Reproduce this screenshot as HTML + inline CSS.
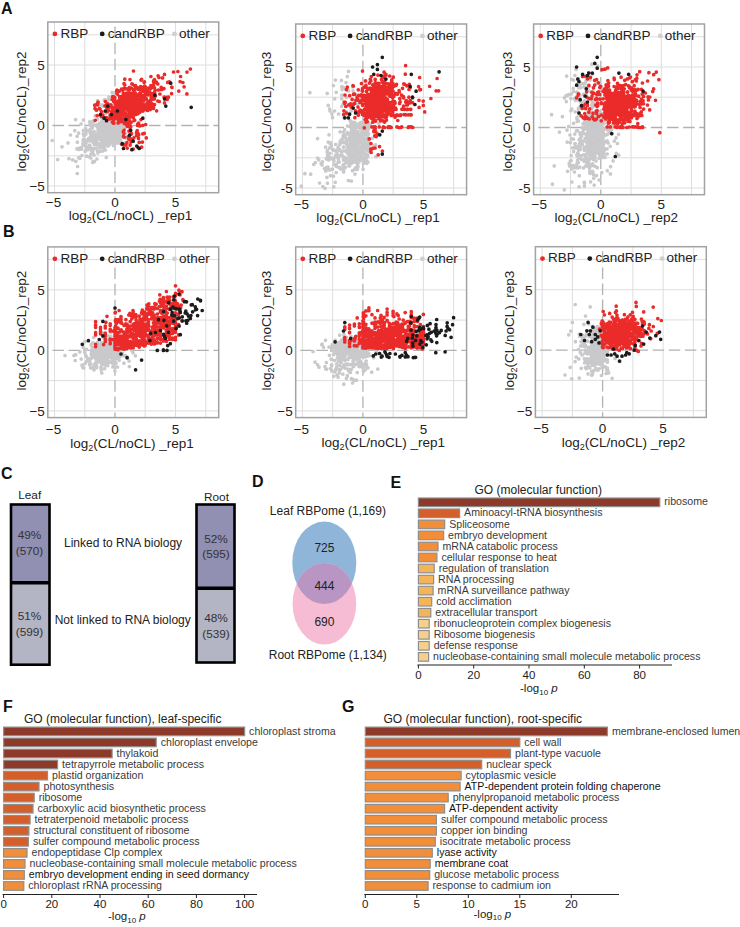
<!DOCTYPE html>
<html><head><meta charset="utf-8"><style>
html,body{margin:0;padding:0;background:#fff;width:740px;height:927px;overflow:hidden}
svg{display:block;font-family:"Liberation Sans",sans-serif}
</style></head><body>
<svg width="740" height="927" viewBox="0 0 740 927">
<rect width="740" height="927" fill="#fff"/>
<path d="M54.5 22.0V192.7M84.8 22.0V192.7M145.2 22.0V192.7M175.5 22.0V192.7M205.8 22.0V192.7M47.8 186.0H218.7M47.8 155.8H218.7M47.8 95.2H218.7M47.8 65.0H218.7M47.8 34.8H218.7" stroke="#dedede" stroke-width="1" fill="none"/>
<path d="M115.0 22.0V192.7M47.8 125.5H218.7" stroke="#b2b2b2" stroke-width="1.3" stroke-dasharray="11.5 4.6" stroke-dashoffset="-4.6" fill="none"/>
<path d="M104.5 133.7h0M116.6 128.3h0M115.9 134.2h0M117.2 132.0h0M103.2 133.7h0M102.6 123.3h0M120.0 136.3h0M107.7 126.9h0M105.6 139.8h0M105.3 136.1h0M113.8 122.7h0M105.8 122.8h0M112.4 124.0h0M117.5 140.2h0M114.2 140.9h0M101.8 135.0h0M116.7 131.3h0M105.4 125.3h0M119.4 138.5h0M110.4 129.8h0M119.2 140.9h0M112.4 122.6h0M113.5 128.0h0M116.7 132.6h0M107.3 130.8h0M111.9 136.2h0M118.2 135.7h0M111.1 127.1h0M117.4 124.3h0M114.3 138.1h0M118.1 123.8h0M115.5 126.9h0M111.6 132.9h0M113.0 140.4h0M114.8 124.9h0M104.9 127.2h0M115.4 141.0h0M102.7 130.7h0M105.9 136.9h0M113.7 129.5h0M116.2 131.3h0M108.2 143.4h0M103.9 139.5h0M111.9 128.0h0M105.7 135.2h0M119.8 134.9h0M115.5 130.2h0M114.5 133.3h0M112.2 128.4h0M104.8 126.3h0M118.6 142.6h0M105.5 138.2h0M103.5 140.6h0M114.1 141.0h0M103.0 123.0h0M109.5 131.9h0M110.9 136.2h0M110.5 139.4h0M112.9 138.2h0M104.5 139.1h0M109.7 123.4h0M113.3 122.3h0M109.4 138.0h0M115.4 139.5h0M121.0 135.1h0M106.9 137.7h0M107.6 123.2h0M120.9 131.5h0M106.2 143.4h0M103.2 137.2h0M114.1 130.0h0M118.2 125.8h0M108.5 129.0h0M110.3 127.8h0M105.3 122.4h0M102.1 130.2h0M108.5 126.2h0M104.5 124.2h0M101.8 127.6h0M115.3 132.6h0M105.1 135.3h0M110.3 139.0h0M104.8 125.3h0M112.3 137.8h0M113.8 129.9h0M104.3 130.9h0M113.0 141.2h0M107.5 124.8h0M112.9 138.8h0M109.3 133.7h0M115.4 124.9h0M103.4 142.6h0M110.2 143.2h0M104.7 141.3h0M103.4 130.0h0M103.5 131.3h0M120.4 140.6h0M116.4 130.9h0M105.0 123.0h0M116.0 135.4h0M118.9 141.4h0M117.8 125.3h0M103.9 123.7h0M116.9 123.7h0M107.1 127.6h0M116.8 136.1h0M102.4 143.3h0M111.5 131.7h0M104.1 129.9h0M102.7 133.2h0M111.6 139.2h0M102.6 124.0h0M118.2 130.8h0M102.3 132.2h0M120.3 126.9h0M115.0 142.8h0M112.9 138.6h0M120.8 143.4h0M106.0 124.5h0M104.0 137.1h0M107.6 124.4h0M115.2 123.3h0M105.4 141.7h0M108.3 127.0h0M113.7 123.3h0M115.5 141.9h0M107.8 139.2h0M106.9 129.1h0M110.3 127.2h0M102.0 123.9h0M104.8 127.5h0M118.0 142.7h0M112.2 122.4h0M101.8 132.8h0M109.9 135.3h0M105.5 139.7h0M106.8 138.9h0M107.4 124.0h0M120.1 138.0h0M102.2 137.9h0M118.3 139.8h0M114.5 141.6h0M108.5 140.0h0M113.6 135.6h0M116.7 132.4h0M109.5 143.2h0M117.9 142.8h0M111.3 122.1h0M117.0 135.9h0M119.7 138.0h0M112.9 131.1h0M115.6 137.4h0M109.4 136.6h0M119.5 127.6h0M108.3 126.8h0M113.6 138.3h0M111.4 141.5h0M105.8 142.0h0M103.3 130.2h0M117.8 125.5h0M105.9 123.0h0M108.2 128.6h0M113.2 133.3h0M115.0 124.2h0M115.2 132.6h0M118.4 127.4h0M108.9 122.3h0M109.5 142.8h0M120.3 123.1h0M112.1 127.3h0M115.2 141.5h0M117.1 130.0h0M120.4 133.2h0M107.1 126.9h0M112.4 124.6h0M102.5 128.7h0M119.3 139.7h0M103.4 133.0h0M114.3 129.9h0M111.9 136.3h0M115.4 122.1h0M111.5 135.0h0M120.4 139.8h0M112.6 125.4h0M117.0 127.4h0M114.9 133.9h0M120.4 143.6h0M109.9 133.8h0M115.6 137.4h0M105.5 133.9h0M114.0 132.1h0M118.6 133.4h0M105.7 129.7h0M109.2 143.1h0M109.5 141.2h0M114.1 124.0h0M115.9 122.8h0M104.5 125.5h0M116.5 138.4h0M110.9 139.9h0M107.7 132.2h0M109.2 135.2h0M115.5 128.9h0M103.9 131.2h0M116.7 142.9h0M116.2 143.2h0M110.0 135.3h0M102.1 142.0h0M114.7 137.8h0M111.7 140.1h0M113.6 123.3h0M116.3 135.7h0M120.2 136.0h0M107.1 134.5h0M120.8 135.2h0M107.3 131.8h0M114.0 127.1h0M115.4 129.0h0M109.7 134.1h0M120.7 132.9h0M116.4 135.8h0M101.9 135.1h0M111.8 135.0h0M105.8 140.1h0M102.7 128.3h0M111.9 125.9h0M118.4 127.3h0M117.1 124.0h0M119.4 125.8h0M119.0 136.1h0M121.0 124.2h0M117.4 125.2h0M116.1 131.1h0M111.7 123.4h0M107.2 129.6h0M119.8 137.9h0M104.7 136.9h0M110.2 132.6h0M106.2 138.4h0M104.5 133.4h0M104.4 136.0h0M105.0 129.9h0M113.7 138.6h0M121.0 137.5h0M119.2 137.1h0M112.6 130.8h0M112.9 136.3h0M117.0 130.1h0M112.5 133.2h0M107.2 134.8h0M115.9 128.2h0M121.0 127.8h0M120.9 136.5h0M107.0 121.9h0M109.9 131.0h0M118.5 140.9h0M104.0 133.5h0M105.6 142.3h0M115.5 131.7h0M110.5 129.7h0M96.5 110.6h0M100.6 104.9h0M103.0 105.2h0M112.6 120.9h0M108.1 105.1h0M108.1 122.6h0M103.1 119.8h0M109.0 120.0h0M112.1 98.0h0M93.2 121.5h0M108.6 121.2h0M102.8 105.8h0M108.6 99.7h0M101.7 121.4h0M114.6 100.2h0M95.1 115.8h0M103.4 119.9h0M103.6 113.3h0M114.9 97.0h0M107.3 104.7h0M104.9 99.6h0M111.7 120.0h0M112.2 92.4h0M103.9 112.7h0M104.2 100.1h0M111.5 113.2h0M108.3 99.8h0M103.2 121.1h0M111.4 105.8h0M91.5 122.0h0M106.1 100.6h0M102.5 105.5h0M108.9 97.1h0M105.6 100.0h0M101.9 117.9h0M104.2 137.2h0M111.8 120.4h0M83.3 130.6h0M97.9 127.5h0M112.9 113.8h0M88.7 131.0h0M101.5 145.9h0M111.0 123.0h0M89.2 138.7h0M85.2 151.3h0M100.6 139.4h0M96.7 133.9h0M119.9 129.0h0M112.4 130.9h0M96.2 148.7h0M98.6 132.1h0M79.8 158.4h0M86.1 143.1h0M113.0 132.5h0M85.6 128.6h0M106.2 132.3h0M94.6 148.3h0M118.0 134.3h0M99.3 123.6h0M84.5 139.9h0M104.5 131.2h0M125.5 133.5h0M106.8 129.7h0M113.2 142.8h0M77.3 142.2h0M113.5 145.6h0M124.6 133.0h0M122.8 125.2h0M111.4 142.2h0M83.3 139.5h0M96.8 124.8h0M106.7 133.9h0M83.4 134.2h0M108.4 124.7h0M110.3 142.4h0M101.8 126.5h0M92.0 132.4h0M113.4 130.3h0M90.0 124.2h0M82.9 144.1h0M107.2 136.2h0M106.3 128.9h0M105.1 131.1h0M105.5 113.5h0M120.0 135.0h0M80.0 148.0h0M113.8 131.8h0M102.0 140.4h0M90.4 133.7h0M96.3 142.9h0M95.8 135.8h0M86.6 130.6h0M103.7 126.6h0M95.7 142.3h0M112.0 136.2h0M99.0 129.4h0M88.3 139.5h0M91.0 135.7h0M104.6 131.1h0M120.4 139.6h0M102.3 146.1h0M110.0 132.8h0M86.2 146.5h0M80.9 147.6h0M91.0 154.0h0M78.5 148.7h0M89.3 156.8h0M104.0 139.4h0M83.4 140.2h0M99.6 146.5h0M78.8 157.7h0M104.9 127.0h0M100.3 131.6h0M87.9 149.7h0M119.9 127.7h0M103.4 130.6h0M96.6 141.2h0M113.3 122.4h0M107.3 140.1h0M102.3 132.5h0M97.5 138.5h0M120.8 130.3h0M97.6 151.0h0M89.5 145.1h0M103.4 138.9h0M100.3 124.8h0M87.0 140.3h0M96.8 140.0h0M103.5 134.1h0M92.8 151.5h0M111.9 130.0h0M91.4 126.4h0M102.6 141.2h0M85.2 140.7h0M105.3 139.7h0M109.4 116.8h0M98.9 144.5h0M103.3 125.0h0M121.9 123.0h0M105.2 140.3h0M122.6 137.5h0M106.3 145.7h0M105.2 123.6h0M120.9 130.0h0M81.9 155.5h0M95.4 138.0h0M94.1 141.4h0M100.8 132.5h0M79.2 149.4h0M126.3 123.7h0M97.9 152.9h0M105.0 121.5h0M120.3 133.6h0M85.9 133.9h0M113.7 136.4h0M104.8 125.8h0M101.6 142.0h0M109.1 130.9h0M109.8 144.5h0M126.2 138.1h0M112.4 116.9h0M100.3 122.8h0M108.3 119.6h0M83.2 141.4h0M100.4 135.3h0M99.4 130.3h0M107.1 133.1h0M103.9 139.6h0M92.3 127.8h0M99.6 137.7h0M100.4 128.8h0M92.7 149.0h0M100.7 135.9h0M88.5 138.6h0M114.1 120.4h0M111.4 123.9h0M112.0 124.4h0M118.2 121.4h0M75.9 161.3h0M100.5 132.1h0M84.1 136.0h0M102.0 122.4h0M117.1 120.5h0M104.8 145.0h0M99.2 125.4h0M113.8 130.1h0M102.1 147.0h0M114.0 130.3h0M104.9 136.1h0M107.0 134.2h0M98.2 131.7h0M97.5 119.2h0M107.4 121.2h0M99.0 139.0h0M106.3 157.4h0M93.7 140.5h0M97.1 126.7h0M125.4 127.4h0M101.2 131.1h0M101.1 146.7h0M91.8 125.4h0M94.3 124.9h0M105.4 150.0h0M103.3 124.3h0M111.7 135.6h0M106.9 131.5h0M92.1 148.4h0M96.9 159.0h0M89.9 146.1h0M118.6 136.8h0M113.2 127.5h0M95.2 143.1h0M107.3 133.1h0M93.0 134.3h0M93.6 143.0h0M122.9 125.7h0M92.0 141.3h0M86.3 149.6h0M100.3 151.2h0M102.2 139.4h0M89.2 140.8h0M105.5 140.2h0M98.2 130.7h0M89.7 121.9h0M94.1 131.5h0M90.3 138.7h0M93.0 153.9h0M94.0 155.1h0M72.7 159.9h0M110.4 119.1h0M90.8 140.2h0M101.4 138.5h0M123.3 134.3h0M119.6 111.2h0M90.2 129.3h0M103.1 144.5h0M90.9 133.6h0M83.6 145.3h0M95.2 141.3h0M92.7 162.5h0M117.9 128.2h0M62.0 146.8h0M108.2 145.9h0M90.8 158.0h0M98.0 129.7h0M98.2 132.4h0M101.3 136.7h0M94.4 144.5h0M96.2 135.7h0M107.4 138.4h0M114.2 127.7h0M111.3 131.1h0M81.6 149.1h0M87.0 147.1h0M103.3 137.9h0M99.2 131.8h0M107.6 121.7h0M101.1 147.5h0M102.8 151.0h0M109.3 130.4h0M104.6 128.0h0M111.7 125.9h0M89.2 138.1h0M112.0 120.6h0M95.1 144.3h0M123.5 126.2h0M118.1 131.1h0M103.8 147.8h0M112.7 134.9h0M77.1 136.3h0M102.9 125.6h0M102.6 132.5h0M104.6 134.7h0M86.5 147.0h0M99.6 147.4h0M118.5 136.2h0M91.6 150.6h0M113.2 134.7h0M89.7 148.2h0M119.7 132.9h0M104.9 137.3h0M106.4 119.7h0M77.6 166.5h0M92.8 137.4h0M99.1 130.5h0M120.8 142.7h0M68.0 142.9h0M86.6 156.2h0M78.7 133.1h0M101.7 123.5h0M99.4 135.8h0M110.6 140.8h0M112.9 106.6h0M69.0 158.7h0M94.5 161.6h0M97.3 144.9h0M77.0 148.9h0M52.2 140.5h0M57.7 159.6h0M81.1 124.0h0M107.5 133.2h0M93.1 161.3h0M98.5 143.6h0M77.3 173.5h0M124.7 143.0h0M75.6 119.6h0M94.6 137.3h0M70.5 135.0h0M110.2 118.5h0M83.4 120.0h0M92.9 121.2h0M97.5 100.6h0M74.8 130.7h0M115.6 133.9h0M109.3 123.7h0" stroke="#c9c9cb" stroke-width="3.7" stroke-linecap="round" fill="none"/>
<path d="M133.9 89.9h0M125.3 95.5h0M137.4 95.0h0M123.3 93.3h0M124.9 102.9h0M120.2 106.6h0M140.4 100.7h0M114.3 118.3h0M127.9 107.2h0M120.3 102.8h0M137.8 112.0h0M129.7 93.6h0M135.0 114.6h0M118.8 115.9h0M150.9 99.4h0M134.6 110.1h0M125.7 104.9h0M130.6 107.9h0M117.5 92.0h0M134.7 105.7h0M118.7 109.9h0M125.9 115.2h0M118.4 118.4h0M138.1 102.6h0M137.3 102.0h0M132.2 103.5h0M136.3 101.3h0M123.9 108.5h0M118.5 110.5h0M137.9 106.5h0M128.0 118.5h0M125.3 100.7h0M127.0 107.6h0M164.0 88.6h0M117.9 110.0h0M121.1 106.7h0M134.1 96.0h0M126.3 122.5h0M138.1 100.0h0M129.8 114.8h0M137.0 107.6h0M118.1 123.0h0M122.8 106.7h0M133.6 102.0h0M133.1 95.6h0M136.6 100.3h0M128.3 103.6h0M121.8 121.1h0M117.7 91.7h0M146.7 108.1h0M121.8 112.0h0M130.7 111.8h0M151.9 99.6h0M125.0 88.7h0M135.9 98.8h0M112.6 96.6h0M125.7 118.1h0M128.0 114.8h0M127.0 100.7h0M129.2 113.0h0M121.9 104.0h0M135.4 103.5h0M138.2 101.3h0M128.6 97.9h0M147.6 93.1h0M125.8 108.1h0M132.8 109.7h0M131.3 112.1h0M126.9 102.8h0M133.2 100.9h0M147.3 90.8h0M117.0 93.4h0M125.5 101.2h0M135.4 85.6h0M129.8 107.0h0M112.7 107.7h0M114.3 109.5h0M124.4 109.1h0M130.0 103.5h0M138.1 99.9h0M121.6 105.6h0M119.8 116.1h0M134.2 103.2h0M137.0 104.8h0M121.5 113.7h0M151.4 106.4h0M129.9 102.6h0M117.8 109.9h0M124.3 118.7h0M136.3 114.3h0M126.6 107.6h0M118.1 119.7h0M131.4 106.7h0M133.4 105.7h0M113.7 123.2h0M126.2 93.4h0M130.4 110.0h0M140.5 89.5h0M145.4 88.2h0M141.6 100.6h0M129.6 108.4h0M115.6 106.0h0M121.6 97.0h0M129.9 101.4h0M134.6 89.7h0M134.2 108.0h0M138.2 99.4h0M121.0 99.6h0M129.5 108.7h0M149.7 109.2h0M134.7 110.0h0M129.7 117.1h0M130.3 111.3h0M139.7 112.3h0M113.4 96.5h0M134.8 114.0h0M117.8 113.2h0M120.8 115.5h0M121.9 103.0h0M115.2 111.9h0M128.0 105.0h0M151.1 94.5h0M137.1 105.1h0M137.5 113.3h0M135.8 96.2h0M137.3 98.8h0M114.2 117.1h0M137.8 111.0h0M139.2 104.1h0M124.8 79.2h0M140.5 93.5h0M119.7 104.2h0M126.2 105.6h0M144.2 109.8h0M129.0 114.4h0M144.5 81.9h0M146.4 92.6h0M121.6 112.8h0M141.0 108.0h0M152.6 95.8h0M143.5 104.9h0M128.7 98.1h0M124.9 101.0h0M124.4 104.0h0M113.5 120.1h0M125.5 100.3h0M133.5 105.5h0M117.9 103.2h0M144.5 95.8h0M114.2 119.1h0M122.9 90.0h0M119.0 119.6h0M112.5 109.3h0M118.0 107.0h0M136.8 102.6h0M127.7 100.1h0M136.6 100.5h0M135.8 104.6h0M136.7 112.1h0M122.0 100.3h0M119.4 112.3h0M143.6 100.9h0M134.5 102.0h0M130.7 106.2h0M136.2 96.4h0M137.3 105.8h0M114.8 98.5h0M118.5 120.4h0M125.0 100.7h0M132.4 109.3h0M126.2 121.0h0M122.5 97.0h0M127.6 93.5h0M136.9 98.4h0M114.5 115.9h0M115.9 114.1h0M126.0 106.8h0M135.4 104.3h0M124.0 88.4h0M139.1 101.6h0M126.8 96.3h0M121.4 99.8h0M137.0 113.6h0M124.6 123.6h0M124.0 108.0h0M112.4 113.6h0M136.9 101.5h0M137.6 110.3h0M130.1 97.1h0M140.4 98.1h0M130.0 100.0h0M141.1 99.3h0M112.1 99.5h0M133.3 100.7h0M130.0 94.8h0M117.1 101.7h0M129.8 120.9h0M115.3 117.7h0M132.9 114.9h0M142.3 105.8h0M140.3 104.2h0M129.2 87.7h0M119.5 103.0h0M113.3 112.5h0M129.6 99.0h0M137.4 105.2h0M126.8 96.3h0M134.9 102.8h0M124.8 84.8h0M115.2 109.5h0M140.0 98.6h0M116.0 113.9h0M145.3 89.6h0M120.3 121.7h0M129.5 89.7h0M133.1 100.2h0M127.0 105.4h0M129.3 110.7h0M123.3 118.2h0M136.2 105.0h0M141.8 101.7h0M154.6 93.8h0M113.2 116.3h0M131.5 114.5h0M122.4 111.0h0M132.4 84.1h0M125.4 100.1h0M126.2 98.1h0M130.9 115.6h0M114.1 113.1h0M116.5 108.7h0M136.9 109.5h0M124.8 117.5h0M123.1 108.6h0M116.9 90.0h0M139.5 110.5h0M119.4 96.5h0M139.4 93.5h0M154.5 104.6h0M132.7 108.8h0M120.2 106.6h0M144.3 107.5h0M138.1 102.8h0M120.5 109.3h0M130.7 102.9h0M134.9 102.7h0M120.5 97.4h0M131.9 104.0h0M130.2 104.0h0M129.9 117.2h0M118.6 100.8h0M132.9 107.8h0M134.2 106.3h0M131.0 122.6h0M136.5 100.3h0M116.6 91.0h0M144.6 86.0h0M123.1 107.0h0M130.8 110.8h0M144.6 97.6h0M149.4 104.9h0M139.0 99.8h0M141.7 107.2h0M114.8 107.9h0M150.7 107.8h0M116.5 110.6h0M122.2 109.5h0M132.2 104.0h0M123.4 105.9h0M133.6 110.8h0M119.9 106.0h0M134.7 120.2h0M146.3 104.1h0M135.5 86.5h0M127.1 101.2h0M129.0 101.4h0M126.5 100.5h0M126.8 95.8h0M129.1 101.0h0M128.4 116.9h0M145.2 91.8h0M134.7 85.8h0M140.9 108.0h0M127.5 105.7h0M128.6 99.9h0M126.0 114.5h0M144.2 100.1h0M113.8 101.4h0M142.9 108.7h0M128.6 111.1h0M130.1 94.5h0M129.0 112.2h0M129.9 121.7h0M148.5 107.8h0M144.6 98.4h0M122.8 110.2h0M138.1 104.5h0M134.8 105.9h0M125.6 119.6h0M142.8 99.1h0M129.2 99.0h0M118.9 100.6h0M122.7 114.4h0M120.1 116.0h0M118.3 91.2h0M127.7 109.3h0M137.8 113.7h0M124.2 123.3h0M146.2 98.5h0M119.2 109.2h0M134.6 103.1h0M130.2 99.2h0M123.5 94.8h0M134.2 104.3h0M121.0 101.3h0M121.8 112.6h0M121.8 99.8h0M118.8 100.8h0M140.1 101.7h0M118.0 115.4h0M124.4 106.1h0M122.6 110.9h0M125.6 100.7h0M119.2 115.0h0M121.6 118.9h0M122.1 100.9h0M138.6 123.0h0M117.9 90.7h0M120.2 112.4h0M127.3 95.3h0M112.4 122.0h0M119.8 97.9h0M127.1 118.4h0M131.8 112.5h0M132.2 97.0h0M135.2 92.8h0M132.7 103.2h0M129.2 88.4h0M123.4 114.0h0M139.1 107.8h0M119.8 105.5h0M123.8 100.9h0M127.1 109.6h0M120.3 111.2h0M126.4 104.5h0M129.4 107.2h0M123.0 106.1h0M138.5 112.0h0M123.7 102.3h0M114.1 111.1h0M138.0 108.9h0M115.1 118.0h0M138.1 89.2h0M119.9 118.4h0M121.5 89.2h0M143.5 90.4h0M135.8 106.2h0M128.8 107.2h0M141.0 119.6h0M127.9 101.3h0M123.2 110.6h0M138.4 88.3h0M126.0 94.6h0M126.8 96.8h0M113.5 96.9h0M116.7 115.8h0M128.1 95.2h0M114.4 99.7h0M125.4 113.4h0M140.5 98.0h0M130.1 106.9h0M117.4 108.9h0M115.2 116.5h0M127.4 93.2h0M126.0 93.6h0M138.0 104.6h0M136.9 98.9h0M128.5 111.1h0M129.4 112.0h0M111.4 117.8h0M135.2 110.6h0M137.9 107.6h0M145.5 107.6h0M143.7 105.7h0M119.7 109.7h0M135.6 99.5h0M126.5 117.0h0M135.9 97.3h0M147.5 110.5h0M115.1 103.7h0M129.1 106.9h0M123.8 106.8h0M117.6 118.4h0M112.5 108.6h0M151.1 97.2h0M121.5 96.5h0M124.4 102.6h0M151.8 103.7h0M121.3 112.1h0M130.8 93.6h0M148.8 105.4h0M134.5 114.6h0M133.3 117.6h0M124.5 108.1h0M128.8 90.1h0M137.9 104.1h0M119.7 111.7h0M125.7 96.1h0M127.2 106.4h0M120.7 121.3h0M127.6 100.9h0M119.2 119.4h0M143.1 97.8h0M135.7 95.1h0M115.8 105.1h0M133.5 105.0h0M134.3 98.0h0M131.9 83.9h0M135.2 104.8h0M126.8 102.1h0M141.0 80.1h0M140.2 90.0h0M128.1 124.9h0M184.1 86.8h0M121.8 89.8h0M126.0 98.3h0M135.3 94.0h0M156.6 110.8h0M95.0 108.6h0M172.0 87.4h0M144.1 82.3h0M126.0 120.2h0M96.4 110.1h0M125.3 112.9h0M124.8 122.1h0M133.4 89.5h0M139.5 105.0h0M133.4 108.0h0M137.1 87.4h0M151.7 97.2h0M153.3 108.4h0M144.4 89.0h0M145.1 90.7h0M139.4 95.5h0M149.7 91.8h0M131.7 112.2h0M133.5 71.0h0M171.6 93.6h0M125.4 107.6h0M158.4 90.0h0M150.8 88.4h0M108.3 110.2h0M159.9 94.0h0M154.5 79.6h0M122.8 96.5h0M134.1 105.3h0M145.3 93.5h0M162.6 77.9h0M134.0 120.6h0M155.1 90.1h0M110.5 106.4h0M106.6 111.4h0M126.1 103.6h0M167.7 82.4h0M147.9 101.1h0M186.9 93.9h0M147.8 95.0h0M130.0 79.5h0M164.1 97.2h0M140.6 86.7h0M137.0 99.3h0M164.7 97.6h0M152.4 93.5h0M157.8 83.9h0M139.5 94.6h0M173.5 72.0h0M144.5 106.4h0M101.3 116.5h0M126.9 88.9h0M109.5 118.9h0M142.8 95.7h0M166.4 97.3h0M143.8 107.7h0M164.5 74.4h0M143.3 91.2h0M146.7 94.5h0M187.0 72.1h0M156.4 82.2h0M164.5 102.9h0M123.5 97.7h0M154.2 95.1h0M120.7 118.1h0M117.7 104.1h0M167.2 99.4h0M119.2 91.2h0M143.1 87.0h0M180.1 81.6h0M139.9 125.9h0M117.4 94.1h0M130.9 102.2h0M136.1 99.3h0M154.5 87.8h0M127.1 98.0h0M151.2 104.1h0M161.7 89.4h0M129.8 112.4h0M110.9 118.2h0M136.5 101.2h0M180.6 76.5h0M159.0 77.5h0M132.2 93.0h0M145.6 87.2h0M168.5 97.2h0M178.8 91.1h0M118.7 108.2h0M123.4 109.3h0M153.5 81.6h0M141.6 79.3h0M142.8 111.1h0M136.9 100.4h0M128.7 106.3h0M148.8 88.2h0M118.1 119.3h0M154.6 92.2h0M182.9 82.5h0M130.7 94.9h0M131.7 113.9h0M110.9 104.9h0M131.4 88.1h0M139.5 94.4h0M150.9 76.5h0M127.4 122.4h0M161.3 89.5h0M159.3 101.5h0M157.8 101.0h0M150.4 102.8h0M171.7 87.0h0M177.9 71.5h0M153.7 80.7h0M190.4 69.0h0M123.5 102.4h0M146.0 104.4h0M155.3 96.1h0M158.1 75.8h0M153.6 107.3h0M124.0 83.7h0M153.7 84.6h0M125.5 105.2h0M155.0 81.4h0M140.5 96.4h0M140.0 101.3h0M150.9 85.5h0M123.1 112.0h0M129.6 112.1h0M141.1 88.7h0M130.4 97.2h0M151.9 87.3h0M121.7 109.9h0M149.0 108.0h0M154.4 98.9h0M148.8 103.3h0M161.2 87.4h0M169.4 81.9h0M114.7 97.5h0M106.6 117.8h0M135.6 114.5h0M146.0 91.8h0M150.2 109.6h0M138.1 103.5h0M144.6 107.9h0M139.2 142.4h0M137.7 125.5h0M142.8 133.8h0M126.9 124.8h0M133.9 137.8h0M136.5 132.7h0M126.0 144.8h0M138.5 138.4h0M121.9 144.4h0M137.0 131.4h0M130.2 128.1h0M123.5 136.3h0M138.7 135.1h0M146.3 137.9h0M130.8 126.4h0M131.8 139.5h0M137.2 130.5h0M128.8 139.3h0M130.6 134.5h0M137.7 124.2h0M123.8 133.2h0M141.7 147.1h0M124.0 145.1h0M133.3 149.0h0M130.1 145.1h0M129.5 124.6h0M130.4 138.5h0M127.2 148.1h0M126.9 142.7h0M128.1 136.9h0M131.5 133.7h0M136.5 135.6h0M131.0 142.0h0M138.7 124.7h0M138.7 134.2h0M127.3 126.3h0M124.3 137.1h0M142.8 125.3h0M123.3 131.7h0M144.3 133.3h0M145.7 124.5h0M124.1 130.0h0M125.6 144.6h0M142.4 142.1h0M128.9 131.1h0M107.9 103.9h0M107.2 111.2h0M99.5 108.6h0M97.3 103.6h0M107.3 111.7h0M95.2 120.3h0M101.4 111.6h0M112.2 107.3h0M109.4 106.9h0M98.2 102.3h0M98.1 102.2h0M107.9 119.1h0M110.5 116.4h0M105.0 105.9h0M96.0 109.6h0M106.9 108.1h0M106.9 117.9h0M114.8 102.5h0M114.8 109.6h0M102.7 115.1h0M104.7 117.5h0M100.1 109.1h0M97.6 105.0h0M105.4 101.5h0M97.2 115.6h0M114.5 113.4h0M111.5 111.7h0M106.9 103.5h0M94.7 105.2h0M110.2 114.8h0" stroke="#ea2b2a" stroke-width="3.7" stroke-linecap="round" fill="none"/>
<path d="M107.7 106.1h0M105.3 111.0h0M100.5 114.6h0M104.1 118.2h0M106.5 120.7h0M111.4 114.6h0M130.7 130.3h0M129.5 135.2h0M133.2 141.2h0M138.0 147.3h0M139.2 148.5h0M131.9 149.7h0M136.8 146.1h0M122.3 143.7h0M123.5 148.5h0M170.7 83.2h0M191.2 107.3h0M164.6 98.9h0M165.8 106.1h0M154.9 95.2h0M142.8 118.2h0M125.9 119.5h0M117.4 111.0h0" stroke="#1c1c1c" stroke-width="3.7" stroke-linecap="round" fill="none"/>
<rect x="47.8" y="22.0" width="170.9" height="170.7" fill="none" stroke="#a3a3a3" stroke-width="1.5"/>
<circle cx="54.9" cy="33.9" r="2.4" fill="#ea2b2a"/>
<circle cx="102.2" cy="33.9" r="2.4" fill="#1c1c1c"/>
<circle cx="174.5" cy="33.9" r="2.4" fill="#cfcfcf"/>
<text x="60.5" y="37.7" font-size="13.5" text-anchor="start" font-weight="normal" fill="#222" >RBP</text>
<text x="107.8" y="37.7" font-size="13.5" text-anchor="start" font-weight="normal" fill="#222" >candRBP</text>
<text x="179.0" y="37.7" font-size="13.5" text-anchor="start" font-weight="normal" fill="#222" >other</text>
<text x="44.8" y="69.8" font-size="13.5" text-anchor="end" font-weight="normal" fill="#222" >5</text>
<text x="44.8" y="130.3" font-size="13.5" text-anchor="end" font-weight="normal" fill="#222" >0</text>
<text x="44.8" y="190.8" font-size="13.5" text-anchor="end" font-weight="normal" fill="#222" >−5</text>
<text x="53.5" y="207.2" font-size="13.5" text-anchor="middle" font-weight="normal" fill="#222" >−5</text>
<text x="115.0" y="207.2" font-size="13.5" text-anchor="middle" font-weight="normal" fill="#222" >0</text>
<text x="175.5" y="207.2" font-size="13.5" text-anchor="middle" font-weight="normal" fill="#222" >5</text>
<text x="130.5" y="219.9" font-size="13.5" text-anchor="middle" font-weight="normal" fill="#222" >log<tspan font-size="9" dy="3">2</tspan><tspan dy="-3">(CL/noCL) _rep1</tspan></text>
<g transform="translate(25.8,111.5) rotate(-90)">
<text x="0.0" y="0.0" font-size="13.5" text-anchor="middle" font-weight="normal" fill="#222" >log<tspan font-size="9" dy="3">2</tspan><tspan dy="-3">(CL/noCL)_rep2</tspan></text>
</g>
<path d="M302.4 24.0V194.7M332.6 24.0V194.7M393.1 24.0V194.7M423.4 24.0V194.7M453.6 24.0V194.7M295.7 188.0H466.6M295.7 157.8H466.6M295.7 97.2H466.6M295.7 67.0H466.6M295.7 36.8H466.6" stroke="#dedede" stroke-width="1" fill="none"/>
<path d="M362.9 24.0V194.7M295.7 127.5H466.6" stroke="#b2b2b2" stroke-width="1.3" stroke-dasharray="11.5 4.6" stroke-dashoffset="-4.6" fill="none"/>
<path d="M360.8 155.6h0M368.3 124.7h0M358.6 135.7h0M353.7 154.4h0M355.2 134.5h0M353.7 122.7h0M351.0 155.6h0M351.3 131.2h0M356.7 143.8h0M355.9 136.8h0M357.4 155.0h0M357.9 150.9h0M351.7 128.9h0M362.8 135.6h0M366.7 147.1h0M356.9 145.9h0M357.4 135.5h0M349.7 144.1h0M359.9 149.2h0M350.0 134.0h0M349.8 139.9h0M352.6 162.3h0M353.1 161.0h0M352.5 134.8h0M363.7 148.4h0M362.2 143.7h0M359.2 126.7h0M355.6 127.0h0M363.0 134.9h0M349.7 160.2h0M350.2 149.2h0M367.9 126.7h0M365.8 158.8h0M363.3 131.0h0M365.3 130.2h0M352.3 156.2h0M364.9 132.5h0M366.9 144.9h0M366.8 157.9h0M368.1 126.3h0M356.1 160.9h0M360.2 134.6h0M356.4 161.4h0M355.0 128.9h0M351.3 124.1h0M354.4 155.1h0M351.8 122.3h0M367.0 150.3h0M351.4 136.1h0M366.8 163.3h0M361.8 127.5h0M358.5 139.7h0M365.2 153.7h0M354.9 135.8h0M360.3 141.1h0M356.1 124.1h0M355.2 135.0h0M366.9 146.8h0M350.6 154.5h0M350.9 157.5h0M351.9 149.3h0M356.8 144.9h0M362.5 135.1h0M362.9 148.4h0M362.4 140.5h0M352.1 140.7h0M355.8 135.2h0M363.8 153.6h0M358.0 144.5h0M355.3 162.1h0M350.6 121.8h0M363.9 145.2h0M362.5 152.4h0M363.3 123.5h0M364.6 144.1h0M368.6 124.7h0M350.7 146.4h0M358.3 152.2h0M361.5 157.7h0M364.1 127.5h0M350.8 134.5h0M354.7 136.8h0M363.0 122.4h0M365.0 149.4h0M363.7 157.6h0M363.4 146.1h0M354.7 153.7h0M353.8 130.1h0M351.5 154.0h0M353.3 157.1h0M363.7 138.9h0M362.5 125.7h0M358.3 162.2h0M353.3 141.9h0M363.4 124.9h0M359.5 154.2h0M361.1 124.2h0M356.0 124.4h0M367.1 139.4h0M358.9 158.3h0M351.7 162.1h0M361.4 133.6h0M368.8 138.3h0M368.8 146.7h0M352.2 161.3h0M355.2 141.3h0M368.7 151.2h0M354.1 133.2h0M357.1 140.2h0M352.5 127.7h0M367.4 131.8h0M367.7 149.7h0M350.2 150.9h0M367.0 143.9h0M353.5 157.4h0M352.8 145.2h0M367.5 126.4h0M364.3 131.8h0M353.3 130.9h0M353.9 141.5h0M350.2 126.0h0M352.1 138.7h0M362.4 136.5h0M362.8 148.2h0M364.9 124.1h0M361.5 122.3h0M366.0 161.4h0M362.6 159.9h0M362.4 148.1h0M366.1 161.9h0M367.9 162.0h0M350.7 163.7h0M352.0 122.0h0M365.8 125.0h0M353.2 134.7h0M365.0 133.0h0M354.8 122.7h0M363.7 134.8h0M355.1 147.0h0M364.3 141.9h0M359.0 124.9h0M357.7 127.4h0M350.5 141.3h0M363.4 163.3h0M363.1 151.7h0M361.7 137.4h0M352.2 123.8h0M354.3 158.0h0M358.2 161.1h0M351.6 131.5h0M351.5 140.9h0M366.7 144.6h0M365.4 128.6h0M352.8 160.6h0M364.8 127.1h0M366.1 133.6h0M359.5 123.2h0M363.9 131.5h0M367.2 161.5h0M363.9 139.1h0M349.8 153.0h0M363.5 141.4h0M360.5 151.6h0M360.6 126.6h0M368.6 140.4h0M363.7 160.1h0M352.3 140.1h0M365.6 158.7h0M352.4 142.6h0M355.5 157.8h0M352.7 145.8h0M364.9 156.5h0M365.2 160.6h0M354.4 135.5h0M349.7 150.2h0M352.6 154.0h0M366.8 157.1h0M363.5 125.3h0M354.4 127.3h0M355.8 131.1h0M360.8 149.0h0M366.7 134.3h0M355.8 139.5h0M355.3 151.7h0M367.8 122.5h0M352.6 125.0h0M363.4 163.3h0M351.7 145.3h0M366.8 126.8h0M354.4 144.9h0M367.5 154.9h0M351.6 146.2h0M362.8 126.8h0M366.6 163.3h0M353.0 158.4h0M361.1 146.6h0M367.4 137.7h0M361.5 134.7h0M353.6 125.9h0M366.3 129.0h0M350.2 155.6h0M361.4 138.3h0M346.4 158.3h0M367.9 156.1h0M342.9 165.5h0M363.9 122.9h0M356.3 132.4h0M349.5 165.9h0M351.0 123.0h0M341.9 141.4h0M327.5 153.7h0M368.5 134.0h0M322.4 161.9h0M335.8 144.4h0M353.3 147.4h0M352.6 160.1h0M344.8 142.0h0M354.0 123.3h0M336.5 156.8h0M352.3 162.8h0M354.4 150.4h0M347.1 152.6h0M354.5 134.5h0M343.8 142.7h0M326.6 169.8h0M333.4 150.2h0M350.4 156.7h0M351.6 147.6h0M329.7 143.1h0M349.6 137.8h0M352.6 150.4h0M340.3 155.4h0M358.6 142.7h0M343.2 166.4h0M343.9 136.2h0M359.9 137.4h0M370.5 124.1h0M331.3 145.7h0M340.7 142.7h0M338.4 159.1h0M324.5 168.5h0M357.0 140.9h0M365.1 138.3h0M361.9 132.4h0M357.8 131.5h0M343.6 132.2h0M363.1 169.3h0M318.7 159.8h0M356.9 153.0h0M361.7 125.0h0M340.7 169.0h0M345.5 160.3h0M360.1 159.6h0M347.9 153.6h0M357.0 143.0h0M336.2 172.5h0M375.7 144.8h0M351.1 140.2h0M360.8 136.3h0M335.8 150.7h0M357.0 159.6h0M358.0 166.8h0M350.0 162.9h0M333.2 149.5h0M327.5 156.3h0M361.4 156.7h0M347.9 133.9h0M341.2 151.5h0M360.9 134.2h0M369.5 144.5h0M378.8 123.3h0M345.3 167.3h0M360.9 142.0h0M340.0 141.8h0M363.1 129.3h0M332.5 169.2h0M329.9 158.9h0M369.0 123.1h0M367.6 156.2h0M349.6 157.6h0M347.1 146.2h0M354.7 169.2h0M366.5 145.7h0M356.9 166.9h0M352.3 144.0h0M375.9 156.7h0M344.1 168.1h0M325.6 147.2h0M347.3 145.9h0M350.1 152.4h0M343.9 168.9h0M360.3 134.4h0M344.7 129.5h0M350.6 158.7h0M355.9 136.0h0M330.0 153.3h0M360.5 146.1h0M360.6 128.9h0M327.1 152.0h0M338.8 167.5h0M352.2 154.5h0M350.3 155.8h0M330.0 157.4h0M341.6 154.6h0M337.0 153.1h0M345.8 138.2h0M339.9 149.7h0M335.2 182.3h0M357.1 147.0h0M350.1 136.0h0M329.9 169.9h0M334.1 164.7h0M352.0 156.0h0M348.8 152.3h0M369.7 143.6h0M362.0 147.6h0M345.7 159.7h0M356.5 148.3h0M360.1 142.3h0M339.2 167.3h0M356.1 162.2h0M355.0 174.1h0M354.7 143.5h0M346.5 144.0h0M326.4 167.5h0M355.5 132.5h0M348.4 147.0h0M347.3 140.4h0M333.8 186.8h0M363.7 135.0h0M328.5 156.4h0M345.3 135.2h0M332.7 149.4h0M363.1 152.7h0M329.0 134.8h0M343.4 160.1h0M377.4 135.5h0M322.0 165.0h0M358.1 138.5h0M313.8 164.4h0M317.6 138.6h0M328.1 169.7h0M349.9 154.8h0M365.4 147.9h0M354.4 141.2h0M354.0 161.0h0M374.2 145.7h0M334.0 161.0h0M351.4 181.0h0M342.3 138.9h0M351.6 145.0h0M361.4 137.7h0M326.9 177.4h0M348.4 180.5h0M347.5 126.0h0M342.3 142.0h0M301.3 186.2h0M343.5 151.0h0M335.8 144.5h0M345.0 157.6h0M346.5 143.2h0M333.9 158.2h0M341.1 140.2h0M348.8 165.8h0M346.9 162.4h0M354.9 148.4h0M354.3 143.7h0M335.6 155.0h0M348.9 147.6h0M349.5 152.7h0M322.8 186.5h0M348.1 133.3h0M360.0 151.6h0M351.8 149.0h0M325.7 171.0h0M321.1 163.4h0M375.9 136.9h0M326.3 158.9h0M362.4 153.8h0M357.8 141.7h0M342.9 156.2h0M304.9 173.7h0M361.7 160.0h0M339.1 150.1h0M357.8 140.6h0M328.5 159.9h0M357.8 133.3h0M328.2 142.1h0M340.1 131.8h0M327.4 183.2h0M346.3 141.0h0M337.1 154.7h0M319.6 183.0h0M339.1 156.0h0M367.7 133.1h0M346.5 149.8h0M330.8 142.9h0M339.2 162.1h0M358.7 142.2h0M338.2 161.9h0M354.5 124.6h0M362.3 149.7h0M366.9 142.6h0M336.4 166.5h0M357.3 169.4h0M331.8 158.5h0M355.9 167.6h0M343.7 157.9h0M357.9 135.7h0M361.4 139.0h0M343.5 147.2h0M361.2 128.7h0M356.3 150.3h0M345.8 163.0h0M361.1 133.3h0M360.2 141.7h0M339.8 144.6h0M310.7 174.2h0M336.3 164.6h0M356.4 156.5h0M343.5 164.5h0M348.3 154.7h0M358.8 126.9h0M347.6 161.2h0M367.7 134.4h0M359.7 135.7h0M357.7 164.5h0M351.4 152.8h0M348.0 152.5h0M372.2 138.3h0M352.5 170.7h0M358.9 162.0h0M353.2 148.5h0M368.3 129.2h0M367.7 123.9h0M327.4 150.5h0M362.8 131.9h0M343.7 171.3h0M352.9 138.6h0M363.2 158.5h0M345.6 151.0h0M343.6 171.9h0M325.0 188.3h0M330.5 175.7h0M348.6 139.2h0M364.2 130.0h0M340.6 168.9h0M338.0 147.7h0M355.4 148.5h0M368.8 127.3h0M362.6 140.4h0M328.0 167.2h0M347.5 132.5h0M333.5 176.2h0M315.3 162.5h0M317.6 158.0h0M329.7 147.8h0M343.1 135.7h0M348.4 153.6h0M349.3 153.8h0M348.7 114.9h0M347.8 91.0h0M346.0 82.6h0M335.4 80.1h0M333.4 85.6h0M341.8 86.7h0M338.5 114.0h0M332.0 114.1h0M348.5 90.9h0M309.9 92.7h0M355.1 94.1h0M336.2 92.3h0M343.6 87.6h0M351.2 111.1h0M358.6 94.9h0M357.5 104.0h0M347.3 76.6h0M352.5 86.8h0M341.7 98.8h0M344.0 117.8h0M348.5 71.4h0M341.4 80.4h0M346.2 111.8h0M355.5 101.2h0M350.1 120.4h0M358.8 99.9h0M353.1 90.8h0M334.6 111.0h0M341.7 106.3h0M345.2 114.7h0M352.0 105.3h0M327.2 93.4h0M328.2 105.4h0M330.0 110.9h0M329.6 109.0h0M341.9 95.2h0M344.7 103.0h0M342.0 89.6h0M357.4 97.3h0M332.5 117.7h0M351.1 109.8h0M346.5 97.4h0M343.0 104.6h0M350.0 103.8h0M334.8 98.8h0" stroke="#c9c9cb" stroke-width="3.7" stroke-linecap="round" fill="none"/>
<path d="M374.2 112.6h0M386.5 105.8h0M362.6 105.3h0M388.8 109.2h0M380.7 106.4h0M377.7 101.6h0M364.4 115.5h0M380.4 89.5h0M379.4 89.6h0M394.5 101.6h0M375.7 99.9h0M376.7 90.7h0M370.9 95.2h0M370.6 96.4h0M371.2 92.9h0M382.1 91.8h0M370.9 94.7h0M375.8 102.8h0M373.9 119.2h0M379.1 103.4h0M386.1 114.5h0M380.3 105.7h0M375.1 87.2h0M374.3 107.8h0M399.3 91.9h0M374.6 113.3h0M370.9 103.4h0M370.5 79.7h0M394.0 86.2h0M377.6 112.5h0M376.8 115.8h0M368.6 115.0h0M377.1 113.3h0M369.1 106.8h0M381.2 96.3h0M380.2 108.1h0M375.9 100.6h0M383.2 102.7h0M381.5 87.3h0M389.9 90.2h0M375.7 106.2h0M377.7 109.8h0M388.8 91.1h0M384.0 105.5h0M373.6 92.4h0M372.4 113.1h0M375.2 93.8h0M385.9 74.3h0M377.8 110.2h0M373.5 95.4h0M372.7 84.8h0M364.5 95.4h0M386.2 104.3h0M384.0 82.6h0M385.2 103.7h0M397.8 120.5h0M394.9 103.4h0M368.5 102.5h0M376.9 95.4h0M375.4 97.6h0M384.1 101.4h0M387.5 89.5h0M373.5 110.8h0M371.6 117.0h0M390.3 102.9h0M375.4 97.3h0M369.1 100.7h0M378.5 85.0h0M372.7 92.6h0M367.8 94.3h0M380.0 93.9h0M374.3 90.6h0M375.8 104.2h0M382.0 105.2h0M371.2 107.7h0M365.8 117.1h0M383.5 110.8h0M369.2 108.1h0M384.1 95.5h0M382.0 88.1h0M376.9 93.3h0M384.0 100.9h0M378.7 106.8h0M388.4 105.6h0M390.8 95.0h0M386.6 116.6h0M379.7 118.0h0M376.3 114.0h0M382.1 99.5h0M365.6 103.5h0M384.9 101.7h0M362.1 99.7h0M374.0 94.3h0M380.9 91.8h0M383.8 90.5h0M370.6 102.5h0M375.2 90.1h0M365.5 80.9h0M385.1 103.3h0M373.8 111.0h0M383.5 86.0h0M382.4 104.9h0M371.8 91.0h0M379.8 96.9h0M366.5 104.9h0M374.8 92.0h0M374.5 93.6h0M378.7 115.9h0M366.9 101.2h0M399.6 103.5h0M387.0 112.7h0M366.3 100.4h0M391.6 81.8h0M377.8 99.4h0M373.2 107.4h0M375.9 111.9h0M375.4 116.2h0M383.5 92.6h0M375.9 104.0h0M382.1 94.8h0M368.4 110.7h0M365.1 97.4h0M376.6 94.8h0M373.3 101.7h0M377.6 90.9h0M389.1 102.6h0M369.7 106.3h0M366.8 87.8h0M384.9 102.5h0M367.5 117.5h0M375.1 111.7h0M376.9 93.5h0M369.8 104.0h0M396.1 93.9h0M369.7 95.6h0M370.8 81.0h0M366.1 122.1h0M378.0 85.9h0M369.9 101.8h0M373.6 107.6h0M381.0 103.8h0M379.6 112.7h0M386.0 87.5h0M391.0 91.0h0M377.4 95.1h0M379.8 101.6h0M386.8 114.5h0M374.4 93.3h0M369.3 99.4h0M365.9 107.0h0M373.2 120.8h0M369.4 97.3h0M371.3 106.5h0M378.6 101.5h0M376.6 109.1h0M388.0 90.1h0M371.6 113.9h0M389.2 84.0h0M376.6 98.0h0M375.7 110.7h0M395.1 102.9h0M361.8 100.2h0M383.8 89.0h0M373.6 98.1h0M369.9 98.4h0M372.6 118.6h0M382.4 101.4h0M371.5 115.1h0M381.5 94.7h0M380.4 104.7h0M379.4 102.5h0M387.6 103.7h0M378.8 98.6h0M387.5 112.8h0M362.1 111.3h0M376.1 103.2h0M384.5 107.9h0M391.7 93.6h0M381.2 96.4h0M382.4 115.6h0M393.0 107.4h0M371.3 96.3h0M385.1 86.2h0M382.1 110.5h0M369.8 114.1h0M371.0 115.7h0M369.3 95.8h0M380.5 108.7h0M395.7 85.5h0M379.1 96.9h0M370.3 79.3h0M372.8 122.2h0M380.4 101.9h0M366.6 119.0h0M377.9 112.6h0M362.2 90.9h0M377.8 112.0h0M375.4 107.4h0M377.3 111.2h0M383.9 91.0h0M364.5 109.3h0M378.8 83.3h0M375.1 105.4h0M383.0 102.8h0M387.8 93.1h0M372.2 106.7h0M378.2 93.3h0M379.7 107.4h0M376.7 101.3h0M374.0 100.5h0M366.6 102.5h0M377.9 93.5h0M362.8 111.4h0M380.2 105.1h0M383.7 108.3h0M380.9 94.9h0M376.5 83.4h0M382.5 101.4h0M370.0 106.5h0M378.8 106.1h0M388.1 107.6h0M383.0 110.8h0M391.9 93.6h0M367.4 96.7h0M376.2 108.6h0M376.8 94.4h0M385.4 83.7h0M371.5 111.6h0M375.7 120.5h0M370.3 89.0h0M375.6 121.1h0M377.0 105.3h0M368.3 99.2h0M368.4 99.2h0M373.4 89.8h0M382.2 116.4h0M384.4 100.3h0M383.6 101.3h0M377.9 96.1h0M380.0 97.3h0M379.0 103.8h0M380.6 120.8h0M377.6 108.3h0M395.1 117.2h0M370.1 88.2h0M374.5 102.9h0M372.0 106.0h0M386.8 112.0h0M382.7 105.5h0M362.4 114.5h0M382.4 99.9h0M385.9 103.8h0M386.0 106.5h0M392.8 112.1h0M383.9 111.0h0M369.8 89.2h0M391.1 109.9h0M370.0 109.9h0M375.9 108.8h0M385.0 88.7h0M374.6 86.4h0M375.5 112.0h0M382.7 102.6h0M363.2 100.3h0M386.0 98.1h0M381.3 105.6h0M376.5 94.2h0M376.5 99.7h0M365.2 115.7h0M395.7 93.4h0M367.1 116.9h0M378.8 112.5h0M373.6 106.2h0M393.6 95.7h0M373.4 114.9h0M367.1 110.1h0M388.9 94.8h0M382.4 99.4h0M367.0 103.8h0M365.2 119.6h0M365.8 101.6h0M363.8 112.9h0M377.3 94.0h0M381.3 109.8h0M368.5 103.7h0M366.5 104.8h0M381.8 110.8h0M374.6 99.9h0M391.1 91.3h0M362.6 104.1h0M387.9 101.9h0M382.4 110.6h0M380.4 86.3h0M371.5 101.4h0M386.5 120.1h0M378.0 87.3h0M374.7 113.6h0M383.1 99.3h0M369.9 106.1h0M367.7 98.9h0M388.9 103.1h0M369.8 112.8h0M370.0 112.6h0M376.5 108.2h0M386.3 108.8h0M386.2 105.0h0M377.2 113.0h0M381.6 103.1h0M375.2 79.4h0M379.3 98.1h0M382.3 120.4h0M374.2 111.0h0M377.0 87.7h0M380.2 105.2h0M374.0 102.6h0M379.7 103.3h0M383.4 114.5h0M379.4 92.3h0M378.1 113.4h0M392.0 96.0h0M373.4 101.0h0M387.5 99.7h0M370.2 110.0h0M380.3 116.4h0M370.2 110.9h0M393.5 105.9h0M368.8 105.0h0M378.3 118.1h0M383.6 85.4h0M386.4 93.6h0M378.7 112.7h0M371.3 107.5h0M369.8 106.3h0M375.5 108.5h0M391.2 89.2h0M375.3 99.4h0M389.4 92.9h0M384.5 105.2h0M385.3 93.0h0M389.1 112.7h0M376.8 92.9h0M375.4 89.7h0M369.4 83.1h0M376.0 105.7h0M365.2 113.0h0M373.3 114.5h0M382.5 109.7h0M375.1 102.0h0M387.0 100.0h0M367.1 113.3h0M379.4 105.6h0M369.7 98.2h0M385.2 109.4h0M387.8 92.4h0M376.9 98.2h0M383.0 102.7h0M388.6 86.9h0M370.0 95.5h0M379.3 118.8h0M395.6 108.0h0M380.7 107.6h0M375.1 107.1h0M377.4 93.3h0M376.4 105.1h0M383.3 83.1h0M389.8 96.3h0M386.7 83.5h0M381.3 90.2h0M382.8 105.9h0M391.8 79.9h0M371.9 108.9h0M381.4 109.3h0M386.8 101.8h0M374.1 95.1h0M363.5 100.1h0M384.7 102.6h0M376.2 94.5h0M379.0 108.6h0M373.4 102.6h0M371.1 118.1h0M374.7 109.4h0M371.4 101.3h0M388.9 104.8h0M386.2 119.6h0M392.6 97.5h0M375.3 100.5h0M391.3 86.8h0M379.7 105.5h0M372.3 92.5h0M371.6 109.6h0M375.9 102.7h0M374.9 111.2h0M370.5 88.3h0M373.0 101.0h0M382.2 94.5h0M365.3 97.4h0M374.5 103.1h0M366.6 91.4h0M383.3 111.0h0M378.1 105.3h0M379.2 87.5h0M377.8 110.4h0M381.7 97.0h0M383.5 100.3h0M370.2 106.3h0M367.1 99.5h0M374.3 105.2h0M377.7 87.7h0M369.6 116.5h0M378.7 97.2h0M382.2 97.1h0M379.0 103.2h0M374.5 87.5h0M371.6 99.3h0M377.6 93.4h0M378.5 116.9h0M391.3 107.9h0M376.8 103.8h0M384.6 122.1h0M376.3 98.8h0M371.5 100.6h0M393.5 86.2h0M379.9 105.3h0M373.2 91.1h0M374.0 91.7h0M374.1 107.4h0M384.1 99.5h0M378.8 104.5h0M391.0 107.4h0M375.5 103.9h0M383.5 90.8h0M385.6 94.1h0M381.9 106.7h0M390.1 85.4h0M409.6 103.0h0M392.5 105.6h0M429.6 86.3h0M381.8 111.3h0M412.6 97.8h0M360.3 110.1h0M360.4 112.0h0M375.3 82.6h0M357.1 97.0h0M380.6 99.7h0M424.7 111.9h0M389.2 106.3h0M393.0 91.0h0M374.6 104.0h0M418.6 86.6h0M384.4 81.7h0M371.5 112.5h0M373.7 104.6h0M410.2 100.6h0M354.6 94.2h0M409.0 89.5h0M384.6 103.3h0M430.9 98.5h0M384.9 117.2h0M386.6 99.8h0M383.5 108.5h0M392.2 88.2h0M386.0 75.2h0M420.6 89.5h0M388.7 84.0h0M364.3 127.8h0M380.8 99.3h0M377.9 75.1h0M390.1 114.1h0M397.3 94.2h0M376.2 99.0h0M382.7 76.5h0M381.3 115.9h0M364.2 87.2h0M383.4 76.8h0M383.9 76.2h0M408.9 97.2h0M379.6 111.7h0M383.7 77.6h0M349.7 95.7h0M388.1 114.1h0M372.3 111.9h0M419.6 77.5h0M406.3 100.6h0M373.3 107.3h0M405.6 65.6h0M423.2 101.1h0M371.3 76.6h0M392.9 83.3h0M390.4 102.6h0M404.0 114.6h0M354.9 117.7h0M405.7 102.1h0M384.3 87.2h0M407.1 104.3h0M393.0 100.9h0M393.7 96.4h0M381.5 79.4h0M412.5 102.6h0M387.0 106.0h0M385.5 103.5h0M437.1 78.5h0M407.5 104.8h0M362.5 71.1h0M387.0 90.9h0M380.5 98.0h0M393.3 77.2h0M393.7 102.8h0M368.2 88.9h0M403.4 96.6h0M403.6 97.8h0M393.6 107.8h0M353.2 104.0h0M396.7 93.9h0M379.9 95.8h0M400.6 114.8h0M399.1 90.7h0M400.1 101.9h0M389.7 76.0h0M370.3 98.2h0M396.6 84.3h0M367.3 121.6h0M419.1 107.4h0M419.9 89.8h0M438.6 90.8h0M395.9 85.4h0M405.3 74.2h0M409.3 84.4h0M373.5 87.6h0M436.1 90.8h0M423.3 105.4h0M408.6 102.1h0M384.1 72.2h0M403.8 83.9h0M406.8 85.8h0M401.6 95.2h0M381.0 116.9h0M389.3 114.0h0M399.8 98.6h0M378.4 106.9h0M385.1 89.7h0M401.9 109.2h0M381.2 95.6h0M391.9 85.8h0M378.0 111.6h0M370.6 109.8h0M410.2 87.6h0M383.0 110.7h0M402.5 88.3h0M358.0 107.1h0M403.6 106.0h0M406.9 105.0h0M365.9 85.4h0M376.7 96.7h0M404.7 84.4h0M374.7 92.0h0M382.2 82.2h0M361.4 83.5h0M384.1 121.8h0M374.5 102.0h0M419.0 100.3h0M404.5 109.3h0M398.6 127.5h0M407.3 109.3h0M373.4 115.4h0M398.2 115.4h0M373.4 115.4h0M377.0 115.4h0M372.0 109.3h0M391.2 127.5h0M401.7 126.9h0M396.1 109.3h0M374.7 127.5h0M394.0 109.3h0M370.2 115.4h0M411.2 126.9h0M412.7 127.5h0M408.3 114.8h0M410.7 114.8h0M374.0 126.9h0M388.8 126.9h0M407.6 109.3h0M375.2 126.9h0M411.2 114.8h0M383.2 115.4h0M396.9 114.8h0M393.7 115.4h0M375.6 109.3h0M396.9 126.9h0M390.0 127.5h0M410.4 109.3h0M384.5 127.5h0M383.4 126.9h0M375.2 109.3h0M385.6 114.8h0M388.2 127.5h0M379.5 115.4h0M405.7 114.8h0M408.2 127.5h0M369.2 109.3h0M388.2 126.9h0M371.9 126.9h0M375.7 109.3h0M410.2 114.8h0M410.3 126.9h0M405.9 114.8h0M398.6 127.5h0M408.6 126.9h0M390.3 126.9h0M379.2 126.9h0M406.3 109.3h0M383.1 127.5h0M378.9 109.3h0M400.5 115.4h0M410.8 109.3h0M380.7 114.8h0M412.8 127.5h0M400.7 127.5h0M381.5 109.3h0M376.6 109.3h0M391.2 115.4h0M382.4 151.0h0M373.8 131.6h0M374.0 130.4h0M377.3 133.9h0M372.7 148.4h0M370.8 149.1h0M377.5 134.1h0M375.2 128.6h0M371.0 143.5h0M374.7 135.8h0M375.7 131.6h0M371.1 152.5h0M379.5 146.6h0M375.1 148.0h0M378.2 154.8h0M376.2 136.4h0M370.8 151.1h0M369.2 138.9h0M358.3 115.2h0M345.0 95.0h0M353.6 94.1h0M351.2 106.9h0M347.3 87.2h0M344.2 102.2h0M343.6 114.6h0M360.0 102.6h0M345.3 102.3h0M353.5 94.5h0M352.1 99.4h0M358.0 99.9h0M345.8 106.4h0M358.2 112.0h0M355.5 110.9h0M358.7 95.7h0M353.4 104.6h0M343.9 110.8h0M358.3 89.8h0M346.3 89.6h0M362.0 96.7h0M362.5 88.6h0M348.7 104.9h0M361.3 94.8h0M362.2 112.5h0M344.6 103.2h0M353.0 85.6h0M355.9 100.1h0M346.6 113.1h0M359.6 110.9h0M362.6 91.1h0M350.6 103.8h0M354.5 103.4h0M353.4 86.1h0M358.1 100.2h0" stroke="#ea2b2a" stroke-width="3.7" stroke-linecap="round" fill="none"/>
<path d="M372.6 67.0h0M377.4 64.6h0M382.3 57.3h0M377.4 69.4h0M373.8 74.3h0M381.0 75.5h0M385.9 79.1h0M411.3 74.3h0M410.1 86.4h0M416.1 91.2h0M412.5 97.2h0M414.9 104.5h0M439.1 71.8h0M344.8 117.8h0M348.4 117.8h0M349.6 114.2h0M355.6 113.0h0M353.2 108.1h0M382.3 154.1h0M382.3 131.1h0M379.8 134.8h0" stroke="#1c1c1c" stroke-width="3.7" stroke-linecap="round" fill="none"/>
<rect x="295.7" y="24.0" width="170.9" height="170.7" fill="none" stroke="#a3a3a3" stroke-width="1.5"/>
<circle cx="302.8" cy="35.9" r="2.4" fill="#ea2b2a"/>
<circle cx="350.1" cy="35.9" r="2.4" fill="#1c1c1c"/>
<circle cx="422.4" cy="35.9" r="2.4" fill="#cfcfcf"/>
<text x="308.4" y="39.7" font-size="13.5" text-anchor="start" font-weight="normal" fill="#222" >RBP</text>
<text x="355.7" y="39.7" font-size="13.5" text-anchor="start" font-weight="normal" fill="#222" >candRBP</text>
<text x="426.9" y="39.7" font-size="13.5" text-anchor="start" font-weight="normal" fill="#222" >other</text>
<text x="292.7" y="71.8" font-size="13.5" text-anchor="end" font-weight="normal" fill="#222" >5</text>
<text x="292.7" y="132.3" font-size="13.5" text-anchor="end" font-weight="normal" fill="#222" >0</text>
<text x="292.7" y="192.8" font-size="13.5" text-anchor="end" font-weight="normal" fill="#222" >-5</text>
<text x="301.4" y="209.2" font-size="13.5" text-anchor="middle" font-weight="normal" fill="#222" >−5</text>
<text x="362.9" y="209.2" font-size="13.5" text-anchor="middle" font-weight="normal" fill="#222" >0</text>
<text x="423.4" y="209.2" font-size="13.5" text-anchor="middle" font-weight="normal" fill="#222" >5</text>
<text x="378.1" y="221.9" font-size="13.5" text-anchor="middle" font-weight="normal" fill="#222" >log<tspan font-size="9" dy="3">2</tspan><tspan dy="-3">(CL/noCL) _rep1</tspan></text>
<g transform="translate(271.2,111.7) rotate(-90)">
<text x="0.0" y="0.0" font-size="13.5" text-anchor="middle" font-weight="normal" fill="#222" >log<tspan font-size="9" dy="3">2</tspan><tspan dy="-3">(CL/noCL)_rep3</tspan></text>
</g>
<path d="M540.3 24.0V194.7M570.5 24.0V194.7M631.0 24.0V194.7M661.3 24.0V194.7M691.5 24.0V194.7M533.6 188.0H704.5M533.6 157.8H704.5M533.6 97.2H704.5M533.6 67.0H704.5M533.6 36.8H704.5" stroke="#dedede" stroke-width="1" fill="none"/>
<path d="M600.8 24.0V194.7M533.6 127.5H704.5" stroke="#b2b2b2" stroke-width="1.3" stroke-dasharray="11.5 4.6" stroke-dashoffset="-4.6" fill="none"/>
<path d="M589.0 132.4h0M589.4 128.4h0M597.3 141.9h0M597.5 134.5h0M587.1 135.9h0M597.5 136.4h0M602.2 127.5h0M593.1 148.4h0M588.6 124.4h0M598.8 132.7h0M594.3 137.1h0M590.3 135.9h0M588.9 132.2h0M597.7 130.2h0M590.8 154.0h0M592.3 129.5h0M595.5 127.0h0M594.1 141.4h0M602.8 150.9h0M590.0 133.5h0M597.7 139.9h0M596.4 139.6h0M598.4 121.2h0M601.3 131.5h0M594.8 118.8h0M594.4 132.0h0M602.0 129.6h0M593.4 127.2h0M597.2 120.1h0M597.6 135.8h0M604.0 136.0h0M593.5 119.2h0M603.4 150.7h0M587.6 122.4h0M602.3 141.9h0M590.9 129.6h0M603.3 149.0h0M594.4 130.5h0M590.3 140.7h0M588.9 138.0h0M590.5 154.4h0M593.3 151.6h0M588.4 151.6h0M593.9 144.7h0M599.5 140.7h0M590.7 150.0h0M591.7 127.2h0M589.9 138.6h0M600.9 123.6h0M594.7 123.1h0M597.9 148.4h0M588.0 150.8h0M600.6 141.7h0M601.5 117.9h0M603.0 138.4h0M586.4 146.4h0M590.3 131.0h0M599.0 119.8h0M599.1 118.3h0M597.9 138.2h0M601.5 146.5h0M600.4 127.8h0M602.0 155.3h0M589.7 118.7h0M588.9 139.2h0M597.2 137.9h0M602.2 118.4h0M592.5 152.2h0M602.9 139.1h0M590.8 152.1h0M586.4 133.8h0M591.4 134.9h0M603.1 137.8h0M603.6 155.0h0M600.0 126.7h0M603.7 156.5h0M595.5 134.9h0M597.1 138.4h0M591.2 120.6h0M602.2 128.9h0M603.7 135.0h0M587.7 129.2h0M588.2 126.9h0M598.1 149.2h0M589.0 155.0h0M589.5 117.5h0M590.4 121.4h0M588.7 143.8h0M594.9 143.0h0M603.8 147.9h0M595.1 149.3h0M588.3 129.3h0M592.4 137.7h0M598.9 154.1h0M587.3 129.5h0M604.3 157.0h0M594.5 116.8h0M601.4 117.0h0M595.9 117.8h0M587.3 138.3h0M601.7 141.7h0M594.3 139.3h0M593.2 124.3h0M603.9 148.3h0M592.1 124.7h0M599.8 124.2h0M598.7 120.1h0M601.6 131.7h0M591.4 154.2h0M601.9 122.4h0M602.5 146.9h0M599.7 119.5h0M590.0 156.8h0M589.4 148.7h0M598.6 124.0h0M601.1 129.4h0M604.0 117.8h0M594.3 119.8h0M599.3 147.7h0M596.9 150.7h0M593.5 124.3h0M586.5 135.7h0M594.2 146.1h0M587.5 136.2h0M592.3 153.7h0M593.6 129.8h0M587.7 125.4h0M587.8 138.4h0M592.9 122.5h0M602.5 127.4h0M591.6 144.4h0M601.3 136.8h0M597.8 128.0h0M589.8 141.9h0M603.6 144.1h0M601.7 151.4h0M586.5 137.1h0M591.4 133.2h0M600.3 156.2h0M595.3 142.4h0M602.7 123.0h0M602.3 127.2h0M592.6 132.3h0M596.2 142.6h0M591.5 131.1h0M602.5 147.8h0M592.7 151.2h0M592.9 141.8h0M588.0 131.2h0M592.5 124.6h0M590.7 127.6h0M604.1 150.8h0M593.0 117.8h0M593.6 144.2h0M589.1 123.6h0M592.2 121.6h0M596.4 150.4h0M604.3 120.7h0M599.9 133.0h0M600.0 118.8h0M589.9 147.8h0M600.1 140.6h0M604.2 123.4h0M595.7 151.2h0M597.4 133.0h0M596.8 125.7h0M594.9 121.0h0M597.1 151.1h0M601.2 150.8h0M602.7 119.6h0M589.8 149.5h0M599.0 139.0h0M593.1 126.8h0M592.4 152.4h0M596.3 121.7h0M603.7 153.4h0M599.8 144.4h0M603.9 141.7h0M588.1 144.1h0M595.6 150.5h0M600.3 144.2h0M599.7 148.2h0M595.2 130.6h0M590.0 145.8h0M601.5 141.5h0M592.6 132.3h0M598.8 122.2h0M596.5 122.6h0M602.5 119.6h0M603.0 129.2h0M598.9 141.7h0M588.2 119.8h0M593.8 143.8h0M596.2 126.7h0M601.3 153.1h0M600.5 119.0h0M604.0 119.0h0M596.7 121.2h0M597.0 122.8h0M604.2 142.3h0M588.5 126.9h0M603.3 120.5h0M594.7 139.3h0M588.5 122.7h0M591.2 152.7h0M588.1 119.5h0M593.8 125.1h0M587.6 137.9h0M599.8 126.0h0M589.7 138.0h0M601.0 120.2h0M588.0 133.6h0M602.4 132.2h0M600.5 145.5h0M595.2 157.2h0M600.8 134.6h0M589.6 119.0h0M590.1 156.4h0M599.4 154.5h0M598.2 152.1h0M586.7 127.4h0M597.4 130.6h0M599.1 128.2h0M589.5 140.3h0M597.0 122.1h0M598.0 137.7h0M601.2 123.0h0M590.8 150.2h0M586.4 121.9h0M590.1 134.0h0M573.6 151.6h0M607.5 141.8h0M597.2 120.7h0M595.8 121.9h0M590.1 165.2h0M574.4 172.0h0M600.3 135.6h0M585.9 165.8h0M576.5 130.8h0M592.8 120.8h0M595.7 135.8h0M588.8 163.1h0M578.4 108.4h0M586.9 159.4h0M584.3 182.2h0M599.1 147.8h0M592.4 151.1h0M562.4 116.7h0M590.0 157.6h0M578.6 150.2h0M587.2 161.7h0M579.1 139.8h0M607.2 154.0h0M591.7 121.9h0M607.0 148.9h0M577.4 160.3h0M595.8 116.1h0M590.8 158.4h0M580.3 134.5h0M584.2 149.8h0M593.0 144.4h0M593.3 159.5h0M591.1 126.4h0M590.2 129.8h0M600.9 135.8h0M601.0 137.3h0M593.0 116.0h0M584.9 125.3h0M552.4 184.2h0M582.9 131.8h0M587.0 163.2h0M600.3 148.4h0M581.6 159.5h0M580.0 156.8h0M594.4 130.5h0M551.6 114.7h0M576.9 147.2h0M571.3 138.9h0M583.8 129.2h0M583.0 123.9h0M574.8 143.9h0M601.3 141.2h0M564.3 189.8h0M590.0 173.4h0M594.2 148.8h0M583.7 154.8h0M587.2 134.2h0M596.5 175.6h0M599.5 149.9h0M610.2 146.3h0M574.8 167.7h0M591.4 142.1h0M578.4 162.6h0M577.2 121.5h0M590.7 147.3h0M589.9 138.6h0M587.0 135.5h0M601.3 134.9h0M589.6 150.8h0M598.7 138.3h0M595.7 149.6h0M601.3 149.5h0M598.2 152.2h0M586.4 106.3h0M597.4 135.6h0M601.0 118.1h0M591.7 152.3h0M570.5 165.4h0M611.7 129.4h0M593.0 135.7h0M579.2 144.3h0M577.5 130.6h0M607.5 130.0h0M582.9 141.3h0M578.8 147.9h0M570.0 135.0h0M592.3 171.4h0M600.8 139.5h0M576.7 155.1h0M576.3 165.6h0M592.6 163.9h0M579.1 158.1h0M597.2 126.2h0M603.0 118.3h0M584.3 150.3h0M573.6 123.4h0M599.5 118.0h0M577.5 147.2h0M584.6 100.8h0M577.9 153.2h0M594.1 136.0h0M581.8 141.2h0M583.5 167.9h0M602.1 128.4h0M584.6 119.3h0M569.2 163.5h0M604.5 128.7h0M590.1 150.4h0M603.9 129.2h0M591.5 134.2h0M602.7 157.5h0M579.3 175.7h0M589.9 158.8h0M593.7 178.2h0M614.3 141.1h0M599.1 180.0h0M607.1 140.8h0M574.8 134.1h0M596.4 138.4h0M585.1 138.5h0M603.5 120.1h0M593.3 131.2h0M577.7 156.3h0M588.4 140.7h0M601.1 119.0h0M596.5 133.9h0M575.2 111.8h0M593.5 174.5h0M592.2 147.0h0M588.0 166.4h0M594.9 140.7h0M594.1 130.2h0M581.3 136.7h0M588.2 111.3h0M617.4 143.5h0M597.6 131.8h0M571.5 138.8h0M592.9 171.8h0M602.1 119.0h0M596.2 150.5h0M587.7 136.5h0M599.0 147.0h0M588.9 123.9h0M605.1 141.8h0M579.9 132.8h0M594.1 140.1h0M594.5 112.6h0M585.7 123.3h0M601.7 124.4h0M608.1 143.0h0M571.6 167.4h0M599.7 111.5h0M602.5 138.3h0M607.6 129.9h0M596.2 141.6h0M588.2 114.2h0M554.2 165.9h0M580.2 149.6h0M582.3 127.9h0M595.2 166.4h0M580.2 138.3h0M585.3 149.5h0M580.0 143.2h0M609.3 128.5h0M599.7 128.1h0M571.6 169.0h0M571.9 182.0h0M612.7 125.6h0M589.9 167.2h0M595.5 139.2h0M595.7 143.1h0M567.2 142.1h0M588.6 143.1h0M595.9 105.3h0M596.6 125.4h0M594.5 148.0h0M584.8 147.9h0M598.6 117.1h0M593.5 155.4h0M591.7 112.2h0M590.8 142.7h0M584.2 161.3h0M607.5 134.2h0M587.5 145.7h0M587.3 140.6h0M598.0 118.5h0M610.6 166.7h0M598.6 153.5h0M573.4 139.1h0M589.5 137.4h0M590.6 181.8h0M604.3 149.7h0M593.6 149.4h0M593.3 103.9h0M582.5 144.7h0M579.7 167.2h0M595.8 143.4h0M586.5 122.0h0M610.4 173.9h0M599.8 126.4h0M567.0 130.2h0M585.3 154.5h0M584.1 148.1h0M599.3 149.7h0M571.2 160.5h0M586.6 142.2h0M590.1 138.0h0M559.5 132.1h0M594.2 185.1h0M602.3 113.8h0M593.8 156.8h0M593.4 145.7h0M616.3 153.4h0M592.5 132.6h0M602.0 151.5h0M606.4 134.8h0M592.3 125.5h0M585.5 155.7h0M611.9 133.8h0M569.6 166.0h0M594.8 154.2h0M581.1 155.5h0M596.9 134.7h0M590.8 135.6h0M600.9 150.2h0M591.2 132.0h0M585.7 158.4h0M602.1 153.1h0M599.6 146.7h0M596.0 160.9h0M598.3 128.8h0M584.5 122.4h0M575.5 147.1h0M602.4 131.4h0M599.2 123.4h0M596.7 137.3h0M603.4 132.7h0M587.4 136.3h0M605.0 157.3h0M599.1 158.2h0M575.6 148.0h0M592.2 135.7h0M616.1 137.8h0M588.5 119.9h0M618.7 155.2h0M598.6 138.5h0M573.0 165.4h0M597.3 167.7h0M584.0 160.7h0M571.2 155.5h0M591.0 165.3h0M597.7 146.7h0M584.9 127.3h0M589.6 113.1h0M600.8 114.2h0M590.8 153.7h0M603.3 144.6h0M592.4 119.0h0M586.4 147.4h0M577.0 163.6h0M593.5 122.8h0M583.8 133.5h0M585.3 138.7h0M579.1 114.6h0M584.8 159.1h0M598.7 124.7h0M588.2 160.2h0M592.4 165.5h0M572.5 147.8h0M580.0 144.8h0M610.8 132.9h0M589.9 138.6h0M580.5 141.0h0M613.1 160.9h0M590.4 144.1h0M587.7 151.5h0M570.3 161.1h0M597.5 152.4h0M580.2 147.5h0M607.3 170.7h0M570.4 142.6h0M596.4 131.5h0M597.8 141.4h0M589.5 168.3h0M577.8 153.1h0M588.3 158.1h0M601.8 151.4h0M593.1 156.8h0M581.5 136.2h0M600.5 103.3h0M567.6 171.3h0M577.7 167.9h0M578.4 154.4h0M594.9 145.0h0M589.9 141.7h0M612.9 125.3h0M609.8 132.2h0M598.0 137.9h0M587.9 164.5h0M586.3 142.0h0M599.9 112.5h0M601.8 115.2h0M587.6 152.5h0M598.1 138.4h0M575.2 143.6h0M602.4 113.5h0M588.9 109.6h0M618.6 134.3h0M601.8 121.9h0M589.9 144.5h0M611.9 126.8h0M588.8 151.5h0M589.6 171.7h0M587.6 119.8h0M591.5 145.5h0M584.4 186.2h0M601.8 172.6h0M583.5 133.5h0M592.8 151.2h0M590.3 116.2h0M568.6 126.6h0M598.3 124.0h0M598.9 145.7h0M588.7 161.3h0M597.6 139.9h0M580.5 145.2h0M584.5 183.0h0M579.1 186.8h0M598.7 152.2h0M591.0 134.0h0M578.8 87.7h0M578.7 100.2h0M589.9 112.1h0M578.4 120.8h0M582.4 104.6h0M597.9 82.3h0M571.3 93.9h0M592.0 107.4h0M573.5 80.1h0M590.0 80.0h0M598.9 83.4h0M584.1 86.8h0M568.4 94.7h0M578.5 111.6h0M593.2 87.3h0M596.0 97.4h0M596.7 83.2h0M591.4 110.0h0M597.9 103.1h0M573.5 91.5h0M591.9 64.2h0M592.7 107.3h0M579.3 113.8h0M578.9 83.4h0M594.0 101.0h0M602.1 90.1h0M585.3 95.4h0M586.6 87.3h0M581.1 101.9h0M596.9 115.3h0M576.1 69.3h0M566.7 76.1h0M598.4 92.9h0M565.9 95.9h0M588.8 72.6h0M575.4 100.3h0M593.7 118.2h0M577.1 119.0h0M570.9 110.7h0M599.1 94.1h0M600.2 98.8h0M580.6 102.0h0M574.7 98.8h0M588.9 85.7h0M584.6 94.7h0M567.8 95.2h0M596.9 110.8h0M586.1 94.5h0M581.7 102.1h0M580.8 87.7h0M576.9 92.2h0M571.8 109.2h0M573.2 88.4h0M589.2 91.1h0M578.1 78.9h0M576.8 97.2h0M583.4 94.4h0M584.3 83.6h0M579.8 95.2h0M601.6 86.7h0M566.3 101.6h0M584.6 115.6h0M588.7 86.9h0M570.9 98.6h0M581.8 83.6h0M585.2 83.0h0M578.4 82.7h0M601.4 90.7h0M587.5 121.0h0M586.1 120.5h0M564.5 97.9h0M593.6 100.0h0M574.9 75.5h0M578.4 84.4h0M571.6 79.4h0M585.0 95.5h0M596.1 110.5h0M591.7 104.7h0M588.1 97.7h0M576.5 96.8h0M597.7 65.9h0M591.9 101.0h0M580.1 107.0h0M592.7 91.2h0M576.9 117.7h0M593.0 106.2h0M592.7 74.1h0M586.1 80.8h0M579.4 85.8h0M576.5 97.5h0" stroke="#c9c9cb" stroke-width="3.7" stroke-linecap="round" fill="none"/>
<path d="M621.1 105.4h0M606.6 105.0h0M621.0 107.9h0M617.7 105.0h0M615.4 102.7h0M608.9 112.6h0M623.6 108.7h0M606.5 106.4h0M616.1 113.9h0M632.7 99.3h0M618.7 92.6h0M612.6 119.3h0M611.8 114.2h0M621.4 111.3h0M624.3 108.9h0M609.5 116.9h0M615.0 101.1h0M622.9 110.3h0M611.7 109.2h0M629.8 113.3h0M623.2 86.0h0M615.0 119.7h0M606.2 115.2h0M619.7 115.4h0M610.9 101.2h0M632.6 91.3h0M616.1 101.8h0M610.2 104.2h0M620.1 110.2h0M618.2 119.9h0M624.3 103.2h0M621.4 117.9h0M640.1 107.5h0M612.6 102.3h0M613.9 119.1h0M633.1 115.5h0M617.7 108.3h0M609.6 90.0h0M620.5 108.3h0M640.2 101.6h0M629.2 95.9h0M625.5 117.0h0M608.1 101.8h0M617.6 104.0h0M621.1 105.2h0M620.7 107.9h0M622.5 110.8h0M609.4 120.7h0M617.4 104.6h0M622.1 91.2h0M610.2 106.4h0M609.3 100.2h0M627.7 105.8h0M616.3 108.8h0M625.8 112.0h0M607.7 91.5h0M618.5 103.7h0M631.5 117.8h0M616.0 99.0h0M613.0 114.5h0M610.5 108.7h0M622.1 110.3h0M625.3 116.0h0M616.6 102.9h0M605.3 114.4h0M614.9 118.3h0M605.2 115.7h0M630.5 117.4h0M635.9 95.4h0M612.9 103.6h0M623.3 102.8h0M607.6 104.7h0M620.3 110.2h0M630.7 98.8h0M613.8 122.4h0M614.3 98.2h0M624.8 111.4h0M607.6 99.9h0M618.9 114.0h0M614.0 111.4h0M608.1 115.7h0M605.2 104.2h0M628.5 95.6h0M623.7 104.5h0M611.1 107.9h0M613.3 106.9h0M642.2 94.1h0M609.3 122.4h0M621.1 101.6h0M619.2 104.9h0M631.4 110.7h0M616.6 107.1h0M626.2 96.4h0M621.5 110.6h0M616.0 122.1h0M605.7 116.0h0M604.5 106.8h0M610.0 113.5h0M619.6 101.5h0M629.0 116.0h0M617.3 100.2h0M622.1 109.5h0M621.5 104.7h0M629.7 77.9h0M626.5 108.3h0M622.9 100.3h0M605.2 93.5h0M624.7 122.8h0M618.6 109.5h0M608.3 104.9h0M643.1 100.5h0M615.7 101.5h0M613.9 107.5h0M605.4 112.4h0M623.8 111.0h0M627.6 102.9h0M625.8 115.6h0M615.4 117.6h0M612.4 98.6h0M605.9 116.5h0M611.8 93.4h0M624.4 112.8h0M611.9 96.7h0M607.2 99.6h0M612.2 102.8h0M622.2 102.8h0M625.1 101.9h0M615.3 112.7h0M627.6 107.5h0M621.1 118.7h0M622.4 95.6h0M624.4 108.2h0M616.4 111.8h0M616.3 94.1h0M629.9 106.7h0M629.9 121.4h0M604.1 116.0h0M608.3 111.8h0M612.3 106.3h0M619.3 121.9h0M616.2 105.6h0M611.0 112.7h0M618.5 103.8h0M615.0 104.1h0M605.3 94.5h0M623.1 123.0h0M620.3 115.8h0M604.4 104.3h0M628.6 101.1h0M630.8 99.0h0M606.1 114.6h0M608.3 112.9h0M612.9 104.4h0M605.0 110.9h0M621.9 114.0h0M608.5 86.2h0M611.0 100.2h0M609.3 102.0h0M612.5 95.1h0M630.5 117.2h0M643.5 103.6h0M616.0 114.8h0M612.2 118.7h0M610.9 109.6h0M607.7 105.1h0M610.3 102.7h0M606.7 98.6h0M622.8 105.6h0M617.5 112.6h0M607.7 101.1h0M605.8 106.9h0M613.4 100.9h0M620.3 105.9h0M616.9 106.1h0M628.4 114.2h0M607.8 115.6h0M622.4 105.7h0M608.3 122.3h0M627.2 99.7h0M623.5 91.7h0M608.2 114.8h0M619.7 103.2h0M610.2 102.3h0M618.1 98.9h0M627.6 115.4h0M631.3 109.6h0M622.1 104.6h0M617.4 98.1h0M620.1 115.7h0M630.6 106.4h0M617.4 123.1h0M624.3 88.8h0M626.1 107.3h0M626.9 110.4h0M622.6 102.5h0M620.1 96.6h0M635.5 100.1h0M617.4 107.5h0M613.5 100.6h0M611.1 114.9h0M612.4 99.4h0M616.9 109.0h0M613.6 101.7h0M609.0 101.2h0M619.9 120.3h0M621.4 113.2h0M626.9 97.4h0M619.2 85.7h0M623.5 105.9h0M615.9 106.9h0M629.8 112.5h0M606.1 115.0h0M626.4 118.9h0M610.9 106.8h0M625.7 100.7h0M610.1 114.5h0M609.6 94.8h0M612.7 101.0h0M620.5 106.9h0M613.3 94.7h0M614.1 86.5h0M615.3 100.4h0M607.2 104.3h0M625.3 96.6h0M615.1 92.8h0M622.3 106.7h0M606.5 94.0h0M613.7 96.9h0M616.3 97.7h0M626.2 106.0h0M620.9 95.9h0M628.5 97.8h0M616.9 108.8h0M615.2 103.2h0M619.4 105.0h0M618.5 100.1h0M614.9 102.0h0M611.1 100.7h0M637.0 115.9h0M617.3 106.9h0M623.4 94.8h0M641.0 112.9h0M620.9 108.8h0M622.1 100.7h0M626.1 119.3h0M608.7 117.3h0M615.5 102.9h0M605.4 115.2h0M615.9 111.8h0M617.0 109.0h0M612.3 116.0h0M613.4 122.7h0M614.2 117.0h0M609.1 95.1h0M633.7 97.4h0M624.8 97.5h0M619.5 113.9h0M620.4 117.3h0M622.6 99.1h0M616.9 109.2h0M604.9 95.0h0M627.7 98.3h0M635.6 91.2h0M622.7 112.0h0M622.3 94.6h0M622.9 115.6h0M617.9 99.1h0M609.7 109.4h0M621.2 97.9h0M622.4 99.6h0M609.2 101.1h0M615.4 107.9h0M616.0 108.3h0M611.0 94.6h0M612.5 112.5h0M623.0 89.8h0M612.3 110.6h0M608.6 105.1h0M617.8 123.5h0M613.2 98.0h0M633.5 103.5h0M618.1 98.1h0M622.5 99.5h0M614.7 123.1h0M611.3 104.8h0M623.4 105.7h0M627.6 91.9h0M614.4 104.4h0M609.4 92.1h0M634.9 103.4h0M637.9 117.1h0M609.7 119.8h0M624.4 102.9h0M614.5 114.0h0M615.0 105.7h0M618.7 105.3h0M622.6 100.0h0M608.0 112.8h0M616.4 107.3h0M614.0 98.4h0M617.1 107.4h0M608.0 108.2h0M606.6 112.4h0M620.4 102.1h0M615.3 112.8h0M610.4 113.4h0M618.6 112.3h0M612.5 117.5h0M632.3 81.7h0M625.9 111.0h0M615.5 94.5h0M608.3 110.6h0M611.5 113.2h0M631.3 106.6h0M623.8 92.2h0M627.5 113.5h0M609.6 95.7h0M624.6 101.3h0M604.5 89.1h0M621.3 100.8h0M608.7 83.0h0M623.4 121.1h0M611.4 102.4h0M623.4 99.9h0M634.4 94.6h0M608.4 121.9h0M608.6 103.9h0M617.6 88.8h0M621.8 109.0h0M624.9 107.9h0M631.3 113.4h0M614.8 110.2h0M608.5 96.3h0M617.3 113.9h0M612.1 107.2h0M627.3 101.0h0M628.4 113.0h0M628.7 118.7h0M609.7 99.6h0M604.8 113.1h0M612.2 107.6h0M612.5 113.8h0M627.6 106.2h0M614.9 100.2h0M617.9 111.1h0M631.5 90.3h0M628.1 121.2h0M637.6 115.2h0M621.8 96.5h0M632.6 101.5h0M625.2 105.7h0M623.1 95.2h0M606.2 111.3h0M633.8 113.8h0M611.5 115.9h0M627.6 92.2h0M616.0 94.9h0M606.3 102.7h0M609.6 110.5h0M618.9 113.0h0M609.2 90.2h0M623.5 119.3h0M619.1 113.8h0M611.3 111.4h0M622.1 107.8h0M608.9 114.4h0M614.8 103.8h0M618.2 95.8h0M614.7 95.2h0M608.4 123.2h0M620.5 85.6h0M606.3 87.1h0M606.4 118.3h0M611.8 113.8h0M634.5 106.9h0M612.2 98.6h0M605.8 118.9h0M605.9 93.5h0M625.2 101.3h0M632.8 115.0h0M653.7 74.7h0M622.5 103.9h0M615.8 101.7h0M630.6 99.1h0M649.8 97.0h0M592.0 96.1h0M601.3 120.8h0M639.7 71.7h0M617.8 102.3h0M604.0 117.5h0M631.8 97.0h0M604.4 91.4h0M634.5 89.6h0M626.9 115.9h0M608.3 114.0h0M623.9 101.9h0M601.4 103.6h0M615.1 115.2h0M606.1 84.9h0M635.2 106.5h0M617.9 84.4h0M620.7 100.6h0M606.6 109.9h0M595.8 105.0h0M625.4 103.1h0M634.2 85.7h0M612.2 103.2h0M641.3 111.9h0M634.4 99.0h0M621.1 77.2h0M596.7 113.6h0M589.2 119.0h0M604.7 109.0h0M623.4 85.5h0M617.8 96.6h0M601.4 102.9h0M647.6 81.0h0M623.9 108.3h0M637.0 74.8h0M647.5 105.0h0M618.3 96.1h0M601.2 115.0h0M614.3 79.6h0M621.1 102.7h0M653.6 88.9h0M641.3 103.9h0M604.9 69.2h0M609.0 102.7h0M659.8 132.7h0M607.4 106.0h0M606.8 92.1h0M623.5 102.8h0M619.4 102.8h0M637.9 89.3h0M625.9 110.7h0M613.8 108.3h0M645.3 93.0h0M648.9 72.7h0M628.8 106.6h0M637.8 123.5h0M596.5 99.3h0M619.7 93.6h0M596.3 111.4h0M614.8 92.5h0M603.1 91.4h0M624.7 80.3h0M602.0 69.7h0M637.0 118.4h0M625.6 117.1h0M607.7 67.9h0M640.3 113.2h0M619.2 106.3h0M609.4 94.8h0M627.5 113.1h0M621.9 91.2h0M636.3 81.0h0M658.9 79.7h0M636.8 113.7h0M615.3 107.1h0M635.1 111.5h0M609.0 107.6h0M619.9 98.3h0M630.8 106.1h0M636.8 101.3h0M631.1 89.5h0M607.8 90.2h0M611.6 98.0h0M629.7 86.9h0M623.0 88.9h0M631.2 106.1h0M635.5 94.2h0M628.6 96.2h0M605.6 91.9h0M630.9 102.3h0M614.1 78.2h0M626.3 108.0h0M628.6 85.8h0M621.4 115.8h0M626.9 97.9h0M643.6 96.5h0M615.7 92.6h0M624.9 97.0h0M587.5 118.2h0M597.6 104.7h0M622.9 96.8h0M648.4 100.0h0M623.8 113.5h0M607.4 92.1h0M620.6 88.3h0M620.6 93.2h0M594.8 120.0h0M617.9 93.6h0M590.5 77.4h0M618.3 102.1h0M605.1 102.9h0M605.2 95.2h0M608.6 105.5h0M605.4 89.1h0M623.5 94.1h0M607.9 80.7h0M614.4 117.4h0M642.4 83.0h0M641.8 103.8h0M624.7 109.4h0M613.7 96.6h0M637.7 89.6h0M621.5 110.7h0M622.1 103.8h0M636.4 100.2h0M634.8 111.2h0M606.6 106.2h0M630.6 105.0h0M609.9 115.1h0M641.3 99.0h0M638.7 96.2h0M648.0 96.9h0M622.2 123.8h0M603.2 98.8h0M633.9 106.8h0M630.9 104.1h0M617.5 83.3h0M625.7 84.6h0M616.6 87.2h0M609.8 93.0h0M655.5 100.3h0M656.3 72.1h0M627.1 79.0h0M639.0 115.7h0M622.0 107.5h0M617.3 109.7h0M621.0 92.1h0M615.7 90.0h0M643.6 109.1h0M597.7 92.3h0M627.5 79.0h0M652.7 91.5h0M625.7 111.1h0M613.3 102.1h0M591.3 98.6h0M636.8 78.3h0M619.8 112.4h0M639.2 104.6h0M620.3 101.4h0M620.5 115.5h0M630.5 77.1h0M631.3 90.1h0M611.1 94.2h0M625.3 101.3h0M632.4 95.2h0M617.8 114.5h0M599.8 99.2h0M629.1 115.3h0M629.4 87.7h0M603.8 109.0h0M617.4 106.0h0M635.3 79.6h0M629.2 127.0h0M619.3 108.6h0M605.2 109.8h0M625.9 114.2h0M608.2 95.7h0M631.6 88.0h0M610.6 106.4h0M606.5 96.8h0M641.3 89.3h0M608.1 111.7h0M636.8 104.0h0M614.2 103.8h0M621.8 106.2h0M649.7 109.9h0M593.9 93.3h0M576.6 97.8h0M581.2 115.9h0M578.1 95.1h0M587.5 78.8h0M589.7 108.8h0M595.6 99.3h0M588.9 112.2h0M578.5 93.9h0M597.1 106.5h0M597.6 103.0h0M599.8 87.5h0M585.2 104.0h0M597.0 94.7h0M591.9 92.4h0M592.2 116.8h0M598.4 82.8h0M596.6 98.6h0M585.5 76.3h0M585.7 116.6h0M593.5 87.8h0M597.8 105.5h0M588.9 85.4h0M589.2 98.7h0M586.6 97.1h0M600.4 86.3h0M586.6 91.8h0M583.3 106.1h0M599.8 94.5h0M596.6 79.5h0M587.5 105.4h0M584.8 113.6h0M596.3 119.1h0M593.0 113.4h0M585.7 108.6h0M597.1 110.6h0M582.2 108.4h0M598.6 91.8h0M582.6 76.5h0M594.7 85.1h0M583.2 117.8h0M598.5 116.5h0M594.6 80.3h0M593.3 118.8h0M585.1 118.6h0M636.2 115.4h0M626.3 115.4h0M615.7 126.9h0M620.2 126.9h0M617.0 127.5h0M607.2 126.9h0M623.1 127.5h0M627.0 127.5h0M617.2 126.9h0M625.0 115.4h0M623.5 115.4h0M620.3 127.5h0M636.8 115.4h0M638.0 126.9h0M642.7 127.5h0M633.1 126.9h0M617.6 126.9h0M640.7 127.5h0M609.3 115.4h0M632.5 126.9h0M638.3 115.4h0M626.8 127.5h0M610.1 115.4h0M635.8 126.9h0M642.5 126.9h0M610.3 126.9h0M641.8 115.4h0M614.9 115.4h0M638.2 127.5h0M621.4 127.5h0M633.7 126.9h0M607.6 115.4h0M614.8 115.4h0M613.5 115.4h0M616.1 126.9h0M635.8 126.9h0M615.3 126.9h0M626.3 115.4h0M622.2 126.9h0M635.3 115.4h0" stroke="#ea2b2a" stroke-width="3.7" stroke-linecap="round" fill="none"/>
<path d="M576.6 67.0h0M582.6 74.3h0M577.8 79.1h0M576.6 85.2h0M579.0 81.5h0M588.7 73.1h0M587.5 75.5h0M592.3 73.1h0M594.8 63.4h0M597.2 57.3h0M597.2 68.2h0M586.3 88.8h0M580.2 99.7h0M581.4 105.7h0M585.1 96.0h0M579.0 113.0h0M587.5 102.1h0M615.3 156.5h0M643.1 91.2h0M628.6 74.3h0M618.9 73.1h0M611.7 133.6h0" stroke="#1c1c1c" stroke-width="3.7" stroke-linecap="round" fill="none"/>
<rect x="533.6" y="24.0" width="170.9" height="170.7" fill="none" stroke="#a3a3a3" stroke-width="1.5"/>
<circle cx="540.7" cy="35.9" r="2.4" fill="#ea2b2a"/>
<circle cx="588.0" cy="35.9" r="2.4" fill="#1c1c1c"/>
<circle cx="660.3" cy="35.9" r="2.4" fill="#cfcfcf"/>
<text x="546.3" y="39.7" font-size="13.5" text-anchor="start" font-weight="normal" fill="#222" >RBP</text>
<text x="593.6" y="39.7" font-size="13.5" text-anchor="start" font-weight="normal" fill="#222" >candRBP</text>
<text x="664.8" y="39.7" font-size="13.5" text-anchor="start" font-weight="normal" fill="#222" >other</text>
<text x="530.6" y="71.8" font-size="13.5" text-anchor="end" font-weight="normal" fill="#222" >5</text>
<text x="530.6" y="132.3" font-size="13.5" text-anchor="end" font-weight="normal" fill="#222" >0</text>
<text x="530.6" y="192.8" font-size="13.5" text-anchor="end" font-weight="normal" fill="#222" >-5</text>
<text x="539.3" y="209.2" font-size="13.5" text-anchor="middle" font-weight="normal" fill="#222" >−5</text>
<text x="600.8" y="209.2" font-size="13.5" text-anchor="middle" font-weight="normal" fill="#222" >0</text>
<text x="661.3" y="209.2" font-size="13.5" text-anchor="middle" font-weight="normal" fill="#222" >5</text>
<text x="616.3" y="221.9" font-size="13.5" text-anchor="middle" font-weight="normal" fill="#222" >log<tspan font-size="9" dy="3">2</tspan><tspan dy="-3">(CL/noCL) _rep2</tspan></text>
<g transform="translate(512.1,111.7) rotate(-90)">
<text x="0.0" y="0.0" font-size="13.5" text-anchor="middle" font-weight="normal" fill="#222" >log<tspan font-size="9" dy="3">2</tspan><tspan dy="-3">(CL/noCL)_rep3</tspan></text>
</g>
<path d="M54.5 246.9V417.6M84.8 246.9V417.6M145.2 246.9V417.6M175.5 246.9V417.6M205.8 246.9V417.6M47.8 410.9H218.7M47.8 380.6H218.7M47.8 320.1H218.7M47.8 289.9H218.7M47.8 259.6H218.7" stroke="#dedede" stroke-width="1" fill="none"/>
<path d="M115.0 246.9V417.6M47.8 350.4H218.7" stroke="#b2b2b2" stroke-width="1.3" stroke-dasharray="11.5 4.6" stroke-dashoffset="-4.6" fill="none"/>
<path d="M119.2 351.6h0M111.7 347.9h0M97.0 356.6h0M108.3 356.0h0M101.9 345.8h0M116.1 356.1h0M93.2 354.7h0M114.8 357.3h0M97.3 356.2h0M94.5 350.7h0M96.1 352.2h0M112.1 348.0h0M102.9 347.2h0M107.4 346.7h0M98.0 352.7h0M107.7 345.1h0M108.8 351.3h0M98.1 353.9h0M97.1 344.5h0M116.5 345.8h0M106.1 348.2h0M99.4 351.3h0M95.0 352.1h0M98.1 356.3h0M117.5 356.4h0M114.4 348.3h0M93.4 351.2h0M119.7 344.5h0M107.2 347.4h0M111.4 353.8h0M106.8 349.7h0M102.2 346.8h0M103.7 347.7h0M92.7 351.7h0M92.1 349.1h0M116.1 350.4h0M107.2 349.4h0M97.5 352.5h0M107.6 349.1h0M101.8 351.3h0M100.4 350.3h0M110.4 353.3h0M110.7 346.4h0M106.4 344.6h0M99.8 345.4h0M96.1 352.8h0M114.5 357.2h0M108.6 346.1h0M118.2 348.6h0M100.8 353.2h0M109.1 356.8h0M91.6 345.9h0M109.0 355.5h0M103.3 353.8h0M116.0 353.9h0M111.8 347.8h0M100.1 354.3h0M105.9 352.3h0M108.0 353.3h0M113.9 352.1h0M94.8 347.4h0M116.8 348.6h0M106.7 346.1h0M117.9 357.5h0M105.0 357.4h0M100.5 354.4h0M104.2 348.6h0M115.8 354.2h0M91.1 344.4h0M113.5 350.3h0M94.1 357.0h0M117.9 350.6h0M115.8 347.2h0M112.6 346.9h0M98.2 354.4h0M103.4 347.4h0M113.9 347.6h0M107.6 351.3h0M96.4 348.8h0M109.8 350.8h0M111.9 344.6h0M118.2 356.2h0M99.1 349.5h0M110.8 353.9h0M117.8 351.5h0M113.0 357.0h0M98.9 357.4h0M113.8 350.7h0M118.5 349.6h0M100.2 352.9h0M101.7 355.0h0M93.9 349.0h0M99.9 351.6h0M111.4 354.0h0M103.6 353.4h0M100.2 348.8h0M93.7 352.3h0M94.0 348.7h0M99.5 344.8h0M104.8 348.9h0M106.0 346.7h0M111.1 349.1h0M91.7 355.8h0M112.6 352.2h0M119.1 349.2h0M114.7 347.7h0M118.8 348.9h0M118.0 352.0h0M98.6 356.2h0M98.1 345.8h0M109.9 357.1h0M91.6 351.5h0M106.6 352.9h0M91.4 354.2h0M116.3 348.0h0M114.6 354.1h0M110.2 355.0h0M99.6 344.9h0M97.0 353.8h0M97.1 346.1h0M110.8 349.8h0M115.5 351.5h0M117.4 347.3h0M99.5 354.5h0M106.4 351.7h0M113.7 349.0h0M112.4 349.6h0M98.5 347.8h0M119.3 349.2h0M111.4 354.6h0M94.2 351.7h0M108.0 348.0h0M104.6 350.4h0M93.4 357.0h0M94.3 353.4h0M97.9 355.8h0M100.6 353.2h0M114.7 345.2h0M119.7 347.8h0M91.1 354.5h0M119.8 348.4h0M115.7 355.0h0M97.8 356.4h0M106.0 352.8h0M104.5 355.8h0M91.5 352.5h0M117.7 349.0h0M107.4 356.8h0M103.4 352.7h0M109.1 352.3h0M114.1 354.0h0M112.0 357.6h0M95.1 347.1h0M115.6 353.6h0M96.6 344.9h0M108.0 356.5h0M119.5 350.1h0M99.5 350.9h0M101.5 350.0h0M102.8 352.7h0M112.1 353.6h0M114.9 347.7h0M118.2 355.6h0M115.8 348.2h0M96.1 345.5h0M105.4 355.3h0M96.9 344.4h0M114.1 354.6h0M116.7 357.2h0M111.0 349.2h0M123.9 363.2h0M101.2 370.1h0M73.9 355.5h0M84.7 352.2h0M104.2 362.2h0M113.1 364.0h0M113.7 343.2h0M86.3 356.5h0M124.5 347.9h0M86.7 349.4h0M104.3 352.4h0M85.6 355.1h0M107.1 363.4h0M109.9 356.2h0M113.8 346.4h0M91.7 367.9h0M94.5 347.8h0M110.5 350.0h0M96.2 361.1h0M119.8 352.5h0M99.1 350.8h0M88.4 358.6h0M102.7 333.0h0M81.2 359.1h0M94.0 369.9h0M97.6 358.1h0M100.3 356.3h0M98.8 353.3h0M118.0 348.7h0M116.0 363.3h0M125.4 355.5h0M90.8 364.0h0M110.9 353.8h0M87.5 358.5h0M131.1 347.4h0M98.9 361.7h0M108.3 362.1h0M101.6 364.6h0M114.2 359.5h0M106.2 343.2h0M123.6 355.6h0M118.7 353.2h0M103.7 345.1h0M100.1 355.3h0M115.0 361.4h0M84.3 349.1h0M117.1 336.5h0M113.7 359.3h0M115.1 346.2h0M117.3 345.2h0M114.2 344.5h0M94.2 352.1h0M89.8 361.7h0M114.8 357.9h0M85.0 363.6h0M112.6 343.8h0M110.7 344.2h0M75.2 360.5h0M115.1 353.5h0M111.9 358.7h0M104.1 343.1h0M93.7 337.5h0M106.9 354.7h0M131.9 350.4h0M116.8 342.6h0M96.8 357.1h0M103.6 355.2h0M95.2 347.8h0M108.5 361.0h0M100.6 345.9h0M91.1 358.5h0M106.4 348.6h0M111.0 332.3h0M95.5 358.2h0M105.9 358.7h0M106.5 352.3h0M101.8 356.7h0M89.5 364.6h0M111.9 347.1h0M107.4 359.5h0M107.8 365.6h0M104.8 361.7h0M101.8 345.5h0M102.1 355.6h0M113.0 348.8h0M119.9 352.7h0M97.2 348.0h0M119.2 360.3h0M86.4 361.5h0M120.0 356.8h0M110.9 336.3h0M111.1 351.5h0M108.6 345.7h0M82.0 365.2h0M103.4 337.7h0M131.2 349.4h0M110.7 362.4h0M96.7 354.1h0M97.0 351.5h0M100.9 352.3h0M117.6 353.4h0M109.9 350.6h0M99.0 353.9h0M98.7 361.2h0M96.4 361.2h0M83.1 347.3h0M75.7 354.7h0M94.2 367.9h0M102.3 364.7h0M96.3 344.3h0M113.9 350.8h0M112.8 367.0h0M127.1 347.7h0M95.4 354.0h0M119.3 356.3h0M104.5 335.9h0M100.9 367.7h0M93.0 355.0h0M108.3 339.8h0M101.0 354.6h0M96.7 367.7h0M107.9 362.2h0M96.6 365.5h0M106.8 359.7h0M109.1 337.9h0M103.9 352.5h0M94.2 368.7h0M129.3 366.6h0M102.6 350.1h0M102.9 350.8h0M111.6 352.4h0M99.6 355.9h0M104.2 354.6h0M105.6 348.9h0M104.3 353.9h0M99.1 355.2h0M104.6 353.7h0M108.0 357.4h0M84.7 350.3h0M111.8 346.5h0M113.6 362.1h0M114.7 344.6h0M112.6 361.0h0M102.8 348.8h0M115.1 356.5h0M107.6 347.2h0M82.6 367.2h0M94.4 365.2h0M98.3 350.4h0M98.4 361.9h0M97.5 342.6h0M126.6 357.4h0M99.3 355.7h0M110.1 362.3h0M99.2 354.6h0M89.8 360.0h0M117.5 367.1h0M102.2 353.5h0M104.5 368.7h0M106.2 358.1h0M101.8 373.0h0M116.2 353.9h0M107.7 356.6h0M117.5 358.5h0M92.1 367.9h0M103.6 348.3h0M106.8 353.2h0M95.1 363.5h0M111.3 352.8h0M95.6 356.7h0M114.9 370.9h0M110.5 353.7h0M102.1 364.5h0M115.6 346.7h0M100.9 367.4h0M98.7 354.1h0M95.5 350.9h0M84.9 341.6h0M90.1 364.3h0M116.3 351.6h0M105.2 358.4h0M115.0 351.2h0M115.3 343.8h0M92.9 342.8h0M106.6 361.3h0M127.4 357.9h0M135.4 355.8h0M129.0 361.1h0M65.0 355.5h0M101.6 342.7h0M102.3 356.7h0M122.5 353.1h0M91.5 350.9h0M133.0 352.7h0M111.0 348.4h0M105.7 351.9h0M115.2 343.6h0M90.6 367.8h0M114.4 363.0h0M106.6 354.3h0M118.3 352.8h0M105.2 364.7h0M106.3 365.5h0M113.3 344.0h0M103.5 361.0h0M98.6 348.7h0M116.3 344.9h0M100.5 361.8h0M79.9 351.9h0M101.7 358.8h0M108.6 335.9h0M99.2 358.5h0M91.5 355.0h0M83.7 367.9h0M107.4 360.0h0M104.3 350.3h0M101.6 342.9h0M95.7 363.9h0M104.0 357.8h0M108.1 349.0h0" stroke="#c9c9cb" stroke-width="3.7" stroke-linecap="round" fill="none"/>
<path d="M142.2 335.4h0M115.0 336.5h0M169.4 323.5h0M175.5 312.8h0M127.1 343.4h0M148.3 323.9h0M148.3 336.2h0M115.0 334.5h0M178.5 324.7h0M163.4 326.4h0M139.2 346.7h0M145.2 336.1h0M175.5 302.6h0M115.0 328.0h0M160.4 311.5h0M175.5 326.5h0M136.2 333.7h0M151.3 307.7h0M169.4 336.4h0M142.2 342.9h0M148.3 319.5h0M163.4 306.1h0M148.3 327.2h0M169.4 335.4h0M172.5 339.5h0M169.4 333.2h0M130.1 345.4h0M166.4 334.9h0M160.4 339.3h0M127.1 338.4h0M139.2 316.1h0M160.4 327.2h0M166.4 315.8h0M124.1 334.9h0M115.0 345.9h0M127.1 331.2h0M118.0 337.6h0M175.5 339.8h0M163.4 319.3h0M151.3 344.1h0M175.5 332.2h0M175.5 323.5h0M145.2 316.1h0M142.2 343.0h0M169.4 297.0h0M115.0 345.8h0M124.1 340.3h0M142.2 342.3h0M139.2 332.9h0M175.5 324.4h0M154.3 325.7h0M145.2 336.1h0M136.2 340.8h0M130.1 341.3h0M124.1 332.8h0M166.4 306.0h0M118.0 348.6h0M160.4 343.1h0M121.0 330.2h0M118.0 339.6h0M175.5 301.8h0M142.2 319.3h0M157.3 337.6h0M142.2 331.9h0M121.0 317.4h0M151.3 334.8h0M166.4 330.8h0M169.4 322.0h0M166.4 312.6h0M124.1 341.6h0M139.2 316.0h0M166.4 341.3h0M175.5 319.6h0M160.4 306.1h0M133.2 329.4h0M178.5 334.9h0M169.4 328.5h0M157.3 308.4h0M148.3 309.3h0M157.3 342.9h0M163.4 327.9h0M145.2 331.6h0M166.4 291.5h0M172.5 338.1h0M121.0 336.1h0M118.0 344.6h0M127.1 337.7h0M118.0 333.0h0M139.2 344.9h0M136.2 342.3h0M127.1 324.4h0M136.2 344.0h0M142.2 335.8h0M124.1 348.7h0M133.2 345.6h0M178.5 306.4h0M157.3 331.1h0M127.1 346.0h0M175.5 293.4h0M139.2 346.5h0M133.2 311.7h0M133.2 328.8h0M136.2 345.3h0M175.5 306.9h0M148.3 342.4h0M166.4 319.2h0M130.1 326.2h0M139.2 329.9h0M163.4 322.3h0M172.5 316.8h0M163.4 297.6h0M160.4 306.5h0M172.5 319.0h0M142.2 330.6h0M139.2 326.9h0M136.2 325.6h0M142.2 320.3h0M130.1 314.9h0M175.5 285.8h0M121.0 321.8h0M124.1 343.2h0M124.1 344.9h0M115.0 341.4h0M151.3 342.4h0M169.4 308.8h0M148.3 313.3h0M142.2 342.0h0M169.4 317.5h0M127.1 325.1h0M142.2 343.9h0M142.2 339.7h0M136.2 333.5h0M127.1 336.8h0M151.3 330.8h0M160.4 317.7h0M163.4 340.9h0M118.0 321.5h0M118.0 349.7h0M166.4 323.1h0M151.3 338.8h0M136.2 333.0h0M160.4 302.5h0M136.2 336.1h0M178.5 335.0h0M133.2 334.4h0M124.1 347.2h0M133.2 317.0h0M145.2 345.2h0M139.2 323.2h0M130.1 314.6h0M142.2 328.3h0M133.2 347.7h0M121.0 348.5h0M178.5 308.7h0M160.4 324.0h0M160.4 311.1h0M139.2 326.8h0M163.4 325.7h0M172.5 303.5h0M142.2 325.6h0M148.3 329.2h0M127.1 332.5h0M133.2 334.4h0M166.4 336.0h0M124.1 339.3h0M148.3 338.9h0M142.2 336.4h0M160.4 319.6h0M148.3 322.2h0M166.4 308.6h0M172.5 319.6h0M151.3 340.0h0M142.2 343.3h0M139.2 327.5h0M142.2 329.1h0M175.5 328.6h0M136.2 330.8h0M118.0 343.0h0M133.2 345.4h0M169.4 337.9h0M163.4 335.0h0M163.4 299.0h0M175.5 322.7h0M175.5 329.8h0M175.5 295.8h0M124.1 338.5h0M127.1 341.4h0M136.2 344.5h0M121.0 341.1h0M157.3 334.3h0M139.2 330.0h0M130.1 315.2h0M121.0 342.5h0M145.2 324.2h0M142.2 322.4h0M121.0 316.6h0M130.1 331.4h0M142.2 338.2h0M130.1 344.6h0M127.1 325.7h0M139.2 329.3h0M139.2 347.1h0M175.5 337.4h0M118.0 335.7h0M160.4 332.5h0M157.3 330.0h0M163.4 312.8h0M139.2 344.7h0M121.0 338.5h0M121.0 346.9h0M121.0 347.4h0M136.2 334.5h0M121.0 341.2h0M166.4 331.9h0M172.5 333.5h0M178.5 308.2h0M118.0 336.4h0M133.2 336.0h0M118.0 342.3h0M166.4 330.2h0M133.2 342.7h0M142.2 344.0h0M130.1 344.5h0M127.1 336.7h0M163.4 323.7h0M154.3 335.2h0M160.4 301.1h0M145.2 313.7h0M139.2 323.7h0M169.4 326.1h0M115.0 327.8h0M142.2 335.4h0M166.4 302.1h0M148.3 335.1h0M169.4 333.4h0M175.5 328.5h0M118.0 328.0h0M148.3 314.4h0M124.1 349.2h0M145.2 333.2h0M139.2 330.5h0M163.4 322.0h0M130.1 347.4h0M169.4 300.2h0M118.0 332.7h0M175.5 303.5h0M169.4 303.8h0M136.2 322.5h0M151.3 339.8h0M169.4 330.6h0M115.0 343.1h0M130.1 329.0h0M169.4 339.2h0M139.2 329.4h0M139.2 343.1h0M157.3 326.5h0M178.5 317.8h0M139.2 335.4h0M154.3 341.9h0M154.3 307.0h0M172.5 329.2h0M148.3 343.0h0M154.3 341.0h0M124.1 332.1h0M136.2 332.9h0M130.1 336.0h0M127.1 348.3h0M172.5 314.4h0M130.1 331.0h0M121.0 339.3h0M115.0 345.2h0M115.0 329.7h0M166.4 332.7h0M124.1 339.7h0M172.5 320.3h0M148.3 325.4h0M136.2 338.4h0M154.3 325.1h0M133.2 325.8h0M127.1 340.0h0M154.3 344.0h0M154.3 327.2h0M163.4 327.7h0M166.4 336.0h0M136.2 328.1h0M157.3 342.0h0M172.5 328.6h0M142.2 313.8h0M127.1 332.9h0M130.1 344.2h0M169.4 317.8h0M163.4 339.6h0M130.1 342.7h0M133.2 338.4h0M121.0 337.1h0M172.5 322.0h0M175.5 328.4h0M154.3 327.8h0M154.3 332.3h0M160.4 335.7h0M154.3 342.7h0M121.0 339.3h0M139.2 340.8h0M130.1 345.9h0M136.2 333.0h0M157.3 338.6h0M169.4 321.1h0M118.0 337.4h0M166.4 317.8h0M175.5 325.6h0M127.1 339.8h0M175.5 318.8h0M148.3 326.2h0M148.3 330.4h0M130.1 336.7h0M142.2 344.8h0M148.3 343.1h0M139.2 341.3h0M142.2 325.5h0M172.5 330.7h0M163.4 309.8h0M118.0 328.3h0M169.4 338.6h0M136.2 331.6h0M139.2 326.0h0M145.2 341.2h0M133.2 324.3h0M121.0 342.4h0M145.2 345.2h0M154.3 342.6h0M121.0 319.5h0M136.2 345.3h0M175.5 329.6h0M148.3 305.7h0M124.1 337.4h0M178.5 314.4h0M121.0 343.9h0M154.3 330.5h0M124.1 325.4h0M154.3 316.9h0M160.4 310.7h0M133.2 341.3h0M145.2 344.6h0M130.1 335.2h0M136.2 344.1h0M145.2 319.8h0M145.2 325.7h0M124.1 346.7h0M151.3 338.7h0M145.2 319.2h0M115.0 343.5h0M136.2 342.2h0M115.0 348.6h0M145.2 343.1h0M163.4 304.3h0M139.2 321.8h0M118.0 332.8h0M133.2 345.6h0M166.4 313.7h0M124.1 336.2h0M115.0 341.1h0M172.5 321.5h0M136.2 341.0h0M154.3 340.1h0M145.2 327.6h0M181.2 305.0h0M141.4 330.6h0M139.8 333.6h0M144.2 336.2h0M152.3 307.6h0M141.6 312.7h0M133.0 314.3h0M161.0 303.4h0M149.5 313.4h0M159.0 323.1h0M142.5 343.3h0M169.9 300.5h0M128.8 315.0h0M119.8 331.9h0M154.3 320.0h0M182.2 320.6h0M145.0 315.8h0M149.8 313.8h0M133.0 310.6h0M169.7 309.3h0M150.8 312.6h0M171.1 319.7h0M179.5 294.1h0M151.5 318.8h0M159.8 294.8h0M167.6 300.5h0M163.2 316.6h0M169.3 324.8h0M161.7 304.6h0M156.2 304.2h0M172.0 308.3h0M156.5 326.2h0M143.9 313.9h0M149.1 314.1h0M164.7 307.3h0M160.8 338.6h0M152.8 308.5h0M134.1 335.1h0M125.8 323.8h0M144.1 338.3h0M135.1 323.4h0M156.2 323.1h0M154.0 315.1h0M129.9 313.4h0M173.1 306.1h0M154.7 329.3h0M134.7 323.5h0M112.7 339.6h0M177.6 303.8h0M171.2 306.5h0M136.1 320.0h0M161.9 313.3h0M105.9 322.3h0M160.1 299.3h0M154.9 303.7h0M151.7 312.7h0M145.3 319.3h0M145.3 317.9h0M152.3 327.4h0M152.8 331.7h0M132.4 333.5h0M113.2 331.1h0M107.0 316.3h0M152.4 327.0h0M134.1 329.7h0M167.1 297.2h0M125.9 334.3h0M159.4 301.1h0M147.7 314.5h0M159.8 320.2h0M116.6 323.2h0M150.6 310.3h0M146.0 317.4h0M175.1 300.2h0M143.4 320.1h0M163.1 319.7h0M121.2 323.0h0M157.6 317.6h0M163.0 311.1h0M172.7 308.5h0M144.8 324.3h0M172.1 305.7h0M175.8 307.8h0M180.0 294.8h0M178.9 290.2h0M125.9 319.6h0M123.4 332.0h0M163.9 309.0h0M172.6 323.2h0M128.0 327.8h0M130.3 342.3h0M144.9 329.7h0M134.3 330.4h0M139.9 319.1h0M154.0 309.1h0M130.2 321.6h0M183.0 300.2h0M152.5 317.1h0M144.7 312.0h0M155.8 308.0h0M157.0 319.5h0M121.2 329.9h0M153.0 337.7h0M135.9 317.2h0M182.9 299.5h0M178.0 307.8h0M103.6 344.6h0M151.9 316.3h0M167.3 317.3h0M143.6 317.9h0M161.3 321.1h0M164.0 316.7h0M159.5 306.7h0M132.2 318.0h0M163.4 301.8h0M126.8 329.2h0M178.0 308.4h0M180.6 307.9h0M120.8 322.8h0M121.1 345.8h0M131.8 318.8h0M118.0 333.1h0M167.2 326.9h0M144.8 319.7h0M157.3 314.1h0M144.3 346.0h0M155.5 320.2h0M165.8 311.9h0M173.2 296.8h0M162.6 304.5h0M182.0 291.7h0M161.0 321.7h0M139.5 329.4h0M144.8 331.7h0M179.5 312.1h0M166.4 307.7h0M164.0 300.6h0M171.5 319.4h0M152.6 312.8h0M140.5 319.3h0M149.2 311.5h0M148.5 321.8h0M154.6 318.2h0M147.1 307.5h0M140.2 336.3h0M153.4 322.8h0M142.3 310.2h0M146.9 305.2h0M148.8 325.9h0M136.2 327.2h0M149.4 311.0h0M167.3 324.6h0M146.2 324.3h0M135.8 314.5h0M130.8 347.8h0M136.2 325.1h0M165.5 307.2h0M146.6 316.1h0M141.5 335.3h0M136.7 325.3h0M118.1 319.6h0M167.3 313.0h0M162.0 319.0h0M146.7 308.8h0M167.0 321.1h0M160.3 312.0h0M119.1 310.5h0M152.5 313.9h0M143.4 324.1h0M160.2 328.7h0M156.8 320.4h0M121.7 323.2h0M168.1 322.2h0M127.5 327.1h0M145.1 327.8h0M148.8 303.8h0M146.6 318.6h0M105.3 339.1h0M110.2 329.4h0M105.3 334.6h0M95.6 332.7h0M110.2 325.5h0M105.3 339.9h0M95.6 327.3h0M105.3 333.0h0M95.6 344.4h0M95.6 321.5h0M105.3 334.7h0M100.5 328.9h0M95.6 322.0h0M105.3 326.5h0M110.2 323.8h0M95.6 346.6h0M100.5 332.3h0M110.2 340.3h0M105.3 327.9h0M100.5 331.6h0M110.2 330.6h0M105.3 334.5h0M110.2 339.2h0M95.6 344.6h0M105.3 341.4h0M95.6 332.7h0M110.2 342.8h0M95.6 325.2h0M110.2 331.1h0M100.5 333.8h0M105.3 336.1h0M105.3 326.1h0M110.2 343.7h0M95.6 335.0h0M100.5 327.3h0M115.0 329.0h0M115.1 312.9h0M115.1 345.4h0M115.0 327.5h0M115.7 319.6h0M115.6 333.9h0M115.1 330.9h0M115.4 330.3h0M115.6 326.1h0M115.0 335.8h0M115.0 347.6h0M115.4 343.9h0M115.2 335.1h0M115.7 342.6h0M115.1 335.0h0M115.2 332.7h0M115.3 333.7h0M115.2 328.8h0M115.5 327.5h0M115.1 336.0h0M115.7 319.9h0M115.1 349.2h0M115.6 339.7h0M115.7 321.9h0M115.4 320.9h0M115.3 342.3h0M115.4 330.0h0M115.1 337.0h0M115.6 327.1h0M115.3 312.3h0" stroke="#ea2b2a" stroke-width="3.7" stroke-linecap="round" fill="none"/>
<path d="M158.5 319.7h0M180.0 310.8h0M197.8 299.0h0M186.7 323.2h0M179.0 294.1h0M179.1 326.1h0M184.4 301.7h0M164.0 320.3h0M164.5 336.4h0M190.9 315.6h0M186.5 301.8h0M175.0 315.8h0M173.8 299.9h0M176.1 328.4h0M195.6 309.7h0M192.6 311.8h0M185.6 312.5h0M187.1 313.8h0M163.6 311.5h0M179.2 318.0h0M170.4 309.2h0M185.9 320.8h0M192.3 304.7h0M185.2 313.0h0M174.4 296.1h0M171.8 314.9h0M188.5 316.1h0M180.3 334.7h0M179.4 309.2h0M160.5 330.5h0M165.5 338.4h0M172.9 315.6h0M187.8 320.3h0M202.2 310.5h0M197.6 315.6h0M180.2 311.6h0M168.6 302.7h0M191.3 304.9h0M182.2 321.0h0M177.9 318.6h0M190.4 318.4h0M173.0 307.0h0M166.7 325.9h0M195.3 306.8h0M185.6 301.6h0M172.1 312.3h0M196.6 309.3h0M200.5 300.8h0M173.7 321.2h0M176.5 308.8h0M200.5 300.3h0M182.3 316.8h0M175.3 308.7h0M180.3 312.4h0M185.8 311.2h0M163.4 349.9h0M170.3 343.7h0M163.6 334.3h0M168.4 332.3h0M155.5 332.5h0M150.7 333.3h0M149.9 340.6h0M167.7 345.6h0M102.9 321.4h0M88.4 340.7h0M82.3 344.3h0M99.3 339.5h0M102.9 335.9h0M115.0 308.0h0M135.6 369.8h0M127.1 357.7h0M141.6 360.1h0M121.0 354.0h0M157.3 350.4h0M163.4 350.4h0M167.0 350.4h0" stroke="#1c1c1c" stroke-width="3.7" stroke-linecap="round" fill="none"/>
<rect x="47.8" y="246.9" width="170.9" height="170.7" fill="none" stroke="#a3a3a3" stroke-width="1.5"/>
<circle cx="54.9" cy="258.8" r="2.4" fill="#ea2b2a"/>
<circle cx="102.2" cy="258.8" r="2.4" fill="#1c1c1c"/>
<circle cx="174.5" cy="258.8" r="2.4" fill="#cfcfcf"/>
<text x="60.5" y="262.6" font-size="13.5" text-anchor="start" font-weight="normal" fill="#222" >RBP</text>
<text x="107.8" y="262.6" font-size="13.5" text-anchor="start" font-weight="normal" fill="#222" >candRBP</text>
<text x="179.0" y="262.6" font-size="13.5" text-anchor="start" font-weight="normal" fill="#222" >other</text>
<text x="44.8" y="294.7" font-size="13.5" text-anchor="end" font-weight="normal" fill="#222" >5</text>
<text x="44.8" y="355.2" font-size="13.5" text-anchor="end" font-weight="normal" fill="#222" >0</text>
<text x="44.8" y="415.7" font-size="13.5" text-anchor="end" font-weight="normal" fill="#222" >−5</text>
<text x="53.5" y="434.1" font-size="13.5" text-anchor="middle" font-weight="normal" fill="#222" >−5</text>
<text x="115.0" y="434.1" font-size="13.5" text-anchor="middle" font-weight="normal" fill="#222" >0</text>
<text x="175.5" y="434.1" font-size="13.5" text-anchor="middle" font-weight="normal" fill="#222" >5</text>
<text x="132.0" y="447.6" font-size="13.5" text-anchor="middle" font-weight="normal" fill="#222" >log<tspan font-size="9" dy="3">2</tspan><tspan dy="-3">(CL/noCL) _rep1</tspan></text>
<g transform="translate(25.8,330.7) rotate(-90)">
<text x="0.0" y="0.0" font-size="13.5" text-anchor="middle" font-weight="normal" fill="#222" >log<tspan font-size="9" dy="3">2</tspan><tspan dy="-3">(CL/noCL)_rep2</tspan></text>
</g>
<path d="M302.4 246.9V417.6M332.6 246.9V417.6M393.1 246.9V417.6M423.4 246.9V417.6M453.6 246.9V417.6M295.7 410.9H466.6M295.7 380.6H466.6M295.7 320.1H466.6M295.7 289.9H466.6M295.7 259.6H466.6" stroke="#dedede" stroke-width="1" fill="none"/>
<path d="M362.9 246.9V417.6M295.7 350.4H466.6" stroke="#b2b2b2" stroke-width="1.3" stroke-dasharray="11.5 4.6" stroke-dashoffset="-4.6" fill="none"/>
<path d="M367.7 342.7h0M360.5 352.9h0M347.9 345.2h0M362.9 356.2h0M342.7 342.4h0M341.2 346.1h0M347.9 346.3h0M364.6 347.3h0M349.8 351.4h0M357.0 346.6h0M350.4 349.1h0M354.4 352.4h0M343.1 347.5h0M340.6 347.0h0M362.7 343.4h0M345.4 349.9h0M366.5 350.9h0M368.7 353.3h0M363.9 355.8h0M358.5 343.8h0M354.7 346.5h0M366.2 340.8h0M343.1 348.2h0M338.7 350.5h0M342.1 353.9h0M357.1 355.1h0M342.3 356.3h0M363.1 352.6h0M339.8 346.7h0M360.1 346.5h0M354.7 348.0h0M360.1 351.6h0M364.0 345.5h0M364.5 342.4h0M363.9 348.3h0M353.9 344.9h0M355.7 356.0h0M366.3 353.3h0M352.7 349.3h0M340.4 347.4h0M356.1 343.7h0M356.7 351.6h0M355.3 341.4h0M357.5 343.2h0M337.8 345.6h0M344.1 353.9h0M347.9 353.7h0M340.2 353.1h0M344.7 352.5h0M362.6 355.1h0M343.8 355.6h0M353.4 352.8h0M354.2 352.7h0M343.7 348.8h0M339.7 342.5h0M355.2 350.2h0M354.8 341.5h0M353.0 350.2h0M344.3 350.5h0M361.8 346.8h0M346.2 342.3h0M341.7 350.9h0M361.9 342.1h0M351.9 356.3h0M355.1 349.7h0M338.4 351.0h0M365.2 355.9h0M343.1 353.8h0M362.6 351.6h0M359.0 345.8h0M337.9 349.6h0M341.2 343.9h0M352.9 350.7h0M363.0 343.5h0M339.6 355.0h0M347.7 351.5h0M351.4 349.7h0M368.1 345.9h0M367.7 346.7h0M344.8 347.5h0M342.5 347.3h0M342.0 341.8h0M347.0 342.4h0M344.4 353.2h0M345.2 343.5h0M363.5 344.7h0M355.6 354.2h0M345.0 355.9h0M366.8 354.4h0M360.0 356.4h0M346.4 347.0h0M343.2 355.4h0M365.7 351.9h0M337.7 345.4h0M368.6 347.9h0M338.6 349.9h0M356.7 352.6h0M350.6 344.8h0M358.2 343.4h0M367.4 348.3h0M368.4 354.6h0M353.8 345.8h0M366.7 349.1h0M351.2 342.4h0M352.3 355.5h0M351.7 352.2h0M358.1 343.6h0M339.0 351.5h0M365.8 343.7h0M362.1 350.3h0M367.5 343.1h0M363.3 347.9h0M357.7 354.4h0M338.6 356.2h0M339.2 348.4h0M367.2 347.4h0M362.3 344.6h0M367.2 352.1h0M353.1 341.9h0M347.9 345.5h0M350.5 354.0h0M343.9 350.8h0M338.4 342.6h0M348.7 352.7h0M362.7 356.4h0M361.5 349.4h0M340.3 350.2h0M368.5 355.8h0M346.4 353.6h0M356.1 353.3h0M364.2 350.7h0M367.4 354.5h0M344.7 356.0h0M338.9 353.6h0M356.0 347.8h0M360.3 352.8h0M356.3 341.0h0M347.6 352.8h0M343.3 341.3h0M357.5 348.7h0M353.1 355.2h0M344.6 345.4h0M345.4 348.4h0M365.9 353.6h0M352.3 344.5h0M360.9 343.5h0M366.1 347.4h0M344.6 348.4h0M366.7 353.3h0M346.7 353.3h0M352.3 356.7h0M358.0 342.5h0M346.7 364.2h0M348.2 369.1h0M344.7 351.9h0M342.3 367.0h0M366.6 356.4h0M355.7 351.0h0M341.5 340.1h0M345.2 347.7h0M352.1 346.7h0M329.4 355.3h0M351.6 357.4h0M317.6 364.8h0M343.4 351.4h0M335.5 369.8h0M353.3 352.6h0M344.4 345.8h0M352.2 351.0h0M321.8 344.7h0M339.5 357.9h0M357.9 355.3h0M352.3 349.9h0M375.0 348.7h0M315.1 362.2h0M343.9 355.3h0M340.7 348.2h0M351.1 350.5h0M339.4 372.9h0M356.6 356.2h0M341.5 359.5h0M363.3 370.5h0M356.2 353.0h0M371.7 372.2h0M350.9 356.7h0M331.6 365.1h0M334.7 360.3h0M349.0 357.3h0M319.0 367.2h0M337.5 357.7h0M365.1 337.4h0M333.8 376.3h0M366.5 355.9h0M362.0 367.0h0M347.8 364.1h0M339.0 369.9h0M346.3 337.3h0M338.9 360.4h0M323.6 347.3h0M351.7 352.6h0M342.6 354.5h0M365.1 369.8h0M341.4 347.6h0M335.0 372.0h0M331.8 370.9h0M341.0 345.6h0M340.7 369.3h0M340.0 348.7h0M358.6 365.0h0M339.4 356.2h0M345.0 351.2h0M348.6 349.8h0M351.1 340.5h0M326.4 362.5h0M338.2 358.3h0M335.2 340.3h0M355.5 352.8h0M342.0 352.7h0M342.7 351.1h0M330.4 368.5h0M332.2 344.9h0M354.2 353.5h0M361.2 339.6h0M345.8 341.9h0M358.7 362.5h0M335.7 348.3h0M339.5 365.6h0M342.1 355.9h0M367.5 355.4h0M363.9 364.5h0M350.8 343.6h0M342.2 358.0h0M354.2 363.7h0M325.0 366.6h0M343.8 346.4h0M343.7 356.9h0M348.1 347.5h0M365.4 355.1h0M353.5 366.7h0M343.5 346.0h0M364.3 356.9h0M338.4 361.2h0M355.5 357.4h0M361.8 363.4h0M343.8 384.2h0M333.5 354.4h0M332.7 348.1h0M360.6 366.2h0M351.0 336.4h0M365.4 349.8h0M353.2 346.1h0M342.3 356.7h0M345.0 368.2h0M350.7 364.7h0M359.1 366.6h0M331.4 359.4h0M347.8 341.1h0M347.0 349.0h0M326.5 369.2h0M341.2 353.5h0M343.3 359.3h0M336.5 367.6h0M350.9 346.0h0M331.6 350.5h0M338.1 377.2h0M325.8 369.0h0M350.5 346.7h0M369.3 355.5h0M345.0 352.1h0M348.1 344.2h0M364.7 351.0h0M357.8 357.8h0M342.8 348.0h0M335.0 347.4h0M347.3 351.2h0M344.9 358.5h0M331.0 347.3h0M335.5 345.4h0M359.8 353.2h0M341.8 353.0h0M344.2 364.8h0M338.3 356.8h0M336.6 364.1h0M366.2 361.0h0M353.8 351.2h0M342.5 350.3h0M351.6 348.3h0M351.5 357.5h0M351.7 364.3h0M347.2 364.8h0M350.1 344.3h0M365.9 361.5h0M341.1 362.7h0M348.1 359.5h0M337.2 352.9h0M329.0 347.0h0M353.6 347.0h0M339.0 357.9h0M359.1 359.1h0M358.1 353.1h0M346.2 344.4h0M376.3 351.8h0M331.7 348.4h0M335.4 352.4h0M339.7 335.2h0M357.1 344.0h0M346.7 346.0h0M341.3 340.7h0M347.4 375.5h0M335.2 351.4h0M355.4 364.3h0M349.6 344.9h0M357.1 357.9h0M331.8 365.3h0M353.7 366.3h0M353.9 380.2h0M337.3 354.2h0M332.4 345.7h0M356.4 335.8h0M347.8 348.5h0M349.4 371.8h0M351.2 369.4h0M349.3 347.8h0M347.4 376.1h0M377.8 369.1h0M360.8 361.3h0M337.5 353.4h0M360.0 362.2h0M343.6 338.1h0M343.9 334.4h0M313.0 351.6h0M346.5 350.8h0M352.6 383.0h0M348.4 370.4h0M331.4 364.9h0M352.5 379.2h0M346.4 378.5h0M357.2 372.6h0M342.9 374.1h0M362.5 356.5h0M347.7 350.5h0M373.8 357.8h0M344.5 347.8h0M355.9 348.5h0M351.5 378.5h0M351.6 379.0h0M366.6 364.5h0M353.9 357.2h0M365.8 366.7h0M337.2 375.0h0M350.4 372.4h0M352.2 346.2h0M342.6 348.9h0M325.5 340.3h0M368.0 367.8h0M363.5 371.5h0M343.6 353.3h0M342.4 348.2h0M355.3 359.5h0M358.1 362.0h0M356.5 343.9h0M331.1 359.2h0M353.1 360.9h0M336.9 345.2h0M353.1 348.2h0M356.4 380.2h0M344.9 360.6h0M355.1 355.1h0M322.2 344.1h0M354.8 343.0h0" stroke="#c9c9cb" stroke-width="3.7" stroke-linecap="round" fill="none"/>
<path d="M372.0 334.1h0M375.0 322.3h0M368.9 347.7h0M384.1 332.7h0M390.1 333.3h0M411.3 322.2h0M365.9 342.5h0M393.1 339.6h0M393.1 342.8h0M414.3 341.6h0M365.9 343.6h0M405.2 347.6h0M396.2 335.6h0M390.1 327.1h0M387.1 347.2h0M390.1 347.3h0M399.2 336.9h0M405.2 348.4h0M375.0 326.2h0M390.1 346.0h0M411.3 332.5h0M411.3 346.0h0M393.1 338.3h0M414.3 340.2h0M362.9 345.6h0M393.1 336.2h0M396.2 334.6h0M396.2 340.1h0M387.1 309.1h0M405.2 341.0h0M384.1 344.9h0M372.0 334.8h0M365.9 346.1h0M387.1 333.5h0M411.3 331.3h0M365.9 335.9h0M423.4 314.4h0M365.9 310.9h0M420.4 328.5h0M423.4 338.7h0M384.1 317.4h0M378.0 336.5h0M417.3 341.1h0M372.0 340.4h0M411.3 340.7h0M393.1 338.6h0M387.1 331.4h0M375.0 328.3h0M402.2 331.4h0M393.1 330.7h0M368.9 329.5h0M405.2 341.5h0M411.3 335.8h0M405.2 341.4h0M378.0 340.7h0M405.2 342.8h0M365.9 315.8h0M378.0 332.3h0M405.2 332.1h0M375.0 337.7h0M393.1 313.0h0M423.4 342.0h0M405.2 341.2h0M414.3 341.5h0M411.3 315.9h0M365.9 324.3h0M420.4 341.1h0M393.1 332.8h0M387.1 336.9h0M408.3 346.8h0M423.4 343.3h0M384.1 345.8h0M368.9 345.5h0M423.4 344.6h0M387.1 345.3h0M414.3 325.7h0M393.1 338.2h0M384.1 325.6h0M417.3 335.9h0M411.3 338.4h0M411.3 339.8h0M381.0 344.2h0M399.2 346.6h0M417.3 338.2h0M411.3 314.4h0M399.2 327.6h0M408.3 338.0h0M372.0 340.6h0M384.1 348.4h0M396.2 325.7h0M393.1 315.7h0M362.9 343.6h0M368.9 330.5h0M402.2 330.4h0M378.0 344.1h0M381.0 345.0h0M362.9 323.5h0M381.0 344.0h0M368.9 336.4h0M381.0 339.4h0M417.3 339.9h0M399.2 336.3h0M381.0 337.6h0M411.3 345.4h0M402.2 339.4h0M368.9 346.8h0M402.2 345.1h0M362.9 326.4h0M378.0 337.1h0M390.1 338.1h0M390.1 333.8h0M365.9 332.6h0M368.9 344.3h0M420.4 340.3h0M417.3 348.1h0M414.3 344.6h0M381.0 347.4h0M375.0 322.1h0M368.9 336.8h0M411.3 330.7h0M408.3 337.7h0M414.3 345.9h0M405.2 342.0h0M402.2 339.0h0M417.3 344.0h0M393.1 343.2h0M393.1 345.9h0M387.1 346.7h0M405.2 335.7h0M368.9 340.3h0M390.1 339.6h0M368.9 341.9h0M411.3 333.9h0M399.2 342.9h0M420.4 346.1h0M372.0 343.8h0M423.4 326.6h0M362.9 330.1h0M396.2 345.8h0M372.0 348.0h0M384.1 338.9h0M420.4 339.1h0M390.1 342.8h0M365.9 327.6h0M420.4 324.5h0M396.2 331.0h0M396.2 326.9h0M378.0 335.1h0M420.4 333.6h0M362.9 335.9h0M402.2 341.5h0M378.0 336.9h0M390.1 345.2h0M399.2 332.7h0M390.1 324.3h0M375.0 348.0h0M365.9 347.8h0M393.1 339.8h0M405.2 323.2h0M408.3 330.2h0M362.9 334.6h0M411.3 344.8h0M372.0 339.3h0M372.0 346.6h0M378.0 346.7h0M365.9 343.2h0M365.9 333.8h0M417.3 318.0h0M362.9 334.3h0M414.3 346.9h0M423.4 335.0h0M402.2 347.3h0M381.0 336.9h0M405.2 346.9h0M405.2 343.1h0M423.4 329.6h0M411.3 334.7h0M362.9 347.9h0M362.9 335.7h0M372.0 347.3h0M420.4 347.8h0M384.1 346.9h0M375.0 322.4h0M396.2 334.1h0M387.1 346.0h0M372.0 346.4h0M423.4 339.8h0M368.9 307.9h0M393.1 311.3h0M423.4 332.0h0M411.3 336.5h0M378.0 337.2h0M405.2 330.8h0M372.0 346.5h0M387.1 340.6h0M384.1 334.9h0M390.1 331.5h0M384.1 337.8h0M414.3 338.2h0M411.3 341.2h0M414.3 343.7h0M375.0 347.4h0M420.4 342.3h0M405.2 312.6h0M368.9 337.9h0M365.9 347.1h0M393.1 339.1h0M387.1 329.0h0M372.0 344.9h0M378.0 340.5h0M378.0 341.1h0M390.1 335.7h0M368.9 339.1h0M387.1 320.8h0M390.1 332.5h0M362.9 339.2h0M423.4 336.2h0M378.0 343.7h0M399.2 335.8h0M368.9 328.9h0M390.1 344.6h0M414.3 340.2h0M411.3 317.5h0M362.9 336.1h0M390.1 328.8h0M384.1 347.8h0M402.2 340.7h0M393.1 344.8h0M417.3 326.6h0M378.0 336.4h0M423.4 338.4h0M362.9 323.9h0M387.1 338.8h0M399.2 341.8h0M417.3 341.9h0M399.2 338.6h0M384.1 327.3h0M399.2 346.3h0M405.2 341.0h0M378.0 321.9h0M365.9 342.5h0M372.0 337.9h0M411.3 347.8h0M414.3 330.5h0M381.0 338.5h0M420.4 337.9h0M423.4 340.7h0M417.3 344.9h0M408.3 328.3h0M387.1 340.1h0M408.3 329.9h0M399.2 334.3h0M420.4 347.0h0M384.1 317.7h0M384.1 345.6h0M365.9 341.6h0M393.1 342.0h0M362.9 331.8h0M384.1 337.1h0M402.2 326.8h0M414.3 346.4h0M372.0 344.7h0M372.0 343.1h0M387.1 341.2h0M387.1 320.3h0M384.1 322.6h0M375.0 325.7h0M368.9 338.5h0M393.1 323.6h0M365.9 346.0h0M381.0 348.3h0M405.2 334.8h0M399.2 337.6h0M375.0 324.9h0M393.1 337.9h0M387.1 335.5h0M372.0 330.8h0M375.0 338.5h0M365.9 331.8h0M384.1 326.9h0M402.2 326.8h0M362.9 332.5h0M387.1 338.1h0M375.0 338.5h0M423.4 340.4h0M378.0 339.2h0M411.3 311.7h0M414.3 326.9h0M372.0 345.1h0M368.9 310.7h0M399.2 324.9h0M396.2 343.6h0M381.0 334.7h0M417.3 343.7h0M378.0 347.1h0M393.1 339.1h0M372.0 342.6h0M387.1 321.0h0M362.9 333.0h0M420.4 331.6h0M402.2 340.2h0M375.0 348.1h0M365.9 340.5h0M399.2 343.2h0M411.3 335.1h0M405.2 344.6h0M387.1 344.4h0M381.0 340.5h0M405.2 348.2h0M365.9 340.9h0M414.3 321.5h0M393.1 345.4h0M402.2 342.2h0M420.4 337.1h0M393.1 327.4h0M362.9 344.2h0M381.0 336.0h0M402.2 346.8h0M420.4 339.2h0M368.9 343.0h0M378.0 343.4h0M372.0 345.3h0M387.1 338.2h0M384.1 341.0h0M362.9 326.4h0M362.9 338.3h0M420.4 334.7h0M362.9 337.8h0M396.2 334.4h0M384.1 339.6h0M396.2 345.3h0M399.2 329.1h0M387.1 331.5h0M384.1 322.5h0M417.3 343.0h0M405.2 331.2h0M411.3 342.9h0M399.2 340.8h0M399.2 319.0h0M362.9 339.3h0M399.2 344.7h0M417.3 344.0h0M402.2 346.9h0M414.3 341.5h0M365.9 328.2h0M396.2 342.0h0M365.9 336.9h0M368.9 344.7h0M365.9 327.9h0M405.2 339.5h0M405.2 348.3h0M414.3 318.1h0M375.0 341.6h0M381.0 320.4h0M372.0 323.2h0M375.0 332.7h0M365.9 346.8h0M396.2 324.9h0M405.2 343.9h0M365.9 345.5h0M411.3 344.1h0M387.1 336.9h0M408.3 326.4h0M417.3 335.2h0M399.2 345.4h0M411.3 316.7h0M365.9 332.1h0M393.1 347.2h0M402.2 336.4h0M411.3 323.0h0M390.1 344.6h0M405.2 339.4h0M365.9 348.2h0M384.1 346.1h0M411.3 337.6h0M405.2 345.8h0M362.9 338.0h0M402.2 340.2h0M372.0 314.7h0M393.1 339.6h0M390.1 334.9h0M381.0 336.8h0M378.0 343.5h0M393.1 337.2h0M365.9 330.3h0M378.0 327.0h0M402.2 344.5h0M390.1 344.4h0M405.2 337.6h0M362.9 320.9h0M423.4 338.8h0M417.3 341.1h0M411.3 346.4h0M381.0 315.4h0M381.0 337.8h0M411.3 338.1h0M408.3 328.5h0M375.0 344.5h0M387.1 314.9h0M368.9 335.7h0M378.0 339.7h0M396.2 340.7h0M396.2 342.0h0M381.0 338.2h0M408.3 339.9h0M368.9 333.8h0M420.4 338.6h0M417.3 337.5h0M387.1 348.3h0M378.0 334.6h0M420.4 337.5h0M423.4 330.9h0M375.0 334.4h0M378.0 335.0h0M414.3 331.5h0M414.3 334.8h0M393.1 346.8h0M411.3 339.0h0M414.3 336.6h0M387.1 312.4h0M414.3 345.0h0M381.0 334.8h0M411.3 329.5h0M402.2 342.8h0M378.0 334.0h0M368.9 339.0h0M375.0 317.9h0M372.0 339.3h0M384.1 336.4h0M384.1 337.8h0M359.2 339.1h0M420.7 340.5h0M401.5 340.3h0M390.8 341.6h0M389.2 330.4h0M410.4 336.6h0M402.1 324.1h0M378.2 332.1h0M371.3 346.3h0M396.3 326.2h0M389.4 326.1h0M362.9 344.9h0M350.8 340.6h0M407.6 335.9h0M389.3 334.3h0M377.6 346.3h0M382.3 320.0h0M389.3 323.3h0M428.3 337.5h0M355.6 336.6h0M393.0 332.9h0M395.6 340.7h0M381.5 329.7h0M389.3 346.7h0M364.4 333.0h0M380.3 344.7h0M385.4 340.3h0M382.4 333.4h0M406.7 335.8h0M364.2 329.1h0M396.1 322.0h0M378.5 330.8h0M375.3 341.3h0M376.1 335.9h0M417.6 321.4h0M380.0 323.2h0M394.0 339.3h0M417.1 337.3h0M361.3 332.4h0M386.2 343.3h0M397.6 322.6h0M380.8 336.7h0M382.8 341.2h0M385.3 337.9h0M409.6 321.4h0M396.9 313.9h0M357.2 317.9h0M385.2 331.2h0M405.8 332.5h0M383.6 323.7h0M398.0 336.9h0M384.2 335.6h0M369.1 342.8h0M399.3 331.2h0M378.0 348.7h0M359.2 343.5h0M380.3 317.9h0M382.0 335.6h0M394.8 328.2h0M375.9 339.7h0M382.7 322.2h0M381.1 326.3h0M378.7 330.7h0M381.4 337.0h0M409.5 325.9h0M377.2 338.5h0M379.6 333.2h0M377.6 310.5h0M381.3 335.9h0M356.9 345.9h0M410.1 322.5h0M359.4 327.5h0M398.1 328.0h0M393.6 340.5h0M403.2 320.1h0M384.8 330.6h0M396.3 334.6h0M379.2 331.9h0M394.0 342.0h0M406.8 343.1h0M355.1 338.9h0M398.1 337.7h0M403.3 324.2h0M381.1 331.4h0M379.2 345.2h0M389.6 326.6h0M393.5 347.2h0M375.8 323.8h0M393.9 316.6h0M398.3 342.9h0M390.2 326.6h0M421.9 337.8h0M398.2 329.1h0M387.5 342.6h0M363.3 348.0h0M409.1 334.1h0M407.2 321.5h0M400.8 332.8h0M361.9 333.0h0M413.7 318.3h0M402.2 331.2h0M392.4 344.2h0M369.8 332.2h0M423.6 332.9h0M398.2 315.4h0M403.2 329.7h0M402.6 327.6h0M384.3 323.6h0M399.1 341.4h0M393.4 348.7h0M374.2 346.9h0M400.4 335.0h0M386.9 344.4h0M395.6 341.4h0M393.2 334.8h0M360.7 341.2h0M422.6 349.0h0M399.0 329.8h0M384.0 339.3h0M405.5 330.5h0M384.4 336.9h0M388.1 339.9h0M396.4 330.2h0M379.4 342.3h0M384.3 338.8h0M405.7 339.1h0M396.9 332.2h0M409.8 341.3h0M380.2 336.5h0M408.1 335.1h0M349.6 342.9h0M344.8 340.2h0M359.3 335.2h0M349.6 343.5h0M354.4 326.0h0M349.6 340.2h0M344.8 327.7h0M344.8 342.0h0M359.3 332.8h0M359.3 333.1h0M349.6 325.2h0M354.4 324.1h0M359.3 336.1h0M354.4 338.6h0M354.4 324.6h0M349.6 332.7h0M344.8 329.5h0M359.3 339.6h0M349.6 342.5h0M344.8 337.5h0M354.4 340.0h0M359.3 323.8h0M344.8 326.9h0M359.3 342.9h0M359.3 339.2h0M354.4 345.7h0M344.8 339.2h0M349.6 342.6h0M349.6 340.1h0M349.6 328.4h0M349.6 332.3h0M349.6 340.6h0M349.6 346.4h0M359.3 326.8h0M354.4 340.9h0M363.2 316.7h0M363.6 316.2h0M363.2 328.1h0M363.8 324.3h0M363.8 331.4h0M363.8 316.9h0M363.6 315.1h0M363.3 316.6h0M363.6 318.5h0M363.2 320.8h0M363.6 324.6h0M363.3 313.7h0M363.8 340.5h0M363.6 343.6h0M363.3 335.4h0M362.9 347.2h0M363.3 337.8h0M363.6 313.6h0M363.2 323.4h0M363.7 342.1h0M363.9 324.3h0M363.5 321.5h0M363.8 330.9h0M363.3 330.6h0M363.3 312.9h0" stroke="#ea2b2a" stroke-width="3.7" stroke-linecap="round" fill="none"/>
<path d="M431.8 341.3h0M451.1 337.3h0M421.1 341.8h0M446.1 331.0h0M436.6 335.8h0M416.3 331.3h0M435.8 352.7h0M406.6 341.2h0M407.7 338.4h0M412.3 338.0h0M412.9 346.1h0M418.6 318.8h0M431.3 332.3h0M447.1 326.4h0M418.5 330.6h0M449.6 329.7h0M412.7 343.2h0M428.9 329.2h0M422.0 342.1h0M415.6 340.4h0M445.1 351.8h0M437.3 333.9h0M416.8 335.8h0M435.9 328.0h0M447.2 322.8h0M427.1 338.8h0M435.7 332.5h0M427.3 325.4h0M447.8 328.1h0M436.7 319.5h0M429.5 333.3h0M426.3 344.8h0M436.9 330.2h0M422.9 347.3h0M410.8 322.9h0M425.9 335.5h0M427.6 337.6h0M445.2 335.4h0M436.8 342.6h0M419.7 317.1h0M428.0 336.2h0M452.6 324.7h0M441.2 330.4h0M420.8 340.7h0M436.0 327.4h0M436.0 324.6h0M412.8 335.0h0M430.1 323.7h0M411.1 330.1h0M434.2 331.1h0M435.9 333.4h0M439.5 332.6h0M419.6 328.3h0M423.6 328.5h0M430.9 339.9h0M423.3 327.7h0M420.0 344.1h0M420.4 329.3h0M419.7 327.7h0M426.8 334.8h0M382.1 356.2h0M405.3 352.7h0M414.5 357.5h0M373.2 355.9h0M389.0 357.3h0M408.0 356.7h0M389.9 353.5h0M415.6 357.3h0M405.3 356.9h0M384.9 351.8h0M400.0 357.1h0M395.4 354.0h0M379.4 353.5h0M379.7 353.5h0M375.7 354.0h0M385.3 352.5h0M399.8 356.6h0M381.3 357.1h0M413.3 357.6h0M386.5 354.7h0M406.6 355.2h0M401.9 355.3h0M343.5 331.0h0M335.1 341.9h0M350.8 338.3h0M387.1 356.4h0M411.3 316.5h0M453.6 317.7h0M417.3 320.1h0M344.8 322.6h0" stroke="#1c1c1c" stroke-width="3.7" stroke-linecap="round" fill="none"/>
<rect x="295.7" y="246.9" width="170.9" height="170.7" fill="none" stroke="#a3a3a3" stroke-width="1.5"/>
<circle cx="302.8" cy="258.8" r="2.4" fill="#ea2b2a"/>
<circle cx="350.1" cy="258.8" r="2.4" fill="#1c1c1c"/>
<circle cx="422.4" cy="258.8" r="2.4" fill="#cfcfcf"/>
<text x="308.4" y="262.6" font-size="13.5" text-anchor="start" font-weight="normal" fill="#222" >RBP</text>
<text x="355.7" y="262.6" font-size="13.5" text-anchor="start" font-weight="normal" fill="#222" >candRBP</text>
<text x="426.9" y="262.6" font-size="13.5" text-anchor="start" font-weight="normal" fill="#222" >other</text>
<text x="292.7" y="294.7" font-size="13.5" text-anchor="end" font-weight="normal" fill="#222" >5</text>
<text x="292.7" y="355.2" font-size="13.5" text-anchor="end" font-weight="normal" fill="#222" >0</text>
<text x="292.7" y="415.7" font-size="13.5" text-anchor="end" font-weight="normal" fill="#222" >−5</text>
<text x="301.4" y="433.6" font-size="13.5" text-anchor="middle" font-weight="normal" fill="#222" >−5</text>
<text x="362.9" y="433.6" font-size="13.5" text-anchor="middle" font-weight="normal" fill="#222" >0</text>
<text x="423.4" y="433.6" font-size="13.5" text-anchor="middle" font-weight="normal" fill="#222" >5</text>
<text x="383.3" y="447.0" font-size="13.5" text-anchor="middle" font-weight="normal" fill="#222" >log<tspan font-size="9" dy="3">2</tspan><tspan dy="-3">(CL/noCL) _rep1</tspan></text>
<g transform="translate(271.2,330.7) rotate(-90)">
<text x="0.0" y="0.0" font-size="13.5" text-anchor="middle" font-weight="normal" fill="#222" >log<tspan font-size="9" dy="3">2</tspan><tspan dy="-3">(CL/noCL)_rep3</tspan></text>
</g>
<path d="M542.1 246.7V417.4M572.4 246.7V417.4M632.9 246.7V417.4M663.1 246.7V417.4M693.4 246.7V417.4M535.4 410.7H706.3M535.4 380.4H706.3M535.4 319.9H706.3M535.4 289.7H706.3M535.4 259.4H706.3" stroke="#dedede" stroke-width="1" fill="none"/>
<path d="M602.6 246.7V417.4M535.4 350.2H706.3" stroke="#b2b2b2" stroke-width="1.3" stroke-dasharray="11.5 4.6" stroke-dashoffset="-4.6" fill="none"/>
<path d="M603.4 349.6h0M602.2 327.8h0M595.9 334.4h0M596.2 356.4h0M596.3 335.0h0M593.7 338.4h0M596.4 356.2h0M597.4 348.3h0M597.8 330.3h0M604.0 354.1h0M604.9 340.1h0M604.5 332.7h0M598.7 353.2h0M604.1 326.0h0M600.0 358.1h0M602.7 334.5h0M603.4 326.9h0M604.7 335.6h0M596.9 343.0h0M598.4 334.7h0M600.0 332.3h0M598.6 340.9h0M604.5 333.6h0M604.1 336.9h0M593.4 347.1h0M595.6 352.8h0M593.4 358.3h0M598.1 333.9h0M603.3 327.2h0M599.5 361.8h0M594.3 360.2h0M603.3 350.7h0M601.3 345.9h0M599.5 331.4h0M600.5 359.6h0M600.2 349.4h0M604.7 352.6h0M594.9 328.8h0M597.2 359.3h0M602.3 328.9h0M598.3 356.2h0M603.2 350.0h0M595.0 360.7h0M603.4 353.8h0M593.3 349.1h0M601.0 326.1h0M594.5 339.9h0M595.3 331.0h0M598.2 337.5h0M602.9 342.9h0M598.0 362.0h0M593.9 337.2h0M601.8 341.3h0M592.4 335.2h0M603.0 331.2h0M601.7 338.2h0M596.4 349.2h0M594.2 338.9h0M596.2 332.9h0M594.8 352.7h0M592.9 352.1h0M602.1 332.4h0M603.9 361.0h0M600.8 341.9h0M596.4 328.2h0M600.8 350.9h0M602.8 346.2h0M598.0 345.0h0M598.0 361.4h0M602.6 351.3h0M597.7 355.9h0M599.3 359.7h0M592.1 354.7h0M603.4 337.5h0M601.3 359.0h0M597.7 335.6h0M601.6 346.0h0M592.7 348.5h0M604.3 330.0h0M599.9 349.5h0M599.7 341.4h0M597.9 331.3h0M599.2 358.8h0M601.5 336.9h0M593.1 343.3h0M604.7 338.8h0M600.7 344.9h0M597.4 326.5h0M595.4 345.5h0M593.0 343.6h0M600.5 337.2h0M604.7 352.8h0M594.5 349.3h0M596.2 329.2h0M594.5 345.2h0M605.0 347.5h0M597.8 347.1h0M596.0 350.7h0M602.8 361.8h0M592.6 333.0h0M601.3 346.9h0M598.1 345.1h0M595.1 346.6h0M596.5 340.8h0M596.2 340.9h0M592.3 326.4h0M591.9 345.2h0M596.7 357.6h0M604.7 346.0h0M594.2 350.4h0M594.2 342.5h0M605.0 327.3h0M594.8 336.5h0M599.2 334.6h0M593.8 360.7h0M593.3 329.4h0M592.4 360.8h0M597.9 360.1h0M594.0 327.7h0M594.1 334.6h0M601.7 364.1h0M591.1 351.7h0M591.7 341.4h0M587.1 361.6h0M585.1 336.4h0M588.5 351.9h0M580.4 352.7h0M585.5 367.5h0M600.2 363.3h0M595.9 359.3h0M587.2 353.8h0M592.6 349.8h0M599.1 363.9h0M593.2 350.6h0M607.8 370.3h0M600.0 342.5h0M595.4 346.4h0M602.2 367.6h0M607.4 362.2h0M589.2 336.6h0M593.1 354.8h0M594.2 340.0h0M599.0 350.0h0M579.2 378.1h0M571.8 378.8h0M592.6 353.9h0M601.3 341.7h0M607.4 368.0h0M607.7 354.7h0M596.9 369.0h0M601.9 340.1h0M593.8 332.5h0M599.1 361.2h0M601.3 345.8h0M602.1 352.0h0M615.0 358.4h0M580.5 346.1h0M586.0 362.4h0M596.4 352.5h0M585.0 359.8h0M592.3 374.4h0M598.3 354.8h0M595.0 358.8h0M602.5 365.1h0M605.1 352.0h0M606.1 373.5h0M605.5 359.3h0M591.6 371.3h0M582.1 355.0h0M599.7 345.9h0M586.2 368.7h0M599.6 354.0h0M603.8 352.9h0M587.7 341.2h0M602.3 353.5h0M582.3 339.8h0M601.6 363.3h0M594.9 332.5h0M599.0 342.5h0M602.5 352.3h0M587.0 350.7h0M597.9 370.2h0M597.7 341.7h0M596.7 347.3h0M601.4 375.5h0M595.3 363.3h0M596.1 368.9h0M599.2 368.8h0M593.8 359.1h0M605.2 366.8h0M590.6 358.5h0M592.0 365.1h0M599.1 333.2h0M591.8 375.2h0M605.1 353.1h0M593.8 357.1h0M588.1 373.9h0M595.0 352.9h0M594.6 365.8h0M601.9 334.5h0M588.1 347.3h0M589.0 362.7h0M593.5 363.2h0M597.8 340.3h0M599.2 363.5h0M599.0 344.8h0M593.8 348.9h0M585.6 352.4h0M600.2 353.5h0M596.1 346.9h0M584.7 338.9h0M601.9 340.8h0M582.0 345.6h0M565.0 375.0h0M608.6 372.9h0M597.3 359.4h0M597.8 349.6h0M588.0 365.6h0M600.9 342.0h0M588.6 347.8h0M593.7 349.3h0M592.2 363.3h0M612.1 378.3h0M596.1 364.0h0M590.3 359.4h0M601.5 361.5h0M592.5 361.7h0M600.4 359.8h0M601.4 355.4h0M585.5 345.4h0M584.6 342.9h0M578.8 358.9h0M600.6 342.3h0M576.2 357.1h0M605.1 353.1h0M590.3 347.9h0M600.6 350.2h0M596.8 359.5h0M600.6 364.5h0M599.3 343.8h0M595.7 337.4h0M585.3 350.4h0M599.6 341.5h0M620.0 361.6h0M587.5 358.8h0M584.4 358.5h0M603.4 355.0h0M607.4 351.7h0M591.1 342.7h0M592.2 354.1h0M586.3 334.7h0M584.6 362.8h0M590.9 360.3h0M602.0 339.2h0M598.5 355.3h0M603.2 366.1h0M604.6 354.2h0M592.7 348.7h0M596.8 358.4h0M600.1 345.1h0M615.5 358.0h0M588.3 367.4h0M592.1 337.5h0M603.9 357.3h0M600.3 346.8h0M590.0 349.2h0M592.2 340.7h0M607.4 359.9h0M591.7 342.5h0M607.2 349.1h0M593.1 371.7h0M568.7 334.8h0M603.8 336.5h0M597.1 349.6h0M602.4 360.1h0M583.2 342.3h0M584.3 346.4h0M593.7 342.9h0M601.6 328.8h0M572.3 322.4h0M593.4 334.2h0M589.8 367.9h0M590.2 306.9h0M581.2 368.3h0M585.5 316.0h0M594.0 370.4h0M570.8 331.1h0M586.0 340.5h0M582.4 335.4h0M585.1 352.9h0M591.5 355.8h0M578.4 349.5h0M590.5 333.6h0M583.9 324.3h0M575.2 304.5h0M591.6 357.2h0M595.4 346.0h0M581.0 341.8h0M579.7 336.3h0M598.0 352.3h0M615.4 349.6h0M603.8 355.0h0M575.4 341.7h0M598.8 362.8h0M599.6 342.2h0M591.2 346.7h0M570.2 367.3h0M579.2 334.0h0M585.7 346.6h0M582.7 340.4h0M606.5 369.8h0M575.1 361.6h0M588.7 323.9h0M590.0 353.8h0M582.5 336.7h0" stroke="#c9c9cb" stroke-width="3.7" stroke-linecap="round" fill="none"/>
<path d="M620.8 326.0h0M624.2 333.8h0M610.0 336.0h0M613.3 337.7h0M609.2 324.2h0M615.9 334.9h0M634.5 336.7h0M612.4 346.6h0M617.2 346.3h0M621.2 334.8h0M638.4 330.8h0M626.0 332.9h0M624.8 338.9h0M616.5 338.5h0M630.4 332.8h0M618.2 338.5h0M626.0 343.4h0M612.0 339.2h0M629.3 330.7h0M620.6 342.6h0M611.5 328.4h0M622.6 334.4h0M607.2 333.5h0M615.6 336.8h0M636.2 323.1h0M624.6 328.9h0M620.9 327.0h0M622.6 341.2h0M612.7 342.4h0M627.0 319.9h0M626.5 336.6h0M614.4 320.5h0M615.1 330.8h0M604.1 344.6h0M629.7 329.4h0M633.0 327.8h0M626.7 326.9h0M609.5 331.9h0M619.8 335.9h0M622.7 341.0h0M614.4 340.3h0M618.4 330.7h0M615.3 336.1h0M614.5 347.1h0M618.8 339.8h0M612.8 346.4h0M620.0 339.8h0M611.6 338.7h0M638.3 340.6h0M620.5 330.2h0M615.0 323.5h0M622.2 332.0h0M623.0 327.1h0M607.7 336.5h0M627.6 341.4h0M616.6 330.6h0M621.9 330.0h0M625.1 331.9h0M615.1 335.1h0M603.8 330.7h0M618.3 336.7h0M641.4 319.1h0M633.6 323.1h0M611.5 332.2h0M632.3 333.3h0M618.7 333.3h0M625.7 332.3h0M614.7 322.2h0M621.5 336.4h0M604.3 332.9h0M637.4 334.1h0M626.0 338.1h0M615.7 333.8h0M617.9 333.0h0M608.6 337.9h0M627.8 340.2h0M616.0 328.9h0M629.4 321.0h0M635.4 338.6h0M610.2 338.8h0M610.1 328.2h0M610.6 331.1h0M628.3 326.9h0M624.5 334.3h0M625.4 326.5h0M606.4 340.4h0M617.9 318.3h0M615.3 334.1h0M610.6 326.5h0M605.2 335.4h0M622.0 343.4h0M617.6 334.5h0M633.8 327.5h0M625.0 342.8h0M605.9 335.7h0M621.3 329.1h0M620.2 329.9h0M627.2 339.5h0M627.1 341.6h0M612.8 336.0h0M623.0 338.2h0M625.8 338.2h0M634.9 347.6h0M620.5 330.8h0M620.3 334.3h0M624.0 338.4h0M631.1 334.2h0M623.3 340.9h0M629.2 328.0h0M618.7 339.0h0M610.7 341.7h0M610.6 345.2h0M614.6 323.1h0M613.9 349.3h0M616.0 341.6h0M625.5 336.7h0M616.7 348.4h0M606.4 343.0h0M620.4 333.9h0M610.6 336.2h0M616.6 326.9h0M615.9 346.1h0M624.9 329.0h0M641.4 329.0h0M622.1 340.5h0M626.6 346.4h0M605.3 332.9h0M626.1 324.1h0M624.2 330.4h0M614.5 340.6h0M627.8 338.6h0M625.2 328.9h0M616.0 345.1h0M609.5 340.7h0M641.3 335.5h0M625.2 319.3h0M624.1 334.7h0M628.2 332.0h0M617.2 333.9h0M617.6 341.4h0M608.8 337.6h0M629.9 341.7h0M627.1 335.5h0M633.0 326.1h0M633.0 324.2h0M617.3 333.7h0M616.8 336.8h0M617.0 342.7h0M604.7 324.3h0M617.1 341.3h0M611.6 339.1h0M616.9 335.5h0M613.7 328.6h0M632.8 329.4h0M613.7 338.9h0M619.5 321.4h0M622.2 340.1h0M614.8 336.2h0M609.3 329.0h0M605.6 327.6h0M615.7 332.3h0M622.1 338.9h0M628.6 325.2h0M627.9 337.5h0M624.1 332.9h0M635.9 333.2h0M622.4 348.4h0M615.8 327.1h0M618.0 332.9h0M638.5 333.7h0M623.1 336.2h0M607.8 338.9h0M619.2 332.3h0M628.6 335.9h0M629.7 343.9h0M620.7 338.2h0M624.8 334.6h0M619.7 344.7h0M608.6 332.9h0M617.5 338.9h0M619.6 326.6h0M620.3 337.2h0M611.6 340.3h0M608.1 332.3h0M613.5 334.8h0M617.8 337.9h0M625.5 328.1h0M641.3 327.8h0M613.6 332.5h0M630.6 342.9h0M631.8 318.8h0M609.3 343.3h0M628.4 323.9h0M614.6 335.1h0M610.4 337.8h0M604.7 331.0h0M621.2 348.2h0M614.1 337.7h0M606.8 333.5h0M635.4 330.7h0M621.0 335.5h0M620.9 325.5h0M622.5 329.4h0M623.5 332.6h0M609.6 332.7h0M624.2 339.5h0M632.9 332.8h0M626.2 337.0h0M623.4 326.0h0M618.7 327.7h0M616.2 318.3h0M618.1 344.3h0M619.7 329.5h0M617.8 329.1h0M607.2 337.8h0M616.8 334.1h0M615.9 339.6h0M624.4 341.9h0M612.9 342.8h0M625.6 332.7h0M630.6 336.4h0M641.0 332.9h0M625.3 346.6h0M626.7 326.5h0M618.6 337.9h0M611.1 327.5h0M608.3 336.0h0M632.6 333.7h0M612.6 338.0h0M631.7 325.4h0M626.8 331.5h0M626.5 348.0h0M616.4 325.3h0M627.2 329.2h0M624.6 343.7h0M624.3 346.3h0M612.2 317.1h0M643.8 324.4h0M628.3 332.9h0M606.1 336.0h0M618.7 333.7h0M617.3 332.2h0M615.8 323.5h0M609.3 339.9h0M612.0 329.1h0M617.7 332.9h0M606.5 327.5h0M632.1 334.3h0M611.6 333.2h0M614.8 341.1h0M627.6 332.2h0M621.0 341.0h0M609.4 326.3h0M632.8 336.5h0M616.7 335.2h0M623.0 321.6h0M634.1 323.3h0M614.0 338.1h0M615.5 327.7h0M617.5 327.3h0M619.1 336.1h0M634.3 336.6h0M634.9 324.0h0M630.6 340.7h0M614.0 337.3h0M622.2 325.4h0M613.9 324.7h0M618.2 337.5h0M622.7 330.8h0M615.5 332.5h0M613.6 337.2h0M626.8 333.2h0M603.2 336.5h0M613.1 337.5h0M625.3 345.5h0M622.2 325.6h0M621.4 341.2h0M609.9 331.8h0M610.2 338.0h0M627.6 328.6h0M634.9 345.3h0M619.0 331.7h0M621.4 336.5h0M624.4 330.8h0M613.9 338.3h0M622.4 323.5h0M618.3 339.8h0M614.6 338.9h0M627.0 335.3h0M633.6 337.0h0M634.8 342.5h0M622.5 328.4h0M619.9 329.9h0M606.6 334.4h0M609.6 329.2h0M608.9 335.2h0M610.9 334.9h0M623.8 345.2h0M626.5 329.9h0M623.4 323.4h0M626.2 328.9h0M630.5 348.6h0M609.8 332.3h0M618.6 326.6h0M613.3 330.9h0M626.7 340.6h0M615.6 334.4h0M605.2 326.6h0M605.5 327.2h0M607.4 342.6h0M626.3 333.7h0M625.2 327.1h0M609.7 338.1h0M609.8 338.6h0M606.7 335.2h0M624.7 342.0h0M621.1 336.5h0M615.5 346.0h0M622.5 333.9h0M620.8 339.3h0M607.6 326.2h0M624.8 333.8h0M633.2 329.8h0M622.9 339.7h0M637.0 327.7h0M609.0 339.9h0M624.1 329.3h0M615.6 345.3h0M622.6 335.3h0M623.9 340.5h0M619.0 337.7h0M619.2 324.5h0M617.2 333.2h0M628.1 333.4h0M627.2 337.2h0M634.4 326.8h0M637.1 329.1h0M618.5 339.9h0M604.4 339.8h0M609.0 347.4h0M608.3 347.6h0M611.5 339.3h0M628.0 329.5h0M634.7 329.6h0M619.3 340.0h0M606.2 328.4h0M620.2 323.7h0M623.4 340.1h0M638.0 335.9h0M636.2 328.6h0M618.1 340.1h0M618.1 337.7h0M609.1 337.3h0M625.8 325.9h0M612.4 347.8h0M611.8 328.3h0M614.7 330.8h0M608.9 340.2h0M631.6 326.7h0M619.0 341.7h0M629.4 337.0h0M616.1 343.6h0M628.4 342.2h0M630.2 314.8h0M629.2 329.2h0M623.7 337.8h0M627.9 323.7h0M623.7 334.7h0M612.4 348.8h0M622.2 322.9h0M613.9 337.5h0M605.5 337.8h0M644.2 322.1h0M617.3 332.8h0M640.9 328.6h0M604.9 335.9h0M622.4 348.1h0M619.4 338.7h0M628.8 344.8h0M619.1 324.2h0M622.1 320.1h0M599.5 329.0h0M628.5 324.7h0M609.1 333.2h0M604.7 336.7h0M604.4 331.1h0M632.4 337.6h0M611.6 331.4h0M602.4 337.3h0M619.5 334.8h0M642.2 321.4h0M615.3 329.0h0M603.2 311.5h0M661.3 320.5h0M628.6 327.3h0M617.2 324.8h0M642.2 334.0h0M612.7 338.6h0M635.8 326.5h0M624.8 338.5h0M638.9 327.5h0M617.0 315.2h0M623.3 332.7h0M613.6 319.3h0M648.9 328.4h0M615.4 324.5h0M620.8 327.5h0M629.3 329.8h0M626.3 333.1h0M633.1 343.6h0M633.8 337.1h0M610.2 326.1h0M614.1 334.8h0M618.7 344.0h0M640.5 328.4h0M644.3 330.7h0M632.6 321.7h0M632.5 312.3h0M625.9 332.3h0M647.5 333.9h0M612.9 332.4h0M653.2 307.1h0M632.6 333.1h0M631.2 324.2h0M642.9 336.2h0M607.0 323.8h0M609.2 322.0h0M603.4 328.6h0M649.4 324.7h0M620.3 340.1h0M610.9 331.4h0M651.2 331.0h0M621.9 330.6h0M619.6 337.7h0M627.7 333.0h0M617.5 339.0h0M618.0 332.5h0M638.3 351.4h0M641.0 346.0h0M625.2 321.1h0M612.8 325.9h0M657.8 318.6h0M616.4 310.9h0M625.3 330.4h0M601.1 335.3h0M615.5 312.4h0M608.2 329.6h0M624.4 314.7h0M625.1 327.8h0M616.4 349.0h0M636.8 350.4h0M634.7 341.1h0M636.0 302.4h0M614.2 338.1h0M643.6 321.5h0M609.7 313.4h0M611.0 346.9h0M624.1 337.0h0M636.3 306.4h0M627.8 317.2h0M634.9 319.3h0M616.2 320.4h0M611.0 331.9h0M625.5 324.7h0M601.3 323.4h0M611.0 322.4h0M629.2 341.3h0M643.9 334.0h0M613.7 333.6h0M607.5 325.3h0M616.9 324.3h0M633.2 316.3h0M633.5 339.2h0M613.8 335.3h0M642.2 329.1h0M640.9 335.0h0M619.2 336.5h0M653.3 326.6h0M602.4 326.4h0M615.1 324.3h0M624.9 337.1h0M641.5 343.4h0M628.6 347.0h0M620.9 330.9h0M644.3 323.8h0M619.3 350.5h0M643.7 311.9h0M650.7 338.7h0M621.6 322.7h0M616.2 306.2h0M619.3 320.7h0M640.3 330.1h0M604.4 314.8h0M638.2 331.9h0M642.5 324.0h0M602.3 341.4h0M615.9 324.3h0M625.0 327.4h0M629.3 347.6h0M637.7 323.3h0M621.0 334.6h0M623.3 339.7h0M626.4 331.4h0M636.6 339.2h0M622.3 320.0h0M607.0 347.0h0M634.8 323.7h0M657.3 333.4h0M640.7 336.4h0M622.7 335.2h0M603.2 347.7h0M603.1 322.0h0M602.7 345.3h0M602.2 325.3h0M603.1 347.0h0M602.7 329.4h0M603.1 343.8h0M602.1 321.1h0M602.6 326.9h0M602.2 322.1h0M602.8 326.5h0M602.2 342.0h0M602.5 322.9h0M602.4 341.9h0M602.9 340.8h0M603.0 340.9h0M603.0 327.7h0M602.5 347.1h0M602.5 341.7h0M602.9 335.3h0M602.6 343.9h0M602.3 343.9h0M602.3 321.1h0M602.5 326.0h0M602.7 325.6h0" stroke="#ea2b2a" stroke-width="3.7" stroke-linecap="round" fill="none"/>
<path d="M586.9 330.8h0M590.5 330.8h0M595.3 334.5h0M584.5 340.5h0M591.7 341.7h0M595.3 339.3h0M597.8 336.9h0M580.8 334.5h0M600.2 330.8h0M588.1 322.4h0M592.9 327.2h0M599.0 342.9h0M589.3 334.5h0M607.4 355.0h0M611.1 355.0h0M614.7 353.8h0M617.1 356.2h0M622.0 356.2h0M625.6 355.0h0M629.2 353.8h0M619.5 361.1h0M626.8 352.6h0M634.1 350.2h0M646.2 332.1h0M649.8 338.1h0M655.8 335.7h0M660.7 339.3h0M659.5 332.1h0M638.9 340.5h0M642.5 326.0h0M613.5 349.0h0M635.3 345.4h0M643.7 344.1h0" stroke="#1c1c1c" stroke-width="3.7" stroke-linecap="round" fill="none"/>
<rect x="535.4" y="246.7" width="170.9" height="170.7" fill="none" stroke="#a3a3a3" stroke-width="1.5"/>
<circle cx="542.5" cy="258.6" r="2.4" fill="#ea2b2a"/>
<circle cx="589.8" cy="258.6" r="2.4" fill="#1c1c1c"/>
<circle cx="662.1" cy="258.6" r="2.4" fill="#cfcfcf"/>
<text x="548.1" y="262.4" font-size="13.5" text-anchor="start" font-weight="normal" fill="#222" >RBP</text>
<text x="595.4" y="262.4" font-size="13.5" text-anchor="start" font-weight="normal" fill="#222" >candRBP</text>
<text x="666.6" y="262.4" font-size="13.5" text-anchor="start" font-weight="normal" fill="#222" >other</text>
<text x="532.4" y="294.5" font-size="13.5" text-anchor="end" font-weight="normal" fill="#222" >5</text>
<text x="532.4" y="355.0" font-size="13.5" text-anchor="end" font-weight="normal" fill="#222" >0</text>
<text x="532.4" y="415.5" font-size="13.5" text-anchor="end" font-weight="normal" fill="#222" >−5</text>
<text x="541.1" y="433.4" font-size="13.5" text-anchor="middle" font-weight="normal" fill="#222" >−5</text>
<text x="602.6" y="433.4" font-size="13.5" text-anchor="middle" font-weight="normal" fill="#222" >0</text>
<text x="663.1" y="433.4" font-size="13.5" text-anchor="middle" font-weight="normal" fill="#222" >5</text>
<text x="623.5" y="446.8" font-size="13.5" text-anchor="middle" font-weight="normal" fill="#222" >log<tspan font-size="9" dy="3">2</tspan><tspan dy="-3">(CL/noCL) _rep2</tspan></text>
<g transform="translate(513.9,330.7) rotate(-90)">
<text x="0.0" y="0.0" font-size="13.5" text-anchor="middle" font-weight="normal" fill="#222" >log<tspan font-size="9" dy="3">2</tspan><tspan dy="-3">(CL/noCL)_rep3</tspan></text>
</g>
<text x="1.0" y="14.0" font-size="16" text-anchor="start" font-weight="bold" fill="#111" >A</text>
<text x="3.0" y="237.0" font-size="16" text-anchor="start" font-weight="bold" fill="#111" >B</text>
<text x="1.0" y="478.5" font-size="16" text-anchor="start" font-weight="bold" fill="#111" >C</text>
<text x="252.0" y="487.0" font-size="16" text-anchor="start" font-weight="bold" fill="#111" >D</text>
<text x="390.5" y="487.6" font-size="16" text-anchor="start" font-weight="bold" fill="#111" >E</text>
<text x="3.0" y="711.7" font-size="16" text-anchor="start" font-weight="bold" fill="#111" >F</text>
<text x="342.0" y="711.7" font-size="16" text-anchor="start" font-weight="bold" fill="#111" >G</text>
<rect x="11" y="504.5" width="38.5" height="78.29999999999995" fill="#918fb2"/>
<rect x="11" y="582.8" width="38.5" height="81.90000000000009" fill="#b4b5c4"/>
<rect x="11" y="504.5" width="38.5" height="160.2" fill="none" stroke="#000" stroke-width="2.6"/>
<path d="M11 582.8H49.5" stroke="#000" stroke-width="3.6"/>
<rect x="196.5" y="504.5" width="38" height="83.70000000000005" fill="#918fb2"/>
<rect x="196.5" y="588.2" width="38" height="74.29999999999995" fill="#b4b5c4"/>
<rect x="196.5" y="504.5" width="38" height="158" fill="none" stroke="#000" stroke-width="2.6"/>
<path d="M196.5 588.2H234.5" stroke="#000" stroke-width="3.6"/>
<text x="29.7" y="498.5" font-size="11.8" text-anchor="middle" font-weight="normal" fill="#222" >Leaf</text>
<text x="216.5" y="500.5" font-size="11.8" text-anchor="middle" font-weight="normal" fill="#222" >Root</text>
<text x="29.5" y="539.0" font-size="11.8" text-anchor="middle" font-weight="normal" fill="#333" >49%</text>
<text x="29.5" y="555.0" font-size="11.8" text-anchor="middle" font-weight="normal" fill="#333" >(570)</text>
<text x="29.5" y="620.0" font-size="11.8" text-anchor="middle" font-weight="normal" fill="#333" >51%</text>
<text x="29.5" y="636.3" font-size="11.8" text-anchor="middle" font-weight="normal" fill="#333" >(599)</text>
<text x="216.0" y="542.8" font-size="11.8" text-anchor="middle" font-weight="normal" fill="#333" >52%</text>
<text x="216.0" y="558.3" font-size="11.8" text-anchor="middle" font-weight="normal" fill="#333" >(595)</text>
<text x="216.0" y="622.4" font-size="11.8" text-anchor="middle" font-weight="normal" fill="#333" >48%</text>
<text x="216.0" y="638.0" font-size="11.8" text-anchor="middle" font-weight="normal" fill="#333" >(539)</text>
<text x="64.0" y="546.6" font-size="12" text-anchor="start" font-weight="normal" fill="#222" >Linked to RNA biology</text>
<text x="54.7" y="624.1" font-size="12" text-anchor="start" font-weight="normal" fill="#222" >Not linked to RNA biology</text>
<ellipse cx="324.3" cy="562.8" rx="32" ry="41.3" fill="#8fb6d9"/>
<ellipse cx="324.4" cy="603.7" rx="31.8" ry="40.8" fill="#f5bcd4"/>
<clipPath id="cb"><ellipse cx="324.3" cy="562.8" rx="32" ry="41.3"/></clipPath>
<ellipse cx="324.4" cy="603.7" rx="31.8" ry="40.8" fill="#b995c4" clip-path="url(#cb)"/>
<text x="327.9" y="515.0" font-size="12" text-anchor="middle" font-weight="normal" fill="#222" >Leaf RBPome (1,169)</text>
<text x="327.8" y="659.0" font-size="12" text-anchor="middle" font-weight="normal" fill="#222" >Root RBPome (1,134)</text>
<text x="324.4" y="551.8" font-size="12" text-anchor="middle" font-weight="normal" fill="#222" >725</text>
<text x="324.4" y="590.3" font-size="12" text-anchor="middle" font-weight="normal" fill="#222" >444</text>
<text x="324.4" y="626.3" font-size="12" text-anchor="middle" font-weight="normal" fill="#222" >690</text>
<rect x="418.4" y="498.0" width="241.4" height="8.6" fill="#8e3a2a" stroke="#8e8e8e" stroke-width="1.2"/>
<text x="664.3" y="505.4" font-size="10.6" text-anchor="start" font-weight="normal" fill="#3a3a3a" >ribosome</text>
<rect x="418.4" y="509.0" width="41.2" height="8.6" fill="#d45f2a" stroke="#8e8e8e" stroke-width="1.2"/>
<text x="464.1" y="516.4" font-size="10.6" text-anchor="start" font-weight="normal" fill="#3a3a3a" >Aminoacyl-tRNA biosynthesis</text>
<rect x="418.4" y="520.1" width="26.3" height="8.6" fill="#f28e3a" stroke="#8e8e8e" stroke-width="1.2"/>
<text x="449.2" y="527.5" font-size="10.6" text-anchor="start" font-weight="normal" fill="#3a3a3a" >Spliceosome</text>
<rect x="418.4" y="531.1" width="25.2" height="8.6" fill="#f28e3a" stroke="#8e8e8e" stroke-width="1.2"/>
<text x="448.1" y="538.5" font-size="10.6" text-anchor="start" font-weight="normal" fill="#3a3a3a" >embryo development</text>
<rect x="418.4" y="542.2" width="19.6" height="8.6" fill="#f28e3a" stroke="#8e8e8e" stroke-width="1.2"/>
<text x="442.5" y="549.6" font-size="10.6" text-anchor="start" font-weight="normal" fill="#3a3a3a" >mRNA catabolic process</text>
<rect x="418.4" y="553.2" width="18.5" height="8.6" fill="#f28e3a" stroke="#8e8e8e" stroke-width="1.2"/>
<text x="441.4" y="560.6" font-size="10.6" text-anchor="start" font-weight="normal" fill="#3a3a3a" >cellular response to heat</text>
<rect x="418.4" y="564.2" width="15.8" height="8.6" fill="#f4b45a" stroke="#8e8e8e" stroke-width="1.2"/>
<text x="438.7" y="571.6" font-size="10.6" text-anchor="start" font-weight="normal" fill="#3a3a3a" >regulation of translation</text>
<rect x="418.4" y="575.3" width="15.2" height="8.6" fill="#f4b45a" stroke="#8e8e8e" stroke-width="1.2"/>
<text x="438.1" y="582.7" font-size="10.6" text-anchor="start" font-weight="normal" fill="#3a3a3a" >RNA processing</text>
<rect x="418.4" y="586.3" width="14.7" height="8.6" fill="#f4b45a" stroke="#8e8e8e" stroke-width="1.2"/>
<text x="437.6" y="593.7" font-size="10.6" text-anchor="start" font-weight="normal" fill="#3a3a3a" >mRNA surveillance pathway</text>
<rect x="418.4" y="597.4" width="13.3" height="8.6" fill="#f4b45a" stroke="#8e8e8e" stroke-width="1.2"/>
<text x="436.2" y="604.8" font-size="10.6" text-anchor="start" font-weight="normal" fill="#3a3a3a" >cold acclimation</text>
<rect x="418.4" y="608.4" width="12.4" height="8.6" fill="#f4b45a" stroke="#8e8e8e" stroke-width="1.2"/>
<text x="435.3" y="615.8" font-size="10.6" text-anchor="start" font-weight="normal" fill="#3a3a3a" >extracellular transport</text>
<rect x="418.4" y="619.4" width="10.8" height="8.6" fill="#f4d08c" stroke="#8e8e8e" stroke-width="1.2"/>
<text x="433.7" y="626.8" font-size="10.6" text-anchor="start" font-weight="normal" fill="#3a3a3a" >ribonucleoprotein complex biogenesis</text>
<rect x="418.4" y="630.5" width="10.8" height="8.6" fill="#f4d08c" stroke="#8e8e8e" stroke-width="1.2"/>
<text x="433.7" y="637.9" font-size="10.6" text-anchor="start" font-weight="normal" fill="#3a3a3a" >Ribosome biogenesis</text>
<rect x="418.4" y="641.5" width="10.8" height="8.6" fill="#f4d08c" stroke="#8e8e8e" stroke-width="1.2"/>
<text x="433.7" y="648.9" font-size="10.6" text-anchor="start" font-weight="normal" fill="#3a3a3a" >defense response</text>
<rect x="418.4" y="652.6" width="10.2" height="8.6" fill="#f4d08c" stroke="#8e8e8e" stroke-width="1.2"/>
<text x="433.1" y="660.0" font-size="10.6" text-anchor="start" font-weight="normal" fill="#3a3a3a" >nucleobase-containing small molecule metabolic process</text>
<path d="M417.4 665H672" stroke="#222" stroke-width="1.2"/>
<path d="M418.4 665v3.5M473.7 665v3.5M529.0 665v3.5M584.3 665v3.5M639.6 665v3.5" stroke="#222" stroke-width="1"/>
<text x="418.4" y="678.5" font-size="11.5" text-anchor="middle" font-weight="normal" fill="#222" >0</text>
<text x="473.7" y="678.5" font-size="11.5" text-anchor="middle" font-weight="normal" fill="#222" >20</text>
<text x="529.0" y="678.5" font-size="11.5" text-anchor="middle" font-weight="normal" fill="#222" >40</text>
<text x="584.3" y="678.5" font-size="11.5" text-anchor="middle" font-weight="normal" fill="#222" >60</text>
<text x="639.6" y="678.5" font-size="11.5" text-anchor="middle" font-weight="normal" fill="#222" >80</text>
<text x="474.5" y="493.7" font-size="12" text-anchor="start" font-weight="normal" fill="#222" >GO (molecular function)</text>
<text x="520.0" y="692.3" font-size="11.5" text-anchor="start" font-weight="normal" fill="#222" >-log<tspan font-size="8" dy="2.5">10</tspan><tspan dy="-2.5" font-style="italic"> p</tspan></text>
<rect x="3.6" y="727.1" width="241.0" height="8.6" fill="#8e3a2a" stroke="#8e8e8e" stroke-width="1.2"/>
<text x="249.1" y="734.5" font-size="10.6" text-anchor="start" font-weight="normal" fill="#3a3a3a" >chloroplast stroma</text>
<rect x="3.6" y="738.1" width="152.6" height="8.6" fill="#8e3a2a" stroke="#8e8e8e" stroke-width="1.2"/>
<text x="160.7" y="745.5" font-size="10.6" text-anchor="start" font-weight="normal" fill="#3a3a3a" >chloroplast envelope</text>
<rect x="3.6" y="749.2" width="108.5" height="8.6" fill="#8e3a2a" stroke="#8e8e8e" stroke-width="1.2"/>
<text x="116.5" y="756.6" font-size="10.6" text-anchor="start" font-weight="normal" fill="#3a3a3a" >thylakoid</text>
<rect x="3.6" y="760.2" width="54.0" height="8.6" fill="#8e3a2a" stroke="#8e8e8e" stroke-width="1.2"/>
<text x="62.1" y="767.6" font-size="10.6" text-anchor="start" font-weight="normal" fill="#3a3a3a" >tetrapyrrole metabolic process</text>
<rect x="3.6" y="771.3" width="43.9" height="8.6" fill="#d45f2a" stroke="#8e8e8e" stroke-width="1.2"/>
<text x="52.0" y="778.7" font-size="10.6" text-anchor="start" font-weight="normal" fill="#3a3a3a" >plastid organization</text>
<rect x="3.6" y="782.3" width="35.4" height="8.6" fill="#d45f2a" stroke="#8e8e8e" stroke-width="1.2"/>
<text x="43.5" y="789.7" font-size="10.6" text-anchor="start" font-weight="normal" fill="#3a3a3a" >photosynthesis</text>
<rect x="3.6" y="793.3" width="30.6" height="8.6" fill="#d45f2a" stroke="#8e8e8e" stroke-width="1.2"/>
<text x="38.7" y="800.7" font-size="10.6" text-anchor="start" font-weight="normal" fill="#3a3a3a" >ribosome</text>
<rect x="3.6" y="804.4" width="29.4" height="8.6" fill="#d45f2a" stroke="#8e8e8e" stroke-width="1.2"/>
<text x="37.5" y="811.8" font-size="10.6" text-anchor="start" font-weight="normal" fill="#3a3a3a" >carboxylic acid biosynthetic process</text>
<rect x="3.6" y="815.4" width="26.5" height="8.6" fill="#d45f2a" stroke="#8e8e8e" stroke-width="1.2"/>
<text x="34.6" y="822.8" font-size="10.6" text-anchor="start" font-weight="normal" fill="#3a3a3a" >tetraterpenoid metabolic process</text>
<rect x="3.6" y="826.5" width="25.3" height="8.6" fill="#d45f2a" stroke="#8e8e8e" stroke-width="1.2"/>
<text x="33.4" y="833.9" font-size="10.6" text-anchor="start" font-weight="normal" fill="#3a3a3a" >structural constituent of ribosome</text>
<rect x="3.6" y="837.5" width="24.8" height="8.6" fill="#d45f2a" stroke="#8e8e8e" stroke-width="1.2"/>
<text x="32.9" y="844.9" font-size="10.6" text-anchor="start" font-weight="normal" fill="#3a3a3a" >sulfer compound metabolic process</text>
<rect x="3.6" y="848.5" width="23.4" height="8.6" fill="#f28e3a" stroke="#8e8e8e" stroke-width="1.2"/>
<text x="31.5" y="855.9" font-size="10.6" text-anchor="start" font-weight="normal" fill="#3a3a3a" >endopeptidase Clp complex</text>
<rect x="3.6" y="859.6" width="21.4" height="8.6" fill="#f28e3a" stroke="#8e8e8e" stroke-width="1.2"/>
<text x="29.5" y="867.0" font-size="10.6" text-anchor="start" font-weight="normal" fill="#3a3a3a" >nucleobase-containing small molecule metabolic process</text>
<rect x="3.6" y="870.6" width="20.7" height="8.6" fill="#f28e3a" stroke="#8e8e8e" stroke-width="1.2"/>
<text x="28.8" y="878.0" font-size="10.6" text-anchor="start" font-weight="normal" fill="#111" >embryo development ending in seed dormancy</text>
<rect x="3.6" y="881.7" width="20.2" height="8.6" fill="#f28e3a" stroke="#8e8e8e" stroke-width="1.2"/>
<text x="28.3" y="889.1" font-size="10.6" text-anchor="start" font-weight="normal" fill="#3a3a3a" >chloroplast rRNA processing</text>
<path d="M2.6 894.5H257" stroke="#222" stroke-width="1.2"/>
<path d="M3.6 894.5v3.5M51.8 894.5v3.5M100.0 894.5v3.5M148.2 894.5v3.5M196.4 894.5v3.5M244.6 894.5v3.5" stroke="#222" stroke-width="1"/>
<text x="3.6" y="908.0" font-size="11.5" text-anchor="middle" font-weight="normal" fill="#222" >0</text>
<text x="51.8" y="908.0" font-size="11.5" text-anchor="middle" font-weight="normal" fill="#222" >20</text>
<text x="100.0" y="908.0" font-size="11.5" text-anchor="middle" font-weight="normal" fill="#222" >40</text>
<text x="148.2" y="908.0" font-size="11.5" text-anchor="middle" font-weight="normal" fill="#222" >60</text>
<text x="196.4" y="908.0" font-size="11.5" text-anchor="middle" font-weight="normal" fill="#222" >80</text>
<text x="244.6" y="908.0" font-size="11.5" text-anchor="middle" font-weight="normal" fill="#222" >100</text>
<text x="24.0" y="722.8" font-size="12" text-anchor="start" font-weight="normal" fill="#222" >GO (molecular function), leaf-specific</text>
<text x="108.0" y="920.0" font-size="11.5" text-anchor="start" font-weight="normal" fill="#222" >-log<tspan font-size="8" dy="2.5">10</tspan><tspan dy="-2.5" font-style="italic"> p</tspan></text>
<rect x="365.3" y="727.1" width="242.1" height="8.6" fill="#8e3a2a" stroke="#8e8e8e" stroke-width="1.2"/>
<text x="611.9" y="734.5" font-size="10.6" text-anchor="start" font-weight="normal" fill="#3a3a3a" >membrane-enclosed lumen</text>
<rect x="365.3" y="738.1" width="154.5" height="8.6" fill="#d45f2a" stroke="#8e8e8e" stroke-width="1.2"/>
<text x="524.3" y="745.5" font-size="10.6" text-anchor="start" font-weight="normal" fill="#3a3a3a" >cell wall</text>
<rect x="365.3" y="749.2" width="145.2" height="8.6" fill="#d45f2a" stroke="#8e8e8e" stroke-width="1.2"/>
<text x="515.0" y="756.6" font-size="10.6" text-anchor="start" font-weight="normal" fill="#3a3a3a" >plant-type vacuole</text>
<rect x="365.3" y="760.2" width="116.4" height="8.6" fill="#d45f2a" stroke="#8e8e8e" stroke-width="1.2"/>
<text x="486.2" y="767.6" font-size="10.6" text-anchor="start" font-weight="normal" fill="#3a3a3a" >nuclear speck</text>
<rect x="365.3" y="771.3" width="95.8" height="8.6" fill="#f28e3a" stroke="#8e8e8e" stroke-width="1.2"/>
<text x="465.6" y="778.7" font-size="10.6" text-anchor="start" font-weight="normal" fill="#3a3a3a" >cytoplasmic vesicle</text>
<rect x="365.3" y="782.3" width="94.8" height="8.6" fill="#f28e3a" stroke="#8e8e8e" stroke-width="1.2"/>
<text x="464.6" y="789.7" font-size="10.6" text-anchor="start" font-weight="normal" fill="#111" >ATP-dependent protein folding chaperone</text>
<rect x="365.3" y="793.3" width="82.9" height="8.6" fill="#f28e3a" stroke="#8e8e8e" stroke-width="1.2"/>
<text x="452.7" y="800.7" font-size="10.6" text-anchor="start" font-weight="normal" fill="#3a3a3a" >phenylpropanoid metabolic process</text>
<rect x="365.3" y="804.4" width="79.3" height="8.6" fill="#f28e3a" stroke="#8e8e8e" stroke-width="1.2"/>
<text x="449.1" y="811.8" font-size="10.6" text-anchor="start" font-weight="normal" fill="#111" >ATP-dependent activity</text>
<rect x="365.3" y="815.4" width="71.1" height="8.6" fill="#f28e3a" stroke="#8e8e8e" stroke-width="1.2"/>
<text x="440.9" y="822.8" font-size="10.6" text-anchor="start" font-weight="normal" fill="#3a3a3a" >sulfer compound metabolic process</text>
<rect x="365.3" y="826.5" width="71.1" height="8.6" fill="#f28e3a" stroke="#8e8e8e" stroke-width="1.2"/>
<text x="440.9" y="833.9" font-size="10.6" text-anchor="start" font-weight="normal" fill="#3a3a3a" >copper ion binding</text>
<rect x="365.3" y="837.5" width="70.0" height="8.6" fill="#f28e3a" stroke="#8e8e8e" stroke-width="1.2"/>
<text x="439.8" y="844.9" font-size="10.6" text-anchor="start" font-weight="normal" fill="#3a3a3a" >isocitrate metabolic process</text>
<rect x="365.3" y="848.5" width="67.0" height="8.6" fill="#f28e3a" stroke="#8e8e8e" stroke-width="1.2"/>
<text x="436.8" y="855.9" font-size="10.6" text-anchor="start" font-weight="normal" fill="#111" >lyase activity</text>
<rect x="365.3" y="859.6" width="64.9" height="8.6" fill="#f28e3a" stroke="#8e8e8e" stroke-width="1.2"/>
<text x="434.7" y="867.0" font-size="10.6" text-anchor="start" font-weight="normal" fill="#111" >membrane coat</text>
<rect x="365.3" y="870.6" width="64.4" height="8.6" fill="#f28e3a" stroke="#8e8e8e" stroke-width="1.2"/>
<text x="434.2" y="878.0" font-size="10.6" text-anchor="start" font-weight="normal" fill="#3a3a3a" >glucose metabolic process</text>
<rect x="365.3" y="881.7" width="62.8" height="8.6" fill="#f28e3a" stroke="#8e8e8e" stroke-width="1.2"/>
<text x="432.6" y="889.1" font-size="10.6" text-anchor="start" font-weight="normal" fill="#3a3a3a" >response to cadmium ion</text>
<path d="M364.3 894.5H619" stroke="#222" stroke-width="1.2"/>
<path d="M365.3 894.5v3.5M416.8 894.5v3.5M468.3 894.5v3.5M519.8 894.5v3.5M571.3 894.5v3.5" stroke="#222" stroke-width="1"/>
<text x="365.3" y="908.0" font-size="11.5" text-anchor="middle" font-weight="normal" fill="#222" >0</text>
<text x="416.8" y="908.0" font-size="11.5" text-anchor="middle" font-weight="normal" fill="#222" >5</text>
<text x="468.3" y="908.0" font-size="11.5" text-anchor="middle" font-weight="normal" fill="#222" >10</text>
<text x="519.8" y="908.0" font-size="11.5" text-anchor="middle" font-weight="normal" fill="#222" >15</text>
<text x="571.3" y="908.0" font-size="11.5" text-anchor="middle" font-weight="normal" fill="#222" >20</text>
<text x="383.4" y="722.8" font-size="12" text-anchor="start" font-weight="normal" fill="#222" >GO (molecular function), root-specific</text>
<text x="473.5" y="917.5" font-size="11.5" text-anchor="start" font-weight="normal" fill="#222" >-log<tspan font-size="8" dy="2.5">10</tspan><tspan dy="-2.5" font-style="italic"> p</tspan></text>
</svg></body></html>
